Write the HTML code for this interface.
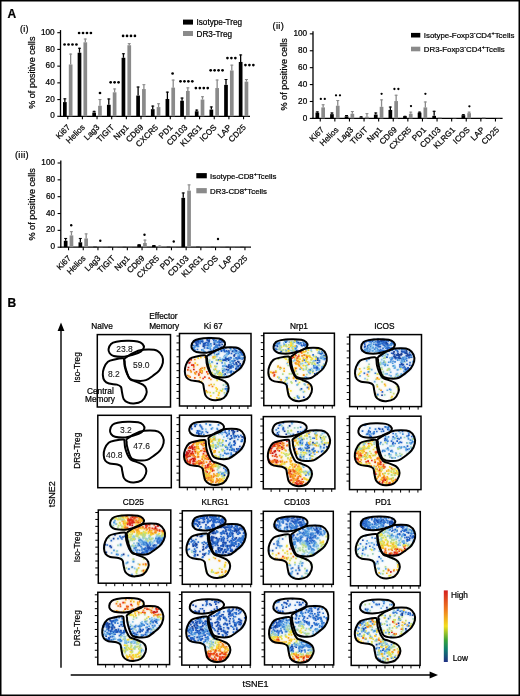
<!DOCTYPE html><html><head><meta charset="utf-8"><style>html,body{margin:0;padding:0;background:#fff;}body{width:520px;height:696px;overflow:hidden;} svg{display:block;will-change:transform;} text{stroke:#000;stroke-width:0.22px;}</style></head><body><svg width="520" height="696" viewBox="0 0 520 696" font-family='"Liberation Sans", sans-serif' fill="#000"><rect x="0" y="0" width="520" height="696" fill="#fff"/><text x="7.5" y="17.6" font-size="12" font-weight="bold">A</text><text x="20" y="32.2" font-size="9" letter-spacing="0.3">(i)</text><text x="272.6" y="29.3" font-size="9.3" letter-spacing="0.3">(ii)</text><text x="14.9" y="158" font-size="9.3" letter-spacing="0.35">(iii)</text><text x="31.9" y="72.7" font-size="9.1" text-anchor="middle" dominant-baseline="central" transform="rotate(-90 31.9 72.7)">% of positive cells</text><text x="284.3" y="74.4" font-size="9.1" text-anchor="middle" dominant-baseline="central" transform="rotate(-90 284.3 74.4)">% of positive cells</text><text x="31.8" y="204.4" font-size="9.1" text-anchor="middle" dominant-baseline="central" transform="rotate(-90 31.8 204.4)">% of positive cells</text><line x1="60.5" y1="30.1" x2="60.5" y2="116.9" stroke="#000" stroke-width="1.3"/><line x1="59.9" y1="116.3" x2="250" y2="116.3" stroke="#000" stroke-width="1.3"/><line x1="57.3" y1="116.3" x2="60.5" y2="116.3" stroke="#000" stroke-width="1.1"/><text x="54.7" y="118.4" font-size="8.2" text-anchor="end">0</text><line x1="57.3" y1="99.58" x2="60.5" y2="99.58" stroke="#000" stroke-width="1.1"/><text x="54.7" y="101.68" font-size="8.2" text-anchor="end">20</text><line x1="57.3" y1="82.86" x2="60.5" y2="82.86" stroke="#000" stroke-width="1.1"/><text x="54.7" y="84.96" font-size="8.2" text-anchor="end">40</text><line x1="57.3" y1="66.14" x2="60.5" y2="66.14" stroke="#000" stroke-width="1.1"/><text x="54.7" y="68.24" font-size="8.2" text-anchor="end">60</text><line x1="57.3" y1="49.42" x2="60.5" y2="49.42" stroke="#000" stroke-width="1.1"/><text x="54.7" y="51.52" font-size="8.2" text-anchor="end">80</text><line x1="57.3" y1="32.7" x2="60.5" y2="32.7" stroke="#000" stroke-width="1.1"/><text x="54.7" y="34.8" font-size="8.2" text-anchor="end">100</text><line x1="67.75" y1="116.3" x2="67.75" y2="119.3" stroke="#000" stroke-width="1.1"/><line x1="64.85" y1="102.09" x2="64.85" y2="98.33" stroke="#000" stroke-width="1.3"/><line x1="63.35" y1="98.83" x2="66.35" y2="98.83" stroke="#000" stroke-width="1"/><rect x="63" y="102.09" width="3.7" height="14.21" fill="#000"/><line x1="70.65" y1="64.47" x2="70.65" y2="53.6" stroke="#8a8a8a" stroke-width="1.3"/><line x1="69.15" y1="54.1" x2="72.15" y2="54.1" stroke="#8a8a8a" stroke-width="1"/><rect x="68.8" y="64.47" width="3.7" height="51.83" fill="#8a8a8a"/><text x="70.75" y="127.9" font-size="8.2" text-anchor="end" transform="rotate(-45 70.75 127.9)">Ki67</text><line x1="82.4" y1="116.3" x2="82.4" y2="119.3" stroke="#000" stroke-width="1.1"/><line x1="79.5" y1="52.76" x2="79.5" y2="47.75" stroke="#000" stroke-width="1.3"/><line x1="78" y1="48.25" x2="81" y2="48.25" stroke="#000" stroke-width="1"/><rect x="77.65" y="52.76" width="3.7" height="63.54" fill="#000"/><line x1="85.3" y1="42.31" x2="85.3" y2="38.55" stroke="#8a8a8a" stroke-width="1.3"/><line x1="83.8" y1="39.05" x2="86.8" y2="39.05" stroke="#8a8a8a" stroke-width="1"/><rect x="83.45" y="42.31" width="3.7" height="73.99" fill="#8a8a8a"/><text x="85.4" y="127.9" font-size="8.2" text-anchor="end" transform="rotate(-45 85.4 127.9)">Helios</text><line x1="97.05" y1="116.3" x2="97.05" y2="119.3" stroke="#000" stroke-width="1.1"/><line x1="94.15" y1="112.54" x2="94.15" y2="110.87" stroke="#000" stroke-width="1.3"/><line x1="92.65" y1="111.37" x2="95.65" y2="111.37" stroke="#000" stroke-width="1"/><rect x="92.3" y="112.54" width="3.7" height="3.76" fill="#000"/><line x1="99.95" y1="105.77" x2="99.95" y2="99.08" stroke="#8a8a8a" stroke-width="1.3"/><line x1="98.45" y1="99.58" x2="101.45" y2="99.58" stroke="#8a8a8a" stroke-width="1"/><rect x="98.1" y="105.77" width="3.7" height="10.53" fill="#8a8a8a"/><text x="100.05" y="127.9" font-size="8.2" text-anchor="end" transform="rotate(-45 100.05 127.9)">Lag3</text><line x1="111.7" y1="116.3" x2="111.7" y2="119.3" stroke="#000" stroke-width="1.1"/><line x1="108.8" y1="104.76" x2="108.8" y2="98.49" stroke="#000" stroke-width="1.3"/><line x1="107.3" y1="98.99" x2="110.3" y2="98.99" stroke="#000" stroke-width="1"/><rect x="106.95" y="104.76" width="3.7" height="11.54" fill="#000"/><line x1="114.6" y1="92.31" x2="114.6" y2="88.46" stroke="#8a8a8a" stroke-width="1.3"/><line x1="113.1" y1="88.96" x2="116.1" y2="88.96" stroke="#8a8a8a" stroke-width="1"/><rect x="112.75" y="92.31" width="3.7" height="23.99" fill="#8a8a8a"/><text x="114.7" y="127.9" font-size="8.2" text-anchor="end" transform="rotate(-45 114.7 127.9)">TIGIT</text><line x1="126.35" y1="116.3" x2="126.35" y2="119.3" stroke="#000" stroke-width="1.1"/><line x1="123.45" y1="57.78" x2="123.45" y2="53.27" stroke="#000" stroke-width="1.3"/><line x1="121.95" y1="53.77" x2="124.95" y2="53.77" stroke="#000" stroke-width="1"/><rect x="121.6" y="57.78" width="3.7" height="58.52" fill="#000"/><line x1="129.25" y1="45.24" x2="129.25" y2="43.15" stroke="#8a8a8a" stroke-width="1.3"/><line x1="127.75" y1="43.65" x2="130.75" y2="43.65" stroke="#8a8a8a" stroke-width="1"/><rect x="127.4" y="45.24" width="3.7" height="71.06" fill="#8a8a8a"/><text x="129.35" y="127.9" font-size="8.2" text-anchor="end" transform="rotate(-45 129.35 127.9)">Nrp1</text><line x1="141" y1="116.3" x2="141" y2="119.3" stroke="#000" stroke-width="1.1"/><line x1="138.1" y1="95.57" x2="138.1" y2="86.54" stroke="#000" stroke-width="1.3"/><line x1="136.6" y1="87.04" x2="139.6" y2="87.04" stroke="#000" stroke-width="1"/><rect x="136.25" y="95.57" width="3.7" height="20.73" fill="#000"/><line x1="143.9" y1="89.05" x2="143.9" y2="84.2" stroke="#8a8a8a" stroke-width="1.3"/><line x1="142.4" y1="84.7" x2="145.4" y2="84.7" stroke="#8a8a8a" stroke-width="1"/><rect x="142.05" y="89.05" width="3.7" height="27.25" fill="#8a8a8a"/><text x="144" y="127.9" font-size="8.2" text-anchor="end" transform="rotate(-45 144 127.9)">CD69</text><line x1="155.65" y1="116.3" x2="155.65" y2="119.3" stroke="#000" stroke-width="1.1"/><line x1="152.75" y1="109.19" x2="152.75" y2="105.6" stroke="#000" stroke-width="1.3"/><line x1="151.25" y1="106.1" x2="154.25" y2="106.1" stroke="#000" stroke-width="1"/><rect x="150.9" y="109.19" width="3.7" height="7.11" fill="#000"/><line x1="158.55" y1="107.1" x2="158.55" y2="103.26" stroke="#8a8a8a" stroke-width="1.3"/><line x1="157.05" y1="103.76" x2="160.05" y2="103.76" stroke="#8a8a8a" stroke-width="1"/><rect x="156.7" y="107.1" width="3.7" height="9.2" fill="#8a8a8a"/><text x="158.65" y="127.9" font-size="8.2" text-anchor="end" transform="rotate(-45 158.65 127.9)">CXCR5</text><line x1="170.3" y1="116.3" x2="170.3" y2="119.3" stroke="#000" stroke-width="1.1"/><line x1="167.4" y1="98.99" x2="167.4" y2="91.64" stroke="#000" stroke-width="1.3"/><line x1="165.9" y1="92.14" x2="168.9" y2="92.14" stroke="#000" stroke-width="1"/><rect x="165.55" y="98.99" width="3.7" height="17.31" fill="#000"/><line x1="173.2" y1="87.63" x2="173.2" y2="79.6" stroke="#8a8a8a" stroke-width="1.3"/><line x1="171.7" y1="80.1" x2="174.7" y2="80.1" stroke="#8a8a8a" stroke-width="1"/><rect x="171.35" y="87.63" width="3.7" height="28.67" fill="#8a8a8a"/><text x="173.3" y="127.9" font-size="8.2" text-anchor="end" transform="rotate(-45 173.3 127.9)">PD1</text><line x1="184.95" y1="116.3" x2="184.95" y2="119.3" stroke="#000" stroke-width="1.1"/><line x1="182.05" y1="100.75" x2="182.05" y2="97.57" stroke="#000" stroke-width="1.3"/><line x1="180.55" y1="98.07" x2="183.55" y2="98.07" stroke="#000" stroke-width="1"/><rect x="180.2" y="100.75" width="3.7" height="15.55" fill="#000"/><line x1="187.85" y1="90.97" x2="187.85" y2="87.37" stroke="#8a8a8a" stroke-width="1.3"/><line x1="186.35" y1="87.87" x2="189.35" y2="87.87" stroke="#8a8a8a" stroke-width="1"/><rect x="186" y="90.97" width="3.7" height="25.33" fill="#8a8a8a"/><text x="187.95" y="127.9" font-size="8.2" text-anchor="end" transform="rotate(-45 187.95 127.9)">CD103</text><line x1="199.6" y1="116.3" x2="199.6" y2="119.3" stroke="#000" stroke-width="1.1"/><line x1="196.7" y1="111.28" x2="196.7" y2="109.61" stroke="#000" stroke-width="1.3"/><line x1="195.2" y1="110.11" x2="198.2" y2="110.11" stroke="#000" stroke-width="1"/><rect x="194.85" y="111.28" width="3.7" height="5.02" fill="#000"/><line x1="202.5" y1="99.58" x2="202.5" y2="96.24" stroke="#8a8a8a" stroke-width="1.3"/><line x1="201" y1="96.74" x2="204" y2="96.74" stroke="#8a8a8a" stroke-width="1"/><rect x="200.65" y="99.58" width="3.7" height="16.72" fill="#8a8a8a"/><text x="202.6" y="127.9" font-size="8.2" text-anchor="end" transform="rotate(-45 202.6 127.9)">KLRG1</text><line x1="214.25" y1="116.3" x2="214.25" y2="119.3" stroke="#000" stroke-width="1.1"/><line x1="211.35" y1="109.61" x2="211.35" y2="106.44" stroke="#000" stroke-width="1.3"/><line x1="209.85" y1="106.94" x2="212.85" y2="106.94" stroke="#000" stroke-width="1"/><rect x="209.5" y="109.61" width="3.7" height="6.69" fill="#000"/><line x1="217.15" y1="88.04" x2="217.15" y2="79.52" stroke="#8a8a8a" stroke-width="1.3"/><line x1="215.65" y1="80.02" x2="218.65" y2="80.02" stroke="#8a8a8a" stroke-width="1"/><rect x="215.3" y="88.04" width="3.7" height="28.26" fill="#8a8a8a"/><text x="217.25" y="127.9" font-size="8.2" text-anchor="end" transform="rotate(-45 217.25 127.9)">ICOS</text><line x1="228.9" y1="116.3" x2="228.9" y2="119.3" stroke="#000" stroke-width="1.1"/><line x1="226" y1="84.87" x2="226" y2="79.01" stroke="#000" stroke-width="1.3"/><line x1="224.5" y1="79.51" x2="227.5" y2="79.51" stroke="#000" stroke-width="1"/><rect x="224.15" y="84.87" width="3.7" height="31.43" fill="#000"/><line x1="231.8" y1="70.49" x2="231.8" y2="64.64" stroke="#8a8a8a" stroke-width="1.3"/><line x1="230.3" y1="65.14" x2="233.3" y2="65.14" stroke="#8a8a8a" stroke-width="1"/><rect x="229.95" y="70.49" width="3.7" height="45.81" fill="#8a8a8a"/><text x="231.9" y="127.9" font-size="8.2" text-anchor="end" transform="rotate(-45 231.9 127.9)">LAP</text><line x1="243.55" y1="116.3" x2="243.55" y2="119.3" stroke="#000" stroke-width="1.1"/><line x1="240.65" y1="61.96" x2="240.65" y2="54.44" stroke="#000" stroke-width="1.3"/><line x1="239.15" y1="54.94" x2="242.15" y2="54.94" stroke="#000" stroke-width="1"/><rect x="238.8" y="61.96" width="3.7" height="54.34" fill="#000"/><line x1="246.45" y1="81.69" x2="246.45" y2="79.01" stroke="#8a8a8a" stroke-width="1.3"/><line x1="244.95" y1="79.51" x2="247.95" y2="79.51" stroke="#8a8a8a" stroke-width="1"/><rect x="244.6" y="81.69" width="3.7" height="34.61" fill="#8a8a8a"/><text x="246.55" y="127.9" font-size="8.2" text-anchor="end" transform="rotate(-45 246.55 127.9)">CD25</text><circle cx="64.58" cy="44.5" r="1.35"/><circle cx="68.53" cy="44.5" r="1.35"/><circle cx="72.47" cy="44.5" r="1.35"/><circle cx="76.42" cy="44.5" r="1.35"/><circle cx="79.08" cy="33" r="1.35"/><circle cx="83.03" cy="33" r="1.35"/><circle cx="86.97" cy="33" r="1.35"/><circle cx="90.92" cy="33" r="1.35"/><circle cx="100" cy="93" r="1.35"/><circle cx="110.65" cy="82.3" r="1.35"/><circle cx="114.6" cy="82.3" r="1.35"/><circle cx="118.55" cy="82.3" r="1.35"/><circle cx="123.08" cy="35.9" r="1.35"/><circle cx="127.03" cy="35.9" r="1.35"/><circle cx="130.97" cy="35.9" r="1.35"/><circle cx="134.93" cy="35.9" r="1.35"/><circle cx="172.6" cy="73.5" r="1.35"/><circle cx="180.47" cy="81.3" r="1.35"/><circle cx="184.43" cy="81.3" r="1.35"/><circle cx="188.38" cy="81.3" r="1.35"/><circle cx="192.33" cy="81.3" r="1.35"/><circle cx="195.88" cy="88.1" r="1.35"/><circle cx="199.83" cy="88.1" r="1.35"/><circle cx="203.78" cy="88.1" r="1.35"/><circle cx="207.73" cy="88.1" r="1.35"/><circle cx="210.67" cy="70.3" r="1.35"/><circle cx="214.62" cy="70.3" r="1.35"/><circle cx="218.57" cy="70.3" r="1.35"/><circle cx="222.53" cy="70.3" r="1.35"/><circle cx="227.45" cy="58.1" r="1.35"/><circle cx="231.4" cy="58.1" r="1.35"/><circle cx="235.35" cy="58.1" r="1.35"/><circle cx="245.45" cy="65.1" r="1.35"/><circle cx="249.4" cy="65.1" r="1.35"/><circle cx="253.35" cy="65.1" r="1.35"/><line x1="313" y1="31.25" x2="313" y2="119" stroke="#000" stroke-width="1.3"/><line x1="312.4" y1="118.4" x2="502.6" y2="118.4" stroke="#000" stroke-width="1.3"/><line x1="309.8" y1="118.4" x2="313" y2="118.4" stroke="#000" stroke-width="1.1"/><text x="307.2" y="120.5" font-size="8.2" text-anchor="end">0</text><line x1="309.8" y1="101.49" x2="313" y2="101.49" stroke="#000" stroke-width="1.1"/><text x="307.2" y="103.59" font-size="8.2" text-anchor="end">20</text><line x1="309.8" y1="84.58" x2="313" y2="84.58" stroke="#000" stroke-width="1.1"/><text x="307.2" y="86.68" font-size="8.2" text-anchor="end">40</text><line x1="309.8" y1="67.67" x2="313" y2="67.67" stroke="#000" stroke-width="1.1"/><text x="307.2" y="69.77" font-size="8.2" text-anchor="end">60</text><line x1="309.8" y1="50.76" x2="313" y2="50.76" stroke="#000" stroke-width="1.1"/><text x="307.2" y="52.86" font-size="8.2" text-anchor="end">80</text><line x1="309.8" y1="33.85" x2="313" y2="33.85" stroke="#000" stroke-width="1.1"/><text x="307.2" y="35.95" font-size="8.2" text-anchor="end">100</text><line x1="320.25" y1="118.4" x2="320.25" y2="121.4" stroke="#000" stroke-width="1.1"/><line x1="317.35" y1="112.65" x2="317.35" y2="111.38" stroke="#000" stroke-width="1.3"/><line x1="315.85" y1="111.88" x2="318.85" y2="111.88" stroke="#000" stroke-width="1"/><rect x="315.5" y="112.65" width="3.7" height="5.75" fill="#000"/><line x1="323.15" y1="107.41" x2="323.15" y2="104.28" stroke="#8a8a8a" stroke-width="1.3"/><line x1="321.65" y1="104.78" x2="324.65" y2="104.78" stroke="#8a8a8a" stroke-width="1"/><rect x="321.3" y="107.41" width="3.7" height="10.99" fill="#8a8a8a"/><text x="324.45" y="130.3" font-size="8.2" text-anchor="end" transform="rotate(-45 324.45 130.3)">Ki67</text><line x1="334.85" y1="118.4" x2="334.85" y2="121.4" stroke="#000" stroke-width="1.1"/><line x1="331.95" y1="114.17" x2="331.95" y2="112.48" stroke="#000" stroke-width="1.3"/><line x1="330.45" y1="112.98" x2="333.45" y2="112.98" stroke="#000" stroke-width="1"/><rect x="330.1" y="114.17" width="3.7" height="4.23" fill="#000"/><line x1="337.75" y1="105.72" x2="337.75" y2="100.05" stroke="#8a8a8a" stroke-width="1.3"/><line x1="336.25" y1="100.55" x2="339.25" y2="100.55" stroke="#8a8a8a" stroke-width="1"/><rect x="335.9" y="105.72" width="3.7" height="12.68" fill="#8a8a8a"/><text x="339.05" y="130.3" font-size="8.2" text-anchor="end" transform="rotate(-45 339.05 130.3)">Helios</text><line x1="349.45" y1="118.4" x2="349.45" y2="121.4" stroke="#000" stroke-width="1.1"/><line x1="346.55" y1="116.29" x2="346.55" y2="115.02" stroke="#000" stroke-width="1.3"/><line x1="345.05" y1="115.52" x2="348.05" y2="115.52" stroke="#000" stroke-width="1"/><rect x="344.7" y="116.29" width="3.7" height="2.11" fill="#000"/><line x1="352.35" y1="113.75" x2="352.35" y2="111.04" stroke="#8a8a8a" stroke-width="1.3"/><line x1="350.85" y1="111.54" x2="353.85" y2="111.54" stroke="#8a8a8a" stroke-width="1"/><rect x="350.5" y="113.75" width="3.7" height="4.65" fill="#8a8a8a"/><text x="353.65" y="130.3" font-size="8.2" text-anchor="end" transform="rotate(-45 353.65 130.3)">Lag3</text><line x1="364.05" y1="118.4" x2="364.05" y2="121.4" stroke="#000" stroke-width="1.1"/><line x1="361.15" y1="117.55" x2="361.15" y2="116.29" stroke="#000" stroke-width="1.3"/><line x1="359.65" y1="116.79" x2="362.65" y2="116.79" stroke="#000" stroke-width="1"/><rect x="359.3" y="117.55" width="3.7" height="0.85" fill="#000"/><line x1="366.95" y1="116.71" x2="366.95" y2="113.16" stroke="#8a8a8a" stroke-width="1.3"/><line x1="365.45" y1="113.66" x2="368.45" y2="113.66" stroke="#8a8a8a" stroke-width="1"/><rect x="365.1" y="116.71" width="3.7" height="1.69" fill="#8a8a8a"/><text x="368.25" y="130.3" font-size="8.2" text-anchor="end" transform="rotate(-45 368.25 130.3)">TIGIT</text><line x1="378.65" y1="118.4" x2="378.65" y2="121.4" stroke="#000" stroke-width="1.1"/><line x1="375.75" y1="114.6" x2="375.75" y2="112.48" stroke="#000" stroke-width="1.3"/><line x1="374.25" y1="112.98" x2="377.25" y2="112.98" stroke="#000" stroke-width="1"/><rect x="373.9" y="114.6" width="3.7" height="3.8" fill="#000"/><line x1="381.55" y1="106.82" x2="381.55" y2="99.38" stroke="#8a8a8a" stroke-width="1.3"/><line x1="380.05" y1="99.88" x2="383.05" y2="99.88" stroke="#8a8a8a" stroke-width="1"/><rect x="379.7" y="106.82" width="3.7" height="11.58" fill="#8a8a8a"/><text x="382.85" y="130.3" font-size="8.2" text-anchor="end" transform="rotate(-45 382.85 130.3)">Nrp1</text><line x1="393.25" y1="118.4" x2="393.25" y2="121.4" stroke="#000" stroke-width="1.1"/><line x1="390.35" y1="109.95" x2="390.35" y2="106.56" stroke="#000" stroke-width="1.3"/><line x1="388.85" y1="107.06" x2="391.85" y2="107.06" stroke="#000" stroke-width="1"/><rect x="388.5" y="109.95" width="3.7" height="8.46" fill="#000"/><line x1="396.15" y1="101.07" x2="396.15" y2="94.73" stroke="#8a8a8a" stroke-width="1.3"/><line x1="394.65" y1="95.23" x2="397.65" y2="95.23" stroke="#8a8a8a" stroke-width="1"/><rect x="394.3" y="101.07" width="3.7" height="17.33" fill="#8a8a8a"/><text x="397.45" y="130.3" font-size="8.2" text-anchor="end" transform="rotate(-45 397.45 130.3)">CD69</text><line x1="407.85" y1="118.4" x2="407.85" y2="121.4" stroke="#000" stroke-width="1.1"/><line x1="404.95" y1="116.29" x2="404.95" y2="115.86" stroke="#000" stroke-width="1.3"/><line x1="403.45" y1="116.36" x2="406.45" y2="116.36" stroke="#000" stroke-width="1"/><rect x="403.1" y="116.29" width="3.7" height="2.11" fill="#000"/><line x1="410.75" y1="113.75" x2="410.75" y2="111.64" stroke="#8a8a8a" stroke-width="1.3"/><line x1="409.25" y1="112.14" x2="412.25" y2="112.14" stroke="#8a8a8a" stroke-width="1"/><rect x="408.9" y="113.75" width="3.7" height="4.65" fill="#8a8a8a"/><text x="412.05" y="130.3" font-size="8.2" text-anchor="end" transform="rotate(-45 412.05 130.3)">CXCR5</text><line x1="422.45" y1="118.4" x2="422.45" y2="121.4" stroke="#000" stroke-width="1.1"/><line x1="419.55" y1="112.65" x2="419.55" y2="111.64" stroke="#000" stroke-width="1.3"/><line x1="418.05" y1="112.14" x2="421.05" y2="112.14" stroke="#000" stroke-width="1"/><rect x="417.7" y="112.65" width="3.7" height="5.75" fill="#000"/><line x1="425.35" y1="107.41" x2="425.35" y2="101.49" stroke="#8a8a8a" stroke-width="1.3"/><line x1="423.85" y1="101.99" x2="426.85" y2="101.99" stroke="#8a8a8a" stroke-width="1"/><rect x="423.5" y="107.41" width="3.7" height="10.99" fill="#8a8a8a"/><text x="426.65" y="130.3" font-size="8.2" text-anchor="end" transform="rotate(-45 426.65 130.3)">PD1</text><line x1="437.05" y1="118.4" x2="437.05" y2="121.4" stroke="#000" stroke-width="1.1"/><line x1="434.15" y1="115.86" x2="434.15" y2="110.79" stroke="#000" stroke-width="1.3"/><line x1="432.65" y1="111.29" x2="435.65" y2="111.29" stroke="#000" stroke-width="1"/><rect x="432.3" y="115.86" width="3.7" height="2.54" fill="#000"/><rect x="438.1" y="117.55" width="3.7" height="0.85" fill="#8a8a8a"/><text x="441.25" y="130.3" font-size="8.2" text-anchor="end" transform="rotate(-45 441.25 130.3)">CD103</text><line x1="451.65" y1="118.4" x2="451.65" y2="121.4" stroke="#000" stroke-width="1.1"/><rect x="446.9" y="118.06" width="3.7" height="0.34" fill="#000"/><rect x="452.7" y="118.06" width="3.7" height="0.34" fill="#8a8a8a"/><text x="455.85" y="130.3" font-size="8.2" text-anchor="end" transform="rotate(-45 455.85 130.3)">KLRG1</text><line x1="466.25" y1="118.4" x2="466.25" y2="121.4" stroke="#000" stroke-width="1.1"/><line x1="463.35" y1="115.19" x2="463.35" y2="114.17" stroke="#000" stroke-width="1.3"/><line x1="461.85" y1="114.67" x2="464.85" y2="114.67" stroke="#000" stroke-width="1"/><rect x="461.5" y="115.19" width="3.7" height="3.21" fill="#000"/><line x1="469.15" y1="113.16" x2="469.15" y2="111.64" stroke="#8a8a8a" stroke-width="1.3"/><line x1="467.65" y1="112.14" x2="470.65" y2="112.14" stroke="#8a8a8a" stroke-width="1"/><rect x="467.3" y="113.16" width="3.7" height="5.24" fill="#8a8a8a"/><text x="470.45" y="130.3" font-size="8.2" text-anchor="end" transform="rotate(-45 470.45 130.3)">ICOS</text><line x1="480.85" y1="118.4" x2="480.85" y2="121.4" stroke="#000" stroke-width="1.1"/><rect x="476.1" y="117.98" width="3.7" height="0.42" fill="#000"/><rect x="481.9" y="117.39" width="3.7" height="1.01" fill="#8a8a8a"/><text x="485.05" y="130.3" font-size="8.2" text-anchor="end" transform="rotate(-45 485.05 130.3)">LAP</text><line x1="495.45" y1="118.4" x2="495.45" y2="121.4" stroke="#000" stroke-width="1.1"/><rect x="490.7" y="117.98" width="3.7" height="0.42" fill="#000"/><rect x="496.5" y="118.06" width="3.7" height="0.34" fill="#8a8a8a"/><text x="499.65" y="130.3" font-size="8.2" text-anchor="end" transform="rotate(-45 499.65 130.3)">CD25</text><circle cx="320.82" cy="98.9" r="1.15"/><circle cx="324.78" cy="98.9" r="1.15"/><circle cx="336.02" cy="95.3" r="1.15"/><circle cx="339.98" cy="95.3" r="1.15"/><circle cx="381.6" cy="93.8" r="1.15"/><circle cx="394.42" cy="89" r="1.15"/><circle cx="398.38" cy="89" r="1.15"/><circle cx="411" cy="106.1" r="1.15"/><circle cx="425.4" cy="93.8" r="1.15"/><circle cx="469.4" cy="106.3" r="1.15"/><line x1="60.8" y1="160.4" x2="60.8" y2="247.8" stroke="#000" stroke-width="1.3"/><line x1="60.2" y1="247.2" x2="251" y2="247.2" stroke="#000" stroke-width="1.3"/><line x1="57.6" y1="247.2" x2="60.8" y2="247.2" stroke="#000" stroke-width="1.1"/><text x="55" y="249.3" font-size="8.2" text-anchor="end">0</text><line x1="57.6" y1="230.36" x2="60.8" y2="230.36" stroke="#000" stroke-width="1.1"/><text x="55" y="232.46" font-size="8.2" text-anchor="end">20</text><line x1="57.6" y1="213.52" x2="60.8" y2="213.52" stroke="#000" stroke-width="1.1"/><text x="55" y="215.62" font-size="8.2" text-anchor="end">40</text><line x1="57.6" y1="196.68" x2="60.8" y2="196.68" stroke="#000" stroke-width="1.1"/><text x="55" y="198.78" font-size="8.2" text-anchor="end">60</text><line x1="57.6" y1="179.84" x2="60.8" y2="179.84" stroke="#000" stroke-width="1.1"/><text x="55" y="181.94" font-size="8.2" text-anchor="end">80</text><line x1="57.6" y1="163" x2="60.8" y2="163" stroke="#000" stroke-width="1.1"/><text x="55" y="165.1" font-size="8.2" text-anchor="end">100</text><line x1="68.55" y1="247.2" x2="68.55" y2="250.2" stroke="#000" stroke-width="1.1"/><line x1="65.65" y1="240.8" x2="65.65" y2="237.94" stroke="#000" stroke-width="1.3"/><line x1="64.15" y1="238.44" x2="67.15" y2="238.44" stroke="#000" stroke-width="1"/><rect x="63.8" y="240.8" width="3.7" height="6.4" fill="#000"/><line x1="71.45" y1="235.41" x2="71.45" y2="231.2" stroke="#8a8a8a" stroke-width="1.3"/><line x1="69.95" y1="231.7" x2="72.95" y2="231.7" stroke="#8a8a8a" stroke-width="1"/><rect x="69.6" y="235.41" width="3.7" height="11.79" fill="#8a8a8a"/><text x="71.55" y="258.8" font-size="8.2" text-anchor="end" transform="rotate(-45 71.55 258.8)">Ki67</text><line x1="83.25" y1="247.2" x2="83.25" y2="250.2" stroke="#000" stroke-width="1.1"/><line x1="80.35" y1="242.32" x2="80.35" y2="237.94" stroke="#000" stroke-width="1.3"/><line x1="78.85" y1="238.44" x2="81.85" y2="238.44" stroke="#000" stroke-width="1"/><rect x="78.5" y="242.32" width="3.7" height="4.88" fill="#000"/><line x1="86.15" y1="238.44" x2="86.15" y2="233.39" stroke="#8a8a8a" stroke-width="1.3"/><line x1="84.65" y1="233.89" x2="87.65" y2="233.89" stroke="#8a8a8a" stroke-width="1"/><rect x="84.3" y="238.44" width="3.7" height="8.76" fill="#8a8a8a"/><text x="86.25" y="258.8" font-size="8.2" text-anchor="end" transform="rotate(-45 86.25 258.8)">Helios</text><line x1="97.95" y1="247.2" x2="97.95" y2="250.2" stroke="#000" stroke-width="1.1"/><rect x="93.2" y="246.69" width="3.7" height="0.51" fill="#000"/><rect x="99" y="246.69" width="3.7" height="0.51" fill="#8a8a8a"/><text x="100.95" y="258.8" font-size="8.2" text-anchor="end" transform="rotate(-45 100.95 258.8)">Lag3</text><line x1="112.65" y1="247.2" x2="112.65" y2="250.2" stroke="#000" stroke-width="1.1"/><rect x="107.9" y="246.86" width="3.7" height="0.34" fill="#000"/><rect x="113.7" y="246.86" width="3.7" height="0.34" fill="#8a8a8a"/><text x="115.65" y="258.8" font-size="8.2" text-anchor="end" transform="rotate(-45 115.65 258.8)">TIGIT</text><line x1="127.35" y1="247.2" x2="127.35" y2="250.2" stroke="#000" stroke-width="1.1"/><rect x="122.6" y="246.86" width="3.7" height="0.34" fill="#000"/><rect x="128.4" y="246.86" width="3.7" height="0.34" fill="#8a8a8a"/><text x="130.35" y="258.8" font-size="8.2" text-anchor="end" transform="rotate(-45 130.35 258.8)">Nrp1</text><line x1="142.05" y1="247.2" x2="142.05" y2="250.2" stroke="#000" stroke-width="1.1"/><line x1="139.15" y1="244.67" x2="139.15" y2="244.25" stroke="#000" stroke-width="1.3"/><line x1="137.65" y1="244.75" x2="140.65" y2="244.75" stroke="#000" stroke-width="1"/><rect x="137.3" y="244.67" width="3.7" height="2.53" fill="#000"/><line x1="144.95" y1="242.99" x2="144.95" y2="239.62" stroke="#8a8a8a" stroke-width="1.3"/><line x1="143.45" y1="240.12" x2="146.45" y2="240.12" stroke="#8a8a8a" stroke-width="1"/><rect x="143.1" y="242.99" width="3.7" height="4.21" fill="#8a8a8a"/><text x="145.05" y="258.8" font-size="8.2" text-anchor="end" transform="rotate(-45 145.05 258.8)">CD69</text><line x1="156.75" y1="247.2" x2="156.75" y2="250.2" stroke="#000" stroke-width="1.1"/><line x1="153.85" y1="245.52" x2="153.85" y2="245.09" stroke="#000" stroke-width="1.3"/><line x1="152.35" y1="245.59" x2="155.35" y2="245.59" stroke="#000" stroke-width="1"/><rect x="152" y="245.52" width="3.7" height="1.68" fill="#000"/><line x1="159.65" y1="245.94" x2="159.65" y2="245.52" stroke="#8a8a8a" stroke-width="1.3"/><line x1="158.15" y1="246.02" x2="161.15" y2="246.02" stroke="#8a8a8a" stroke-width="1"/><rect x="157.8" y="245.94" width="3.7" height="1.26" fill="#8a8a8a"/><text x="159.75" y="258.8" font-size="8.2" text-anchor="end" transform="rotate(-45 159.75 258.8)">CXCR5</text><line x1="171.45" y1="247.2" x2="171.45" y2="250.2" stroke="#000" stroke-width="1.1"/><rect x="166.7" y="246.69" width="3.7" height="0.51" fill="#000"/><rect x="172.5" y="246.69" width="3.7" height="0.51" fill="#8a8a8a"/><text x="174.45" y="258.8" font-size="8.2" text-anchor="end" transform="rotate(-45 174.45 258.8)">PD1</text><line x1="186.15" y1="247.2" x2="186.15" y2="250.2" stroke="#000" stroke-width="1.1"/><line x1="183.25" y1="197.86" x2="183.25" y2="192.47" stroke="#000" stroke-width="1.3"/><line x1="181.75" y1="192.97" x2="184.75" y2="192.97" stroke="#000" stroke-width="1"/><rect x="181.4" y="197.86" width="3.7" height="49.34" fill="#000"/><line x1="189.05" y1="190.62" x2="189.05" y2="184.39" stroke="#8a8a8a" stroke-width="1.3"/><line x1="187.55" y1="184.89" x2="190.55" y2="184.89" stroke="#8a8a8a" stroke-width="1"/><rect x="187.2" y="190.62" width="3.7" height="56.58" fill="#8a8a8a"/><text x="189.15" y="258.8" font-size="8.2" text-anchor="end" transform="rotate(-45 189.15 258.8)">CD103</text><line x1="200.85" y1="247.2" x2="200.85" y2="250.2" stroke="#000" stroke-width="1.1"/><rect x="196.1" y="246.69" width="3.7" height="0.51" fill="#000"/><rect x="201.9" y="246.69" width="3.7" height="0.51" fill="#8a8a8a"/><text x="203.85" y="258.8" font-size="8.2" text-anchor="end" transform="rotate(-45 203.85 258.8)">KLRG1</text><line x1="215.55" y1="247.2" x2="215.55" y2="250.2" stroke="#000" stroke-width="1.1"/><rect x="210.8" y="246.86" width="3.7" height="0.34" fill="#000"/><rect x="216.6" y="246.86" width="3.7" height="0.34" fill="#8a8a8a"/><text x="218.55" y="258.8" font-size="8.2" text-anchor="end" transform="rotate(-45 218.55 258.8)">ICOS</text><line x1="230.25" y1="247.2" x2="230.25" y2="250.2" stroke="#000" stroke-width="1.1"/><rect x="225.5" y="246.86" width="3.7" height="0.34" fill="#000"/><rect x="231.3" y="246.86" width="3.7" height="0.34" fill="#8a8a8a"/><text x="233.25" y="258.8" font-size="8.2" text-anchor="end" transform="rotate(-45 233.25 258.8)">LAP</text><line x1="244.95" y1="247.2" x2="244.95" y2="250.2" stroke="#000" stroke-width="1.1"/><rect x="240.2" y="246.86" width="3.7" height="0.34" fill="#000"/><rect x="246" y="246.86" width="3.7" height="0.34" fill="#8a8a8a"/><text x="247.95" y="258.8" font-size="8.2" text-anchor="end" transform="rotate(-45 247.95 258.8)">CD25</text><circle cx="71.2" cy="225.3" r="1.2"/><circle cx="100.3" cy="240.8" r="1.2"/><circle cx="144.5" cy="234.8" r="1.2"/><circle cx="173.75" cy="241.55" r="1.2"/><circle cx="218" cy="239.05" r="1.2"/><rect x="183" y="19.6" width="10" height="5" fill="#000"/><rect x="183" y="31" width="10" height="5" fill="#8a8a8a"/><text x="196.5" y="25.2" font-size="8.2">Isotype-Treg</text><text x="196.5" y="36.6" font-size="8.2">DR3-Treg</text><rect x="411" y="32.9" width="9.3" height="4.6" fill="#000"/><rect x="411" y="46.7" width="9.3" height="4.6" fill="#8a8a8a"/><text x="423.8" y="38.1" font-size="7.9">Isotype-Foxp3<tspan font-size="5.5" dy="-3">-</tspan><tspan dy="3">CD4</tspan><tspan font-size="5.5" dy="-3">+</tspan><tspan dy="3">Tcells</tspan></text><text x="423.8" y="51.9" font-size="7.9">DR3-Foxp3<tspan font-size="5.5" dy="-3">-</tspan><tspan dy="3">CD4</tspan><tspan font-size="5.5" dy="-3">+</tspan><tspan dy="3">Tcells</tspan></text><rect x="196.3" y="173.1" width="10.5" height="5.2" fill="#000"/><rect x="196.3" y="188.1" width="10.5" height="5.2" fill="#8a8a8a"/><text x="210.1" y="178.9" font-size="7.85">Isotype-CD8<tspan font-size="5.5" dy="-3">+</tspan><tspan dy="3">Tcells</tspan></text><text x="210.1" y="193.9" font-size="7.85">DR3-CD8<tspan font-size="5.5" dy="-3">+</tspan><tspan dy="3">Tcells</tspan></text><text x="7.5" y="307.2" font-size="12" font-weight="bold">B</text><line x1="61" y1="329" x2="61" y2="667.8" stroke="#000" stroke-width="1.4"/><path d="M61,322.6 L64.4,331 L57.6,331 Z" fill="#000"/><line x1="70.7" y1="675" x2="431" y2="675" stroke="#000" stroke-width="1.3"/><path d="M438,675 L429.6,671.6 L429.6,678.4 Z" fill="#000"/><text x="52.3" y="494.3" font-size="9" text-anchor="middle" dominant-baseline="central" transform="rotate(-90 52.3 494.3)">tSNE2</text><text x="255.6" y="687" font-size="9" text-anchor="middle">tSNE1</text><text x="91.2" y="328.7" font-size="8.3">Naïve</text><text x="149.2" y="319.4" font-size="8.3">Effector</text><text x="149.2" y="328.7" font-size="8.3">Memory</text><text x="213.3" y="328.6" font-size="8.3" text-anchor="middle">Ki 67</text><text x="299" y="328.6" font-size="8.3" text-anchor="middle">Nrp1</text><text x="384.3" y="328.6" font-size="8.3" text-anchor="middle">ICOS</text><text x="133.3" y="504.7" font-size="8.3" text-anchor="middle">CD25</text><text x="215.1" y="504.7" font-size="8.3" text-anchor="middle">KLRG1</text><text x="296.9" y="504.7" font-size="8.3" text-anchor="middle">CD103</text><text x="383.4" y="504.7" font-size="8.3" text-anchor="middle">PD1</text><text x="77.3" y="367.5" font-size="8.3" text-anchor="middle" dominant-baseline="central" transform="rotate(-90 77.3 367.5)">Iso-Treg</text><text x="77.3" y="450.8" font-size="8.3" text-anchor="middle" dominant-baseline="central" transform="rotate(-90 77.3 450.8)">DR3-Treg</text><text x="77.3" y="547" font-size="8.3" text-anchor="middle" dominant-baseline="central" transform="rotate(-90 77.3 547)">Iso-Treg</text><text x="77.3" y="628.2" font-size="8.3" text-anchor="middle" dominant-baseline="central" transform="rotate(-90 77.3 628.2)">DR3-Treg</text><defs><filter id="hb" x="-10%" y="-10%" width="120%" height="120%"><feGaussianBlur stdDeviation="1.3"/></filter></defs><rect x="97.3" y="334.6" width="73.2" height="72.4" fill="#fff" stroke="#000" stroke-width="1.5"/><path d="M108.56,349.22C108.79,347.69 109.72,345.25 111.02,344.02C112.32,342.78 113.7,342.35 116.34,341.82C118.98,341.28 123.35,340.88 126.88,340.82C130.41,340.75 134.91,340.88 137.52,341.42C140.13,341.95 141.49,342.95 142.54,344.02C143.59,345.09 144.11,346.55 143.82,347.82C143.52,349.09 142.49,350.51 140.77,351.62C139.04,352.74 136.23,353.69 133.48,354.53C130.72,355.36 127.52,356.4 124.22,356.63C120.92,356.86 116.11,356.5 113.68,355.93C111.25,355.36 110.49,354.34 109.64,353.23C108.79,352.11 108.33,350.76 108.56,349.22Z" fill="none" stroke="#000" stroke-width="2.0" stroke-linejoin="round"/><path d="M125.28,358.08C127.54,356.31 134.26,352.22 138.25,350.79C142.23,349.36 146,349.5 149.19,349.5C152.38,349.5 155.24,349.68 157.4,350.79C159.56,351.89 161.25,354.12 162.16,356.11C163.07,358.1 163.35,360.35 162.87,362.72C162.4,365.08 160.98,368.14 159.33,370.31C157.67,372.48 155.17,374.09 152.94,375.73C150.71,377.37 148.52,379.33 145.95,380.17C143.38,381 140.21,381 137.54,380.76C134.87,380.51 131.71,380.1 129.94,378.69C128.17,377.27 127.73,374.5 126.9,372.28C126.07,370.06 125.34,367.18 124.97,365.38C124.6,363.57 124.62,362.65 124.67,361.43C124.72,360.22 123.01,359.86 125.28,358.08Z" fill="none" stroke="#000" stroke-width="2.0" stroke-linejoin="round"/><path d="M123.14,358.36C121.55,358.07 117.18,358.89 114.64,359.45C112.1,360.01 109.69,360.3 107.9,361.73C106.11,363.17 104.74,365.88 103.89,368.08C103.04,370.28 102.72,372.82 102.82,374.92C102.91,377.02 103.45,379.23 104.48,380.67C105.5,382.11 106.9,382.88 108.97,383.54C111.04,384.2 114.9,384.07 116.89,384.63C118.88,385.2 120.05,385.67 120.9,386.91C121.74,388.15 121.52,390.07 121.97,392.07C122.43,394.07 122.69,397.19 123.63,398.91C124.58,400.63 125.95,401.6 127.64,402.38C129.33,403.16 131.45,403.75 133.8,403.57C136.14,403.39 139.64,402.82 141.71,401.29C143.78,399.75 145.46,396.45 146.21,394.35C146.96,392.25 146.76,390.32 146.21,388.7C145.66,387.08 144.76,385.87 142.89,384.63C141.01,383.39 137.04,382.12 134.97,381.26C132.9,380.4 131.79,380.72 130.47,379.48C129.15,378.24 128,375.93 127.05,373.83C126.11,371.73 125.28,368.99 124.81,366.89C124.33,364.79 124.5,362.66 124.22,361.24C123.94,359.82 124.74,358.66 123.14,358.36Z" fill="none" stroke="#000" stroke-width="2.0" stroke-linejoin="round"/><rect x="179.5" y="333.5" width="71.5" height="72.5" fill="#fff" stroke="#000" stroke-width="1.5"/><line x1="176.5" y1="336" x2="179.5" y2="336" stroke="#000" stroke-width="1"/><line x1="176.5" y1="342.93" x2="179.5" y2="342.93" stroke="#000" stroke-width="1"/><line x1="176.5" y1="349.86" x2="179.5" y2="349.86" stroke="#000" stroke-width="1"/><line x1="176.5" y1="356.79" x2="179.5" y2="356.79" stroke="#000" stroke-width="1"/><line x1="176.5" y1="363.72" x2="179.5" y2="363.72" stroke="#000" stroke-width="1"/><line x1="176.5" y1="370.65" x2="179.5" y2="370.65" stroke="#000" stroke-width="1"/><line x1="176.5" y1="377.58" x2="179.5" y2="377.58" stroke="#000" stroke-width="1"/><line x1="176.5" y1="384.51" x2="179.5" y2="384.51" stroke="#000" stroke-width="1"/><line x1="176.5" y1="391.44" x2="179.5" y2="391.44" stroke="#000" stroke-width="1"/><line x1="176.5" y1="398.37" x2="179.5" y2="398.37" stroke="#000" stroke-width="1"/><line x1="187.3" y1="406" x2="187.3" y2="409" stroke="#000" stroke-width="1"/><line x1="195.96" y1="406" x2="195.96" y2="409" stroke="#000" stroke-width="1"/><line x1="204.62" y1="406" x2="204.62" y2="409" stroke="#000" stroke-width="1"/><line x1="213.28" y1="406" x2="213.28" y2="409" stroke="#000" stroke-width="1"/><line x1="221.94" y1="406" x2="221.94" y2="409" stroke="#000" stroke-width="1"/><line x1="230.6" y1="406" x2="230.6" y2="409" stroke="#000" stroke-width="1"/><line x1="239.26" y1="406" x2="239.26" y2="409" stroke="#000" stroke-width="1"/><line x1="247.92" y1="406" x2="247.92" y2="409" stroke="#000" stroke-width="1"/><path d="M191.46,345.79C191.67,344.37 192.57,342.12 193.81,340.98C195.04,339.83 196.36,339.43 198.88,338.94C201.41,338.45 205.58,338.08 208.95,338.01C212.32,337.95 216.61,338.08 219.1,338.57C221.6,339.06 222.9,339.99 223.9,340.98C224.9,341.96 225.4,343.32 225.12,344.49C224.84,345.66 223.85,346.97 222.21,348.01C220.56,349.04 217.88,349.92 215.25,350.69C212.61,351.46 209.56,352.42 206.41,352.63C203.26,352.85 198.67,352.51 196.35,351.99C194.03,351.46 193.3,350.52 192.49,349.49C191.67,348.45 191.24,347.21 191.46,345.79Z" fill="#f7f9fd"/><path d="M207.66,355.55C209.88,353.85 216.48,349.91 220.39,348.54C224.31,347.16 228.01,347.3 231.14,347.3C234.28,347.3 237.08,347.48 239.2,348.54C241.33,349.6 242.98,351.74 243.88,353.66C244.78,355.57 245.04,357.73 244.58,360.01C244.11,362.29 242.72,365.23 241.09,367.31C239.47,369.4 237.01,370.95 234.82,372.53C232.63,374.11 230.48,375.99 227.96,376.79C225.44,377.6 222.32,377.6 219.7,377.36C217.08,377.13 213.98,376.73 212.23,375.37C210.49,374.01 210.06,371.34 209.25,369.21C208.44,367.07 207.72,364.31 207.36,362.57C206.99,360.83 207.01,359.95 207.06,358.78C207.11,357.61 205.43,357.26 207.66,355.55Z" fill="#f8fafc"/><path d="M205.14,355.36C203.55,355.07 199.18,355.89 196.64,356.45C194.1,357 191.69,357.28 189.9,358.71C188.11,360.14 186.74,362.83 185.89,365.01C185.04,367.2 184.72,369.72 184.82,371.81C184.91,373.89 185.45,376.09 186.48,377.52C187.5,378.95 188.9,379.72 190.97,380.38C193.04,381.03 196.9,380.9 198.89,381.46C200.88,382.02 202.05,382.49 202.9,383.72C203.74,384.96 203.52,386.86 203.97,388.84C204.43,390.83 204.69,393.93 205.63,395.64C206.58,397.35 207.95,398.32 209.64,399.09C211.33,399.86 213.45,400.45 215.8,400.27C218.14,400.09 221.64,399.53 223.71,398C225.78,396.48 227.46,393.19 228.21,391.11C228.96,389.03 228.76,387.11 228.21,385.5C227.66,383.89 226.76,382.69 224.89,381.46C223.01,380.23 219.04,378.96 216.97,378.11C214.9,377.26 213.79,377.57 212.47,376.34C211.15,375.11 210,372.81 209.05,370.72C208.11,368.64 207.28,365.92 206.81,363.83C206.33,361.75 206.5,359.63 206.22,358.22C205.94,356.81 206.74,355.66 205.14,355.36Z" fill="#fefbf7"/><defs><g id="d01"><g transform="translate(178.66 332.67) scale(0.3333)"><path d="M69 20h5v5h-5zm-6-1h5v5h-5zm-25 15h5v5h-5zm50 10h5v5h-5zm-1-7h5v5h-5zm-3 6h5v5h-5zm-37-5h5v5h-5zm-1 3h5v5h-5zm-2 2h5v5h-5zm-1 0h5v5h-5zm-3 0h5v5h-5zm4 8h5v5h-5zm0-1h5v5h-5zm23-1h5v5h-5zm5 3h5v5h-5zm2 3h5v5h-5zm2 0h5v5h-5zm19-2h5v5h-5zm15-4h5v5h-5z" fill="#4c96dd"/><path d="M121 19h5v5h-5zm-18 1h5v5h-5zm-1-3h5v5h-5zm-11-2h5v5h-5zm-6 0h5v5h-5zm-27 8h5v5h-5zm-1-2h5v5h-5zm-19 13h5v5h-5zm5-10h5v5h-5zm12 10h5v5h-5zm1-6h5v5h-5zm5-2h5v5h-5zm0-1h5v5h-5zm3-1h5v5h-5zm13 5h5v5h-5zm4-2h5v5h-5zm1 0h5v5h-5zm4 3h5v5h-5zm33-4h5v5h-5zm0-1h5v5h-5zm-9 13h5v5h-5zm-34-2h5v5h-5z" fill="#205cc4"/><path d="M121 20h5v5h-5zm-1 1h5v5h-5zm-1 2h5v5h-5zm-10-2h5v5h-5zm-7-5h5v5h-5zm-1 1h5v5h-5zm-8-3h5v5h-5zm-4 0h5v5h-5zm-20 9h5v5h-5zm-7-2h5v5h-5zm0 9h5v5h-5zm8-5h5v5h-5zm2 7h5v5h-5zm4 3h5v5h-5zm7 0h5v5h-5zm22-3h5v5h-5zm5-7h5v5h-5zm2 10h5v5h-5zm7-3h5v5h-5zm2 3h5v5h-5zm-2 11h5v5h-5zm-3-2h5v5h-5zm-2-8h5v5h-5zm-2 6h5v5h-5zm-8 2h5v5h-5zm-20-8h5v5h-5zm0 8h5v5h-5zm-9-1h5v5h-5zm-4-5h5v5h-5zm-29-2h5v5h-5zm4 14h5v5h-5zm8-2h5v5h-5zm48 1h5v5h-5z" fill="#2e6fcd"/><path d="M49 20h5v5h-5zm-1 3h5v5h-5zm-2 2h5v5h-5zm8-1h5v5h-5zm51 8h5v5h-5zm21 9h5v5h-5zm-53-3h5v5h-5z" fill="#193e96"/><path d="M110 23h5v5h-5zm-47-4h5v5h-5zm-2 7h5v5h-5zm27 2h5v5h-5zm0 6h5v5h-5zm6-3h5v5h-5zm10-5h5v5h-5zm7 1h5v5h-5zm2-1h5v5h-5zm10 18h5v5h-5zm-10-5h5v5h-5zm0 2h5v5h-5zm-4-3h5v5h-5zm0 4h5v5h-5zm-2-1h5v5h-5zm-2 3h5v5h-5zm-12 3h5v5h-5zm-36-8h5v5h-5zm-3 0h5v5h-5zm-4-2h5v5h-5zm-8 7h5v5h-5zm0 3h5v5h-5zm27 2h5v5h-5zm20 5h5v5h-5zm6-1h5v5h-5z" fill="#3b82d5"/><path d="M110 26h5v5h-5zm-15 11h5v5h-5zm-3 4h5v5h-5zm-4 0h5v5h-5zm-38-4h5v5h-5zm8 18h5v5h-5zm12-5h5v5h-5z" fill="#6cafe5"/><path d="M126 22h5v5h-5zm-37-2h5v5h-5zm-2 2h5v5h-5zm-1-1h5v5h-5zm-3-2h5v5h-5zm-27 4h5v5h-5zm-3-4h5v5h-5zm-4 5h5v5h-5zm1 5h5v5h-5zm1 6h5v5h-5zm1-3h5v5h-5zm0 1h5v5h-5zm15-9h5v5h-5zm6 7h5v5h-5zm2 0h5v5h-5zm14-7h5v5h-5zm35 3h5v5h-5zm4 6h5v5h-5zm3-8h5v5h-5zm-7 18h5v5h-5zm-5-7h5v5h-5z" fill="#1c4dad"/></g><g transform="translate(178.66 332.67) scale(0.3333)"><path d="M132 47h5v5h-5zm16 6h5v5h-5zm16 14h5v5h-5zm-34 12h5v5h-5zm9-3h5v5h-5zm9 4h5v5h-5zm18 1h5v5h-5zm26 4h5v5h-5zm-10 6h5v5h-5zm-4-5h5v5h-5zm-3-2h5v5h-5zm-4 9h5v5h-5zm-1-5h5v5h-5zm-24 13h5v5h-5zm3-2h5v5h-5zm1 4h5v5h-5zm1 0h5v5h-5zm4-5h5v5h-5zm21 0h5v5h-5zm2 8h5v5h-5zm5-4h5v5h-5zm-36 7h5v5h-5zm-3 8h5v5h-5zm-3-9h5v5h-5zm-4 14h5v5h-5z" fill="#193e96"/><path d="M112 80h5v5h-5zm-13 7h5v5h-5zm-7 4h5v5h-5zm-3-7h5v5h-5zm-1 8h5v5h-5zm1 14h5v5h-5zm22-7h5v5h-5zm2 19h5v5h-5zm-10-10h5v5h-5zm-3 15h5v5h-5zm15-1h5v5h-5zm11 1h5v5h-5z" fill="#b2da94"/><path d="M117 54h5v5h-5zm24 1h5v5h-5zm4-1h5v5h-5zm20 2h5v5h-5zm12 3h5v5h-5zm6-5h5v5h-5zm2 0h5v5h-5zm3 10h5v5h-5zm-8 6h5v5h-5zm-39-4h5v5h-5zm-6 3h5v5h-5zm-18-8h5v5h-5zm-5 2h5v5h-5zm36 11h5v5h-5zm7-1h5v5h-5zm4 10h5v5h-5zm4 0h5v5h-5zm7-10h5v5h-5zm3 4h5v5h-5zm20 7h5v5h-5zm-39 0h5v5h-5zm-1 20h5v5h-5zm6-5h5v5h-5zm2 2h5v5h-5zm16 3h5v5h-5zm-15 11h5v5h-5zm-8-1h5v5h-5zm-2 2h5v5h-5zm-20-5h5v5h-5zm-2 1h5v5h-5z" fill="#3b82d5"/><path d="M154 44h5v5h-5zm-47 11h5v5h-5zm24-5h5v5h-5zm5 4h5v5h-5zm24-2h5v5h-5zm5-1h5v5h-5zm6 3h5v5h-5zm12-1h5v5h-5zm-2 12h5v5h-5zm-33-5h5v5h-5zm-2 2h5v5h-5zm-29 18h5v5h-5zm6-2h5v5h-5zm6 3h5v5h-5zm12 1h5v5h-5zm16 0h5v5h-5zm6-7h5v5h-5zm14 0h5v5h-5zm-22 17h5v5h-5zm-3-6h5v5h-5zm-1 7h5v5h-5zm-23-5h5v5h-5zm-31-3h5v5h-5zm33 13h5v5h-5zm9 0h5v5h-5zm32 0h5v5h-5zm-15 14h5v5h-5zm-26 5h5v5h-5zm11 11h5v5h-5zm14-8h5v5h-5z" fill="#4c96dd"/><path d="M179 47h5v5h-5zm-1-1h5v5h-5zm-15-1h5v5h-5zm-24-2h5v5h-5zm-35 15h5v5h-5zm21-7h5v5h-5zm1 2h5v5h-5zm8-4h5v5h-5zm1 5h5v5h-5zm6-2h5v5h-5zm28 0h5v5h-5zm15 0h5v5h-5zm3 6h5v5h-5zm4 6h5v5h-5zm-5-4h5v5h-5zm-30 0h5v5h-5zm-18 6h5v5h-5zm0 7h5v5h-5zm42 1h5v5h-5zm8 2h5v5h-5zm-75 14h5v5h-5zm68 6h5v5h-5zm2 0h5v5h-5zm-28 19h5v5h-5zm-20-7h5v5h-5z" fill="#205cc4"/><path d="M171 45h5v5h-5zm-5 2h5v5h-5zm-14-3h5v5h-5zm-8 12h5v5h-5zm5 2h5v5h-5zm23 0h5v5h-5zm0 1h5v5h-5zm8-4h5v5h-5zm1-2h5v5h-5zm6 8h5v5h-5zm-11 10h5v5h-5zm-7-11h5v5h-5zm-27 1h5v5h-5zm-4 9h5v5h-5zm-21 9h5v5h-5zm19 0h5v5h-5zm5-1h5v5h-5zm10 0h5v5h-5zm2-6h5v5h-5zm17 1h5v5h-5zm6 2h5v5h-5zm7 0h5v5h-5zm8-2h5v5h-5zm-27 20h5v5h-5zm-3-4h5v5h-5zm-10 12h5v5h-5zm3 3h5v5h-5zm5-7h5v5h-5zm13 11h5v5h-5zm-26 2h5v5h-5zm-13 16h5v5h-5z" fill="#2e6fcd"/><path d="M119 55h5v5h-5zm23 3h5v5h-5zm0 7h5v5h-5zm-3 2h5v5h-5zm-5 3h5v5h-5zm-22-3h5v5h-5zm0 2h5v5h-5zm9 4h5v5h-5zm9 3h5v5h-5zm23 6h5v5h-5zm-16 11h5v5h-5zm-48-6h5v5h-5zm30 30h5v5h-5z" fill="#8cc8ec"/><path d="M120 81h5v5h-5zm-26 19h5v5h-5zm12-2h5v5h-5zm17 20h5v5h-5zm-1 1h5v5h-5zm-24 0h5v5h-5zm-1 1h5v5h-5zm7 5h5v5h-5zm15-4h5v5h-5zm0 7h5v5h-5zm6-1h5v5h-5z" fill="#e1de52"/><path d="M115 50h5v5h-5zm39-1h5v5h-5zm12 8h5v5h-5zm4-1h5v5h-5zm2 1h5v5h-5zm2 2h5v5h-5zm4-4h5v5h-5zm-2 10h5v5h-5zm-82-1h5v5h-5zm-5 2h5v5h-5zm37 15h5v5h-5zm37-5h5v5h-5zm23-3h5v5h-5zm1 0h5v5h-5zm-90 13h5v5h-5zm34 13h5v5h-5zm3-2h5v5h-5zm0 10h5v5h-5zm11 9h5v5h-5zm-9-4h5v5h-5zm-2-2h5v5h-5zm-18 6h5v5h-5zm-2-1h5v5h-5zm17 12h5v5h-5zm1-3h5v5h-5z" fill="#6cafe5"/><path d="M159 54h5v5h-5zm12-2h5v5h-5zm12 5h5v5h-5zm-18 7h5v5h-5zm-33 16h5v5h-5zm5 0h5v5h-5zm5-3h5v5h-5zm3-1h5v5h-5zm26 16h5v5h-5zm-23 3h5v5h-5zm-6 4h5v5h-5zm12 2h5v5h-5zm15 5h5v5h-5zm2-2h5v5h-5zm5-5h5v5h-5zm9-1h5v5h-5z" fill="#1c4dad"/><path d="M110 69h5v5h-5zm-4-5h5v5h-5zm-4 5h5v5h-5zm-12 11h5v5h-5zm21 0h5v5h-5zm25 9h5v5h-5zm-28 11h5v5h-5zm21 6h5v5h-5zm-10 6h5v5h-5zm-6 5h5v5h-5zm-8-7h5v5h-5zm2 11h5v5h-5zm15 2h5v5h-5zm9 4h5v5h-5z" fill="#9fd1c0"/><path d="M106 70h5v5h-5zm-13 26h5v5h-5zm15 11h5v5h-5z" fill="#f9c72e"/><path d="M101 75h5v5h-5zm4-1h5v5h-5zm6 6h5v5h-5zm14 2h5v5h-5zm-13 30h5v5h-5zm-15 5h5v5h-5zm29 13h5v5h-5zm1-8h5v5h-5z" fill="#c8de70"/><path d="M101 71h5v5h-5z" fill="#f7b029"/><path d="M120 117h5v5h-5z" fill="#fade34"/></g><g transform="translate(178.66 332.67) scale(0.3333)"><path d="M64 72h5v5h-5zm-17 17h5v5h-5zm19 55h5v5h-5zm47 23h5v5h-5zm-29 9h5v5h-5zm35 1h5v5h-5zm-2 8h5v5h-5zm-5 8h5v5h-5zm5 4h5v5h-5z" fill="#f9c72e"/><path d="M35 79h5v5h-5zm6 16h5v5h-5zm2 5h5v5h-5zm21 6h5v5h-5zm11-3h5v5h-5zm-7 10h5v5h-5zm-35-2h5v5h-5zm-9 15h5v5h-5zm8 5h5v5h-5zm53-10h5v5h-5zm-61 12h5v5h-5zm75 26h5v5h-5z" fill="#f27f1f"/><path d="M139 150h5v5h-5z" fill="#6cafe5"/><path d="M35 78h5v5h-5zm-6 10h5v5h-5zm14 20h5v5h-5z" fill="#c81816"/><path d="M76 71h5v5h-5zm-22 23h5v5h-5zm11 19h5v5h-5zm-37 15h5v5h-5zm34 4h5v5h-5zm33 21h5v5h-5z" fill="#f7b029"/><path d="M46 78h5v5h-5zm22 26h5v5h-5zm16-6h5v5h-5zm-20 13h5v5h-5zm-3-2h5v5h-5zm-15 9h5v5h-5zm-11-3h5v5h-5zm13 6h5v5h-5zm46 17h5v5h-5zm-35 4h5v5h-5zm30 14h5v5h-5zm-9 16h5v5h-5z" fill="#f69a23"/><path d="M104 153h5v5h-5zm-21 24h5v5h-5zm28-4h5v5h-5z" fill="#e1de52"/><path d="M37 95h5v5h-5zm45 20h5v5h-5zm-20 1h5v5h-5zm-4 6h5v5h-5zm18 9h5v5h-5zm-5 4h5v5h-5z" fill="#e63c1b"/><path d="M42 95h5v5h-5zm-11-8h5v5h-5zm-4 15h5v5h-5z" fill="#db2319"/><path d="M130 167h5v5h-5zm-28 11h5v5h-5zm21-7h5v5h-5zm12 7h5v5h-5z" fill="#b2da94"/><path d="M142 172h5v5h-5z" fill="#4c96dd"/><path d="M121 138h5v5h-5zm11 17h5v5h-5z" fill="#9fd1c0"/><path d="M67 118h5v5h-5zm-16-3h5v5h-5zm-26-6h5v5h-5zm33 16h5v5h-5zm31 9h5v5h-5zm-43-1h5v5h-5z" fill="#ec5d1d"/><path d="M144 154h5v5h-5zm-6 12h5v5h-5zm-1 18h5v5h-5z" fill="#8cc8ec"/><path d="M56 74h5v5h-5zm19 34h5v5h-5zm-9 7h5v5h-5zm47 26h5v5h-5zm-3 22h5v5h-5zm-18 14h5v5h-5zm27 2h5v5h-5zm8-7h5v5h-5zm-33 15h5v5h-5z" fill="#fade34"/><path d="M143 166h5v5h-5zm-2-7h5v5h-5zm-3 7h5v5h-5z" fill="#3b82d5"/><path d="M112 138h5v5h-5zm29 14h5v5h-5zm-21 42h5v5h-5z" fill="#c8de70"/></g></g></defs><use href="#d01" filter="url(#hb)" opacity="0.45"/><use href="#d01"/><path d="M191.46,345.79C191.67,344.37 192.57,342.12 193.81,340.98C195.04,339.83 196.36,339.43 198.88,338.94C201.41,338.45 205.58,338.08 208.95,338.01C212.32,337.95 216.61,338.08 219.1,338.57C221.6,339.06 222.9,339.99 223.9,340.98C224.9,341.96 225.4,343.32 225.12,344.49C224.84,345.66 223.85,346.97 222.21,348.01C220.56,349.04 217.88,349.92 215.25,350.69C212.61,351.46 209.56,352.42 206.41,352.63C203.26,352.85 198.67,352.51 196.35,351.99C194.03,351.46 193.3,350.52 192.49,349.49C191.67,348.45 191.24,347.21 191.46,345.79Z" fill="none" stroke="#000" stroke-width="2.0" stroke-linejoin="round"/><path d="M207.66,355.55C209.88,353.85 216.48,349.91 220.39,348.54C224.31,347.16 228.01,347.3 231.14,347.3C234.28,347.3 237.08,347.48 239.2,348.54C241.33,349.6 242.98,351.74 243.88,353.66C244.78,355.57 245.04,357.73 244.58,360.01C244.11,362.29 242.72,365.23 241.09,367.31C239.47,369.4 237.01,370.95 234.82,372.53C232.63,374.11 230.48,375.99 227.96,376.79C225.44,377.6 222.32,377.6 219.7,377.36C217.08,377.13 213.98,376.73 212.23,375.37C210.49,374.01 210.06,371.34 209.25,369.21C208.44,367.07 207.72,364.31 207.36,362.57C206.99,360.83 207.01,359.95 207.06,358.78C207.11,357.61 205.43,357.26 207.66,355.55Z" fill="none" stroke="#000" stroke-width="2.0" stroke-linejoin="round"/><path d="M205.14,355.36C203.55,355.07 199.18,355.89 196.64,356.45C194.1,357 191.69,357.28 189.9,358.71C188.11,360.14 186.74,362.83 185.89,365.01C185.04,367.2 184.72,369.72 184.82,371.81C184.91,373.89 185.45,376.09 186.48,377.52C187.5,378.95 188.9,379.72 190.97,380.38C193.04,381.03 196.9,380.9 198.89,381.46C200.88,382.02 202.05,382.49 202.9,383.72C203.74,384.96 203.52,386.86 203.97,388.84C204.43,390.83 204.69,393.93 205.63,395.64C206.58,397.35 207.95,398.32 209.64,399.09C211.33,399.86 213.45,400.45 215.8,400.27C218.14,400.09 221.64,399.53 223.71,398C225.78,396.48 227.46,393.19 228.21,391.11C228.96,389.03 228.76,387.11 228.21,385.5C227.66,383.89 226.76,382.69 224.89,381.46C223.01,380.23 219.04,378.96 216.97,378.11C214.9,377.26 213.79,377.57 212.47,376.34C211.15,375.11 210,372.81 209.05,370.72C208.11,368.64 207.28,365.92 206.81,363.83C206.33,361.75 206.5,359.63 206.22,358.22C205.94,356.81 206.74,355.66 205.14,355.36Z" fill="none" stroke="#000" stroke-width="2.0" stroke-linejoin="round"/><rect x="263.8" y="333.2" width="70.6" height="72.4" fill="#fff" stroke="#000" stroke-width="1.5"/><line x1="260.8" y1="335.7" x2="263.8" y2="335.7" stroke="#000" stroke-width="1"/><line x1="260.8" y1="342.63" x2="263.8" y2="342.63" stroke="#000" stroke-width="1"/><line x1="260.8" y1="349.56" x2="263.8" y2="349.56" stroke="#000" stroke-width="1"/><line x1="260.8" y1="356.49" x2="263.8" y2="356.49" stroke="#000" stroke-width="1"/><line x1="260.8" y1="363.42" x2="263.8" y2="363.42" stroke="#000" stroke-width="1"/><line x1="260.8" y1="370.35" x2="263.8" y2="370.35" stroke="#000" stroke-width="1"/><line x1="260.8" y1="377.28" x2="263.8" y2="377.28" stroke="#000" stroke-width="1"/><line x1="260.8" y1="384.21" x2="263.8" y2="384.21" stroke="#000" stroke-width="1"/><line x1="260.8" y1="391.14" x2="263.8" y2="391.14" stroke="#000" stroke-width="1"/><line x1="260.8" y1="398.07" x2="263.8" y2="398.07" stroke="#000" stroke-width="1"/><line x1="271.6" y1="405.6" x2="271.6" y2="408.6" stroke="#000" stroke-width="1"/><line x1="280.26" y1="405.6" x2="280.26" y2="408.6" stroke="#000" stroke-width="1"/><line x1="288.92" y1="405.6" x2="288.92" y2="408.6" stroke="#000" stroke-width="1"/><line x1="297.58" y1="405.6" x2="297.58" y2="408.6" stroke="#000" stroke-width="1"/><line x1="306.24" y1="405.6" x2="306.24" y2="408.6" stroke="#000" stroke-width="1"/><line x1="314.9" y1="405.6" x2="314.9" y2="408.6" stroke="#000" stroke-width="1"/><line x1="323.56" y1="405.6" x2="323.56" y2="408.6" stroke="#000" stroke-width="1"/><line x1="332.22" y1="405.6" x2="332.22" y2="408.6" stroke="#000" stroke-width="1"/><path d="M273.56,346.83C273.78,345.44 274.68,343.23 275.92,342.11C277.17,341 278.49,340.6 281.03,340.12C283.57,339.64 287.76,339.27 291.15,339.21C294.54,339.15 298.86,339.27 301.37,339.76C303.87,340.24 305.18,341.15 306.19,342.11C307.2,343.08 307.71,344.41 307.42,345.56C307.14,346.71 306.14,347.99 304.49,349C302.83,350.02 300.14,350.88 297.49,351.63C294.84,352.39 291.77,353.32 288.6,353.54C285.43,353.75 280.81,353.41 278.47,352.9C276.14,352.39 275.42,351.47 274.6,350.45C273.78,349.44 273.33,348.22 273.56,346.83Z" fill="#fafcfc"/><path d="M291.5,356.24C293.62,354.5 299.91,350.47 303.64,349.07C307.37,347.66 310.9,347.8 313.88,347.8C316.87,347.8 319.54,347.98 321.57,349.07C323.59,350.15 325.17,352.35 326.02,354.3C326.88,356.26 327.13,358.48 326.69,360.8C326.24,363.13 324.92,366.14 323.37,368.28C321.82,370.41 319.48,371.99 317.39,373.61C315.31,375.23 313.25,377.15 310.85,377.98C308.45,378.8 305.47,378.8 302.98,378.56C300.48,378.32 297.52,377.91 295.86,376.52C294.2,375.13 293.79,372.4 293.02,370.22C292.24,368.03 291.56,365.2 291.22,363.42C290.87,361.65 290.89,360.74 290.93,359.54C290.98,358.35 289.38,357.99 291.5,356.24Z" fill="#fcfcfa"/><path d="M288.6,356.56C287.01,356.27 282.65,357.08 280.11,357.64C277.58,358.19 275.17,358.47 273.39,359.89C271.6,361.31 270.23,363.98 269.39,366.15C268.54,368.32 268.22,370.83 268.32,372.9C268.41,374.97 268.95,377.15 269.97,378.57C271,379.99 272.4,380.76 274.46,381.41C276.52,382.06 280.37,381.93 282.36,382.48C284.34,383.04 285.51,383.51 286.36,384.73C287.2,385.96 286.97,387.85 287.43,389.82C287.88,391.79 288.14,394.88 289.09,396.57C290.03,398.27 291.39,399.23 293.08,399.99C294.77,400.76 296.89,401.35 299.23,401.17C301.57,400.99 305.06,400.43 307.12,398.92C309.19,397.4 310.86,394.14 311.61,392.07C312.36,390 312.16,388.09 311.61,386.5C311.06,384.9 310.16,383.71 308.29,382.48C306.43,381.26 302.46,380.01 300.4,379.16C298.33,378.31 297.23,378.62 295.91,377.4C294.59,376.18 293.44,373.89 292.5,371.82C291.56,369.75 290.73,367.05 290.26,364.97C289.78,362.9 289.95,360.8 289.67,359.4C289.39,358 290.19,356.86 288.6,356.56Z" fill="#fcfcf9"/><defs><g id="d02"><g transform="translate(262.97 332.37) scale(0.3333)"><path d="M72 19h5v5h-5zm-9 4h5v5h-5zm-16 12h5v5h-5zm13-5h5v5h-5zm7-4h5v5h-5zm31 16h5v5h-5zm-2 0h5v5h-5zm-1 5h5v5h-5zm-2-3h5v5h-5zm-29-8h5v5h-5zm-13 1h5v5h-5z" fill="#8cc8ec"/><path d="M75 35h5v5h-5zm8-10h5v5h-5zm9 1h5v5h-5zm3-2h5v5h-5zm-8 16h5v5h-5zm-6 0h5v5h-5zm-14-4h5v5h-5zm-12 17h5v5h-5zm12 3h5v5h-5z" fill="#c8de70"/><path d="M84 37h5v5h-5zm-15 3h5v5h-5zm-3-3h5v5h-5zm-6 1h5v5h-5zm-7 4h5v5h-5zm-4 6h5v5h-5zm4 4h5v5h-5zm12-2h5v5h-5zm9 1h5v5h-5z" fill="#e1de52"/><path d="M43 31h5v5h-5zm68-2h5v5h-5zm9 1h5v5h-5zm7 5h5v5h-5zm-29 4h5v5h-5zm-59 10h5v5h-5zm61 3h5v5h-5z" fill="#2e6fcd"/><path d="M96 23h5v5h-5zm-35 11h5v5h-5zm16-7h5v5h-5zm14 0h5v5h-5zm37 5h5v5h-5zm-97 7h5v5h-5zm17 20h5v5h-5zm19-7h5v5h-5zm18 1h5v5h-5zm10-5h5v5h-5z" fill="#6cafe5"/><path d="M84 27h5v5h-5zm3 5h5v5h-5zm1 8h5v5h-5zm-21-1h5v5h-5zm-20 7h5v5h-5zm2 3h5v5h-5zm25 5h5v5h-5zm13-2h5v5h-5zm5 0h5v5h-5z" fill="#b2da94"/><path d="M43 31h5v5h-5zm20-7h5v5h-5zm6 0h5v5h-5zm31 5h5v5h-5zm3 1h5v5h-5zm3 2h5v5h-5zm2-1h5v5h-5zm10-4h5v5h-5zm-3 11h5v5h-5zm-16 3h5v5h-5zm-62-4h5v5h-5z" fill="#4c96dd"/><path d="M101 21h5v5h-5zm-38 1h5v5h-5zm-25 4h5v5h-5zm55-1h5v5h-5zm-8 19h5v5h-5zm-35 2h5v5h-5zm-1-8h5v5h-5zm-1 5h5v5h-5zm-3 6h5v5h-5zm13 1h5v5h-5zm23 2h5v5h-5zm6-2h5v5h-5z" fill="#9fd1c0"/><path d="M94 39h5v5h-5zm-12-3h5v5h-5zm-6 7h5v5h-5zm-2 11h5v5h-5z" fill="#f9c72e"/><path d="M39 30h5v5h-5zm6 1h5v5h-5zm2-2h5v5h-5zm52-4h5v5h-5zm11 5h5v5h-5zm14 4h5v5h-5zm-1 4h5v5h-5zm-27 8h5v5h-5zm-22 1h5v5h-5zm-34-11h5v5h-5zm-4 10h5v5h-5zm13 13h5v5h-5z" fill="#3b82d5"/><path d="M104 28h5v5h-5zm23 0h5v5h-5zm-7 8h5v5h-5zm-79 4h5v5h-5zm-7-3h5v5h-5zm-3 0h5v5h-5z" fill="#1c4dad"/><path d="M66 27h5v5h-5zm60 7h5v5h-5zm2 1h5v5h-5zm-15 1h5v5h-5zm-80 15h5v5h-5zm19 4h5v5h-5z" fill="#205cc4"/><path d="M93 23h5v5h-5zm-13 5h5v5h-5zm2 3h5v5h-5zm5 15h5v5h-5zm-6-9h5v5h-5zm-6 15h5v5h-5z" fill="#fade34"/><path d="M98 53h5v5h-5z" fill="#193e96"/></g><g transform="translate(262.97 332.37) scale(0.3333)"><path d="M132 59h5v5h-5zm11-4h5v5h-5zm17-7h5v5h-5zm5 11h5v5h-5zm2-8h5v5h-5zm7 7h5v5h-5zm-24 12h5v5h-5zm-57 8h5v5h-5zm57 7h5v5h-5zm-1 1h5v5h-5zm-4 3h5v5h-5zm0 4h5v5h-5zm-35-2h5v5h-5zm8 6h5v5h-5zm10 7h5v5h-5zm1-7h5v5h-5zm6 12h5v5h-5zm-8 0h5v5h-5zm2 15h5v5h-5z" fill="#b2da94"/><path d="M128 50h5v5h-5zm14 1h5v5h-5zm42 16h5v5h-5zm-4 0h5v5h-5zm-5 1h5v5h-5zm-82 14h5v5h-5zm56 1h5v5h-5zm20-8h5v5h-5zm6-1h5v5h-5zm1 3h5v5h-5zm4 16h5v5h-5zm-15 2h5v5h-5zm-33 0h5v5h-5zm-1-8h5v5h-5zm-15 4h5v5h-5zm-28-7h5v5h-5zm55 22h5v5h-5zm12-6h5v5h-5zm19 2h5v5h-5zm-9 8h5v5h-5zm-27 5h5v5h-5zm-5-2h5v5h-5zm-36 16h5v5h-5zm37 5h5v5h-5z" fill="#8cc8ec"/><path d="M174 55h5v5h-5zm-10 5h5v5h-5zm-7 11h5v5h-5zm2 5h5v5h-5zm2 2h5v5h-5zm11-3h5v5h-5zm-10 14h5v5h-5zm14 11h5v5h-5zm0 4h5v5h-5zm-15 5h5v5h-5zm-3 2h5v5h-5zm-11 3h5v5h-5zm-11 4h5v5h-5zm-9 16h5v5h-5z" fill="#4c96dd"/><path d="M116 56h5v5h-5zm3 1h5v5h-5zm45 1h5v5h-5zm18 12h5v5h-5zm-45-3h5v5h-5zm-32-3h5v5h-5zm-12 4h5v5h-5zm26 5h5v5h-5zm7 4h5v5h-5zm3-1h5v5h-5zm14-2h5v5h-5zm16 2h5v5h-5zm-7 15h5v5h-5zm-36-7h5v5h-5zm-32 3h5v5h-5zm35 24h5v5h-5z" fill="#e1de52"/><path d="M132 48h5v5h-5zm26 0h5v5h-5zm27 22h5v5h-5zm-11-7h5v5h-5zm-15 17h5v5h-5zm-48 12h5v5h-5zm40 4h5v5h-5zm12 1h5v5h-5zm4 0h5v5h-5zm-21 14h5v5h-5zm-6 0h5v5h-5zm-21-3h5v5h-5zm-22 6h5v5h-5zm0 13h5v5h-5z" fill="#9fd1c0"/><path d="M137 69h5v5h-5zm-4 0h5v5h-5zm-14 7h5v5h-5zm10 1h5v5h-5zm10-5h5v5h-5zm-34 15h5v5h-5zm-8 6h5v5h-5zm8 3h5v5h-5zm6 7h5v5h-5zm3 3h5v5h-5zm-21 5h5v5h-5zm-1 5h5v5h-5z" fill="#f9c72e"/><path d="M182 79h5v5h-5zm-15 8h5v5h-5zm-17 11h5v5h-5zm1 6h5v5h-5zm8-4h5v5h-5zm1 6h5v5h-5zm1 0h5v5h-5zm13 0h5v5h-5zm-35 4h5v5h-5zm20 10h5v5h-5z" fill="#3b82d5"/><path d="M111 55h5v5h-5zm4 13h5v5h-5zm-1-8h5v5h-5zm-20 3h5v5h-5zm-6 9h5v5h-5zm4 1h5v5h-5zm7 8h5v5h-5zm36 12h5v5h-5zm-28-7h5v5h-5zm-3 7h5v5h-5zm-1 0h5v5h-5zm0-9h5v5h-5zm-2 0h5v5h-5zm6 14h5v5h-5z" fill="#f69a23"/><path d="M84 75h5v5h-5zm19-3h5v5h-5zm26 0h5v5h-5z" fill="#c81816"/><path d="M118 53h5v5h-5zm44-5h5v5h-5zm-7 22h5v5h-5zm-32-5h5v5h-5zm19 15h5v5h-5zm12 14h5v5h-5zm-15-6h5v5h-5zm-13 10h5v5h-5zm53-1h5v5h-5zm-32 21h5v5h-5zm-8-2h5v5h-5zm-38 7h5v5h-5zm17 12h5v5h-5z" fill="#c8de70"/><path d="M165 58h5v5h-5zm1-2h5v5h-5zm5 16h5v5h-5zm6 0h5v5h-5zm2 2h5v5h-5zm1 4h5v5h-5zm-53 6h5v5h-5zm-2 4h5v5h-5zm28 10h5v5h-5zm13 10h5v5h-5zm-57 0h5v5h-5zm30 13h5v5h-5zm-13 11h5v5h-5zm-3 1h5v5h-5z" fill="#6cafe5"/><path d="M181 67h5v5h-5zm-12-6h5v5h-5zm15 15h5v5h-5zm-23 13h5v5h-5zm-4 15h5v5h-5zm4 0h5v5h-5zm-32 31h5v5h-5z" fill="#205cc4"/><path d="M176 60h5v5h-5zm-4 2h5v5h-5zm-24 3h5v5h-5zm-27 16h5v5h-5zm34 1h5v5h-5zm12 0h5v5h-5z" fill="#2e6fcd"/><path d="M114 52h5v5h-5zm9 4h5v5h-5zm11-5h5v5h-5zm26-1h5v5h-5zm-30 17h5v5h-5zm-24 12h5v5h-5zm3-1h5v5h-5zm37-1h5v5h-5zm10 1h5v5h-5zm-24 9h5v5h-5zm-5-3h5v5h-5zm-33 20h5v5h-5zm4 1h5v5h-5zm22-8h5v5h-5zm-1 29h5v5h-5z" fill="#fade34"/><path d="M107 56h5v5h-5zm-2 13h5v5h-5zm-11-6h5v5h-5zm6 12h5v5h-5zm-4 31h5v5h-5z" fill="#ec5d1d"/><path d="M121 66h5v5h-5zm-36 5h5v5h-5zm44 1h5v5h-5zm-34 18h5v5h-5zm25 36h5v5h-5z" fill="#f27f1f"/><path d="M118 55h5v5h-5zm8-1h5v5h-5zm1 13h5v5h-5zm-23 7h5v5h-5zm13 8h5v5h-5zm-19 8h5v5h-5z" fill="#f7b029"/><path d="M111 56h5v5h-5zm-15 11h5v5h-5zm-8 5h5v5h-5z" fill="#e63c1b"/><path d="M162 75h5v5h-5z" fill="#1c4dad"/><path d="M162 81h5v5h-5zm-9 41h5v5h-5z" fill="#193e96"/></g><g transform="translate(262.97 332.37) scale(0.3333)"><path d="M30 118h5v5h-5z" fill="#db2319"/><path d="M74 72h5v5h-5zm1 11h5v5h-5zm-23 22h5v5h-5zm-16 8h5v5h-5zm-20 11h5v5h-5zm95 15h5v5h-5zm-36-4h5v5h-5zm-12 11h5v5h-5zm59 29h5v5h-5zm-46 7h5v5h-5z" fill="#e1de52"/><path d="M62 74h5v5h-5zm5 4h5v5h-5zm-25 54h5v5h-5zm65 16h5v5h-5zm-33 20h5v5h-5zm7 5h5v5h-5z" fill="#fade34"/><path d="M96 143h5v5h-5z" fill="#2e6fcd"/><path d="M44 77h5v5h-5zm18-4h5v5h-5zm12 7h5v5h-5zm3 42h5v5h-5zm40 21h5v5h-5zm-67-4h5v5h-5zm34 10h5v5h-5zm19 5h5v5h-5zm-11 40h5v5h-5zm14-2h5v5h-5z" fill="#c8de70"/><path d="M73 97h5v5h-5zm-24 11h5v5h-5zm8 15h5v5h-5zm26-1h5v5h-5zm20 17h5v5h-5zm-37 2h5v5h-5zm-21-7h5v5h-5zm37 12h5v5h-5zm21 7h5v5h-5zm7 16h5v5h-5z" fill="#b2da94"/><path d="M72 88h5v5h-5zm-29 11h5v5h-5zm18 7h5v5h-5zm0 8h5v5h-5zm29 22h5v5h-5zm0-4h5v5h-5zm-1 3h5v5h-5zm-44 11h5v5h-5zm88 8h5v5h-5z" fill="#f7b029"/><path d="M70 91h5v5h-5zm0 46h5v5h-5zm-24-4h5v5h-5zm73 43h5v5h-5zm0 1h5v5h-5z" fill="#8cc8ec"/><path d="M42 101h5v5h-5zm-19 17h5v5h-5zm-2-1h5v5h-5zm78 21h5v5h-5zm40 20h5v5h-5zm-4 9h5v5h-5z" fill="#f9c72e"/><path d="M69 158h5v5h-5zm32 31h5v5h-5zm1 4h5v5h-5zm3 2h5v5h-5z" fill="#4c96dd"/><path d="M36 117h5v5h-5zm16 23h5v5h-5zm82 23h5v5h-5z" fill="#f69a23"/><path d="M70 133h5v5h-5zm-2 0h5v5h-5zm2 18h5v5h-5zm30 4h5v5h-5zm22-2h5v5h-5z" fill="#6cafe5"/><path d="M31 128h5v5h-5z" fill="#ec5d1d"/><path d="M131 163h5v5h-5z" fill="#3b82d5"/><path d="M124 155h5v5h-5zm-14 15h5v5h-5z" fill="#9fd1c0"/><path d="M49 103h5v5h-5zm-22 16h5v5h-5z" fill="#f27f1f"/><path d="M113 167h5v5h-5z" fill="#205cc4"/><path d="M32 125h5v5h-5z" fill="#e63c1b"/><path d="M120 192h5v5h-5z" fill="#1c4dad"/></g></g></defs><use href="#d02" filter="url(#hb)" opacity="0.45"/><use href="#d02"/><path d="M273.56,346.83C273.78,345.44 274.68,343.23 275.92,342.11C277.17,341 278.49,340.6 281.03,340.12C283.57,339.64 287.76,339.27 291.15,339.21C294.54,339.15 298.86,339.27 301.37,339.76C303.87,340.24 305.18,341.15 306.19,342.11C307.2,343.08 307.71,344.41 307.42,345.56C307.14,346.71 306.14,347.99 304.49,349C302.83,350.02 300.14,350.88 297.49,351.63C294.84,352.39 291.77,353.32 288.6,353.54C285.43,353.75 280.81,353.41 278.47,352.9C276.14,352.39 275.42,351.47 274.6,350.45C273.78,349.44 273.33,348.22 273.56,346.83Z" fill="none" stroke="#000" stroke-width="2.0" stroke-linejoin="round"/><path d="M291.5,356.24C293.62,354.5 299.91,350.47 303.64,349.07C307.37,347.66 310.9,347.8 313.88,347.8C316.87,347.8 319.54,347.98 321.57,349.07C323.59,350.15 325.17,352.35 326.02,354.3C326.88,356.26 327.13,358.48 326.69,360.8C326.24,363.13 324.92,366.14 323.37,368.28C321.82,370.41 319.48,371.99 317.39,373.61C315.31,375.23 313.25,377.15 310.85,377.98C308.45,378.8 305.47,378.8 302.98,378.56C300.48,378.32 297.52,377.91 295.86,376.52C294.2,375.13 293.79,372.4 293.02,370.22C292.24,368.03 291.56,365.2 291.22,363.42C290.87,361.65 290.89,360.74 290.93,359.54C290.98,358.35 289.38,357.99 291.5,356.24Z" fill="none" stroke="#000" stroke-width="2.0" stroke-linejoin="round"/><path d="M288.6,356.56C287.01,356.27 282.65,357.08 280.11,357.64C277.58,358.19 275.17,358.47 273.39,359.89C271.6,361.31 270.23,363.98 269.39,366.15C268.54,368.32 268.22,370.83 268.32,372.9C268.41,374.97 268.95,377.15 269.97,378.57C271,379.99 272.4,380.76 274.46,381.41C276.52,382.06 280.37,381.93 282.36,382.48C284.34,383.04 285.51,383.51 286.36,384.73C287.2,385.96 286.97,387.85 287.43,389.82C287.88,391.79 288.14,394.88 289.09,396.57C290.03,398.27 291.39,399.23 293.08,399.99C294.77,400.76 296.89,401.35 299.23,401.17C301.57,400.99 305.06,400.43 307.12,398.92C309.19,397.4 310.86,394.14 311.61,392.07C312.36,390 312.16,388.09 311.61,386.5C311.06,384.9 310.16,383.71 308.29,382.48C306.43,381.26 302.46,380.01 300.4,379.16C298.33,378.31 297.23,378.62 295.91,377.4C294.59,376.18 293.44,373.89 292.5,371.82C291.56,369.75 290.73,367.05 290.26,364.97C289.78,362.9 289.95,360.8 289.67,359.4C289.39,358 290.19,356.86 288.6,356.56Z" fill="none" stroke="#000" stroke-width="2.0" stroke-linejoin="round"/><rect x="349.7" y="334.6" width="71.8" height="72" fill="#fff" stroke="#000" stroke-width="1.5"/><line x1="346.7" y1="337.1" x2="349.7" y2="337.1" stroke="#000" stroke-width="1"/><line x1="346.7" y1="344.03" x2="349.7" y2="344.03" stroke="#000" stroke-width="1"/><line x1="346.7" y1="350.96" x2="349.7" y2="350.96" stroke="#000" stroke-width="1"/><line x1="346.7" y1="357.89" x2="349.7" y2="357.89" stroke="#000" stroke-width="1"/><line x1="346.7" y1="364.82" x2="349.7" y2="364.82" stroke="#000" stroke-width="1"/><line x1="346.7" y1="371.75" x2="349.7" y2="371.75" stroke="#000" stroke-width="1"/><line x1="346.7" y1="378.68" x2="349.7" y2="378.68" stroke="#000" stroke-width="1"/><line x1="346.7" y1="385.61" x2="349.7" y2="385.61" stroke="#000" stroke-width="1"/><line x1="346.7" y1="392.54" x2="349.7" y2="392.54" stroke="#000" stroke-width="1"/><line x1="346.7" y1="399.47" x2="349.7" y2="399.47" stroke="#000" stroke-width="1"/><line x1="357.5" y1="406.6" x2="357.5" y2="409.6" stroke="#000" stroke-width="1"/><line x1="366.16" y1="406.6" x2="366.16" y2="409.6" stroke="#000" stroke-width="1"/><line x1="374.82" y1="406.6" x2="374.82" y2="409.6" stroke="#000" stroke-width="1"/><line x1="383.48" y1="406.6" x2="383.48" y2="409.6" stroke="#000" stroke-width="1"/><line x1="392.14" y1="406.6" x2="392.14" y2="409.6" stroke="#000" stroke-width="1"/><line x1="400.8" y1="406.6" x2="400.8" y2="409.6" stroke="#000" stroke-width="1"/><line x1="409.46" y1="406.6" x2="409.46" y2="409.6" stroke="#000" stroke-width="1"/><line x1="418.12" y1="406.6" x2="418.12" y2="409.6" stroke="#000" stroke-width="1"/><path d="M361.16,346.83C361.37,345.44 362.27,343.23 363.51,342.11C364.74,341 366.06,340.6 368.58,340.12C371.11,339.64 375.28,339.27 378.65,339.21C382.02,339.15 386.31,339.27 388.8,339.76C391.3,340.24 392.6,341.15 393.6,342.11C394.6,343.08 395.1,344.41 394.82,345.56C394.54,346.71 393.55,347.99 391.91,349C390.26,350.02 387.58,350.88 384.95,351.63C382.31,352.39 379.26,353.32 376.11,353.54C372.96,353.75 368.37,353.41 366.05,352.9C363.73,352.39 363,351.47 362.19,350.45C361.37,349.44 360.94,348.22 361.16,346.83Z" fill="#f7f9fd"/><path d="M378.61,356.61C380.75,354.89 387.11,350.93 390.89,349.54C394.66,348.16 398.22,348.3 401.24,348.3C404.26,348.3 406.96,348.48 409.01,349.54C411.05,350.61 412.65,352.77 413.51,354.7C414.38,356.62 414.63,358.8 414.18,361.09C413.74,363.39 412.39,366.34 410.83,368.44C409.26,370.54 406.9,372.1 404.79,373.69C402.68,375.28 400.6,377.18 398.17,377.99C395.74,378.8 392.74,378.8 390.21,378.56C387.69,378.32 384.7,377.93 383.02,376.56C381.35,375.19 380.93,372.5 380.15,370.35C379.36,368.21 378.68,365.42 378.33,363.67C377.97,361.92 377.99,361.03 378.04,359.85C378.09,358.68 376.47,358.33 378.61,356.61Z" fill="#f8fafd"/><path d="M375.34,357.36C373.75,357.07 369.38,357.87 366.84,358.42C364.3,358.96 361.89,359.23 360.1,360.63C358.31,362.02 356.94,364.65 356.09,366.78C355.24,368.91 354.92,371.37 355.02,373.4C355.11,375.44 355.65,377.58 356.68,378.98C357.7,380.37 359.1,381.12 361.17,381.76C363.24,382.4 367.1,382.28 369.09,382.82C371.08,383.36 372.25,383.83 373.1,385.03C373.94,386.23 373.72,388.09 374.17,390.02C374.63,391.96 374.89,394.99 375.83,396.65C376.78,398.32 378.15,399.26 379.84,400.02C381.53,400.77 383.65,401.35 386,401.17C388.34,400.99 391.84,400.45 393.91,398.96C395.98,397.47 397.66,394.27 398.41,392.23C399.16,390.2 398.96,388.33 398.41,386.76C397.86,385.19 396.96,384.02 395.09,382.82C393.21,381.62 389.24,380.39 387.17,379.55C385.1,378.72 383.99,379.02 382.67,377.82C381.35,376.62 380.2,374.38 379.25,372.35C378.31,370.31 377.48,367.66 377.01,365.62C376.53,363.59 376.7,361.52 376.42,360.15C376.14,358.77 376.94,357.65 375.34,357.36Z" fill="#fcfcfa"/><defs><g id="d03"><g transform="translate(348.87 333.77) scale(0.3333)"><path d="M116 17h5v5h-5zm-5 2h5v5h-5zm-8 0h5v5h-5zm0 4h5v5h-5zm-4-3h5v5h-5zm-1 1h5v5h-5zm-4-2h5v5h-5zm-9-2h5v5h-5zm0-3h5v5h-5zm-1 1h5v5h-5zm0 1h5v5h-5zm-1 6h5v5h-5zm-15-2h5v5h-5zm-7 1h5v5h-5zm-1-2h5v5h-5zm-1-1h5v5h-5zm-1 0h5v5h-5zm-1 1h5v5h-5zm-8 2h5v5h-5zm-5 4h5v5h-5zm1 4h5v5h-5zm10 5h5v5h-5zm23-4h5v5h-5zm5 3h5v5h-5zm2-8h5v5h-5zm1 6h5v5h-5zm4-2h5v5h-5zm3-3h5v5h-5zm5 1h5v5h-5zm5-2h5v5h-5zm1 7h5v5h-5zm3 3h5v5h-5zm0-11h5v5h-5zm1 4h5v5h-5zm5-1h5v5h-5zm5 5h5v5h-5zm6-4h5v5h-5zm7 0h5v5h-5zm-12 12h5v5h-5zm-5-1h5v5h-5zm-1 5h5v5h-5zm-21-8h5v5h-5zm-2 0h5v5h-5zm-36 0h5v5h-5zm-9 2h5v5h-5zm0-2h5v5h-5zm-7 12h5v5h-5zm21 2h5v5h-5zm44 1h5v5h-5z" fill="#205cc4"/><path d="M88 22h5v5h-5zm-10-1h5v5h-5zm-5-6h5v5h-5zm-3 2h5v5h-5zm-8 14h5v5h-5zm1 0h5v5h-5zm9-2h5v5h-5zm16-3h5v5h-5zm4 3h5v5h-5zm18-1h5v5h-5zm2 4h5v5h-5zm3 1h5v5h-5zm9-1h5v5h-5zm8-2h5v5h-5zm1-3h5v5h-5zm-22 11h5v5h-5zm-33 1h5v5h-5zm-3 5h5v5h-5zm-12-8h5v5h-5zm0 0h5v5h-5zm-2 8h5v5h-5zm-5-5h5v5h-5zm-4 3h5v5h-5zm39 9h5v5h-5zm14-1h5v5h-5z" fill="#3b82d5"/><path d="M125 20h5v5h-5zm-9 0h5v5h-5zm0 0h5v5h-5zm-5-3h5v5h-5zm-3 3h5v5h-5zm-3 0h5v5h-5zm-9 1h5v5h-5zm-3-1h5v5h-5zm-5 1h5v5h-5zm-25-2h5v5h-5zm-8 1h5v5h-5zm24 10h5v5h-5zm4 2h5v5h-5zm4-8h5v5h-5zm8 1h5v5h-5zm6 6h5v5h-5zm6-7h5v5h-5zm5 5h5v5h-5zm2 4h5v5h-5zm12-9h5v5h-5zm2 2h5v5h-5zm-2 14h5v5h-5zm-1 3h5v5h-5zm-4 2h5v5h-5zm-1-3h5v5h-5zm-1-3h5v5h-5zm-10 2h5v5h-5zm-9 0h5v5h-5zm-3 6h5v5h-5zm-5-2h5v5h-5zm-6-9h5v5h-5zm-40 11h5v5h-5zm42 8h5v5h-5zm1-6h5v5h-5zm4 2h5v5h-5zm9-3h5v5h-5zm5 1h5v5h-5z" fill="#2e6fcd"/><path d="M66 33h5v5h-5zm4 2h5v5h-5zm-5 7h5v5h-5zm-8-6h5v5h-5zm17 17h5v5h-5z" fill="#8cc8ec"/><path d="M73 23h5v5h-5zm-15 7h5v5h-5zm2 0h5v5h-5zm5-5h5v5h-5zm28-1h5v5h-5zm28 8h5v5h-5zm3-3h5v5h-5zm-19 8h5v5h-5zm-20 9h5v5h-5zm-2-4h5v5h-5zm-13-2h5v5h-5zm-17 7h5v5h-5zm-1-1h5v5h-5zm-6-2h5v5h-5zm7 8h5v5h-5zm2 3h5v5h-5zm13-6h5v5h-5zm11 1h5v5h-5zm6 0h5v5h-5zm20 1h5v5h-5z" fill="#4c96dd"/><path d="M102 15h5v5h-5zm-2 1h5v5h-5zm-1-1h5v5h-5zm-2 1h5v5h-5zm-2 2h5v5h-5zm15 7h5v5h-5z" fill="#193e96"/><path d="M104 17h5v5h-5zm-6 0h5v5h-5zm-3 3h5v5h-5zm-7 1h5v5h-5zm-42 14h5v5h-5zm67-7h5v5h-5zm-75 19h5v5h-5z" fill="#1c4dad"/><path d="M63 32h5v5h-5zm17 7h5v5h-5zm-24 8h5v5h-5zm-7 3h5v5h-5zm7 5h5v5h-5zm5-7h5v5h-5zm10 0h5v5h-5zm8 2h5v5h-5z" fill="#6cafe5"/></g><g transform="translate(348.87 333.77) scale(0.3333)"><path d="M106 56h5v5h-5zm3 2h5v5h-5zm-8 4h5v5h-5zm-8 21h5v5h-5zm3-8h5v5h-5zm39 18h5v5h-5zm-29 0h5v5h-5zm0-4h5v5h-5zm-6-4h5v5h-5zm-2 1h5v5h-5zm-2 1h5v5h-5zm-6 12h5v5h-5zm30 7h5v5h-5zm16-9h5v5h-5zm10 8h5v5h-5zm-3 12h5v5h-5zm-36 1h5v5h-5zm12 4h5v5h-5zm19 3h5v5h-5zm11-1h5v5h-5zm5-2h5v5h-5z" fill="#8cc8ec"/><path d="M166 45h5v5h-5zm-6-1h5v5h-5zm-11-1h5v5h-5zm-23 4h5v5h-5zm45 5h5v5h-5zm11-2h5v5h-5zm3 12h5v5h-5zm-3 6h5v5h-5zm-11 3h5v5h-5zm-6-3h5v5h-5zm-51-8h5v5h-5zm-19 2h5v5h-5zm29 14h5v5h-5zm3-3h5v5h-5zm9 9h5v5h-5zm22-4h5v5h-5zm10 28h5v5h-5zm1 1h5v5h-5zm7-5h5v5h-5zm-32 22h5v5h-5z" fill="#3b82d5"/><path d="M156 45h5v5h-5zm0-2h5v5h-5zm-18 3h5v5h-5zm0 0h5v5h-5zm-10 1h5v5h-5zm15 1h5v5h-5zm15 3h5v5h-5zm22 4h5v5h-5zm6 13h5v5h-5zm-8-2h5v5h-5zm-8-3h5v5h-5zm-22 7h5v5h-5zm-12-2h5v5h-5zm-7 2h5v5h-5zm-17-2h5v5h-5zm26 4h5v5h-5zm24 5h5v5h-5zm0-2h5v5h-5zm6-3h5v5h-5zm3 6h5v5h-5zm10 6h5v5h-5zm-30 13h5v5h-5zm9 2h5v5h-5zm4-3h5v5h-5zm2 4h5v5h-5zm6 3h5v5h-5zm0 3h5v5h-5zm2-3h5v5h-5zm6 0h5v5h-5z" fill="#2e6fcd"/><path d="M106 63h5v5h-5zm-4 8h5v5h-5zm1 8h5v5h-5zm63 3h5v5h-5zm-36 13h5v5h-5zm-37-5h5v5h-5zm3 9h5v5h-5zm18 8h5v5h-5zm4-5h5v5h-5zm-17 9h5v5h-5zm-1 3h5v5h-5zm28 16h5v5h-5z" fill="#9fd1c0"/><path d="M119 50h5v5h-5zm7 6h5v5h-5zm1 0h5v5h-5zm17-4h5v5h-5zm17 0h5v5h-5zm2-2h5v5h-5zm3 4h5v5h-5zm24 5h5v5h-5zm-12 10h5v5h-5zm-18 1h5v5h-5zm-18 0h5v5h-5zm-4-2h5v5h-5zm-2-3h5v5h-5zm-25 3h5v5h-5zm52 12h5v5h-5zm29 1h5v5h-5zm-6 12h5v5h-5zm-14-4h5v5h-5zm-21 2h5v5h-5z" fill="#205cc4"/><path d="M160 69h5v5h-5zm-33 0h5v5h-5zm-24 14h5v5h-5zm14 0h5v5h-5zm6-1h5v5h-5zm7-2h5v5h-5zm14-4h5v5h-5zm0 1h5v5h-5zm10 6h5v5h-5zm2-10h5v5h-5zm1 3h5v5h-5zm1 5h5v5h-5zm3-3h5v5h-5zm4-4h5v5h-5zm1 0h5v5h-5zm24 7h5v5h-5zm-59 13h5v5h-5zm-2-8h5v5h-5zm-15 6h5v5h-5zm-7-3h5v5h-5zm-1 3h5v5h-5zm-17-4h5v5h-5zm65 9h5v5h-5zm11 7h5v5h-5zm4 8h5v5h-5zm-4 5h5v5h-5zm-2-7h5v5h-5zm-8 10h5v5h-5z" fill="#4c96dd"/><path d="M131 57h5v5h-5zm2-5h5v5h-5zm12 6h5v5h-5zm10 0h5v5h-5zm1 1h5v5h-5zm12-4h5v5h-5zm2-6h5v5h-5zm1 7h5v5h-5zm3 3h5v5h-5zm7 2h5v5h-5zm-4 1h5v5h-5zm-23-1h5v5h-5zm-2 10h5v5h-5zm-2-10h5v5h-5zm-2 9h5v5h-5zm-1-7h5v5h-5zm-5-1h5v5h-5zm-6 7h5v5h-5zm-3-4h5v5h-5zm35 39h5v5h-5zm-4 13h5v5h-5z" fill="#193e96"/><path d="M166 70h5v5h-5zm-45 0h5v5h-5zm-23-5h5v5h-5zm52 11h5v5h-5zm10 5h5v5h-5zm1-2h5v5h-5zm-60 10h5v5h-5zm33 12h5v5h-5zm2-1h5v5h-5zm7 6h5v5h-5zm12-9h5v5h-5zm0-1h5v5h-5zm0 22h5v5h-5zm-15 1h5v5h-5zm-17-6h5v5h-5zm-11 5h5v5h-5zm12 6h5v5h-5z" fill="#6cafe5"/><path d="M106 70h5v5h-5zm1 13h5v5h-5zm-16 2h5v5h-5zm0 16h5v5h-5zm25 2h5v5h-5zm3 0h5v5h-5zm-19 18h5v5h-5zm35 8h5v5h-5zm9-7h5v5h-5z" fill="#b2da94"/><path d="M156 51h5v5h-5zm11 3h5v5h-5zm6 10h5v5h-5zm-2-1h5v5h-5zm-22 4h5v5h-5zm-7-6h5v5h-5zm-7-1h5v5h-5zm45 32h5v5h-5zm-19-2h5v5h-5zm-3 1h5v5h-5zm-2-3h5v5h-5zm-1 1h5v5h-5zm20 11h5v5h-5z" fill="#1c4dad"/><path d="M97 104h5v5h-5zm16 3h5v5h-5zm40-4h5v5h-5z" fill="#c8de70"/></g><g transform="translate(348.87 333.77) scale(0.3333)"><path d="M53 120h5v5h-5z" fill="#f27f1f"/><path d="M20 104h5v5h-5zm26 28h5v5h-5zm38 48h5v5h-5z" fill="#8cc8ec"/><path d="M54 104h5v5h-5zm30 15h5v5h-5zm-50-8h5v5h-5zm-7 9h5v5h-5z" fill="#fade34"/><path d="M54 98h5v5h-5zm6 5h5v5h-5zm37 39h5v5h-5zm-18-8h5v5h-5zm3 17h5v5h-5zm7 13h5v5h-5zm34 9h5v5h-5z" fill="#b2da94"/><path d="M58 89h5v5h-5zm-31-2h5v5h-5zm17 14h5v5h-5zm14 0h5v5h-5zm36 29h5v5h-5zm11 51h5v5h-5z" fill="#9fd1c0"/><path d="M57 96h5v5h-5zm-27 20h5v5h-5zm115 47h5v5h-5z" fill="#e1de52"/><path d="M83 118h5v5h-5zm-24-7h5v5h-5zm-3 14h5v5h-5zm-3 10h5v5h-5zm89 22h5v5h-5zm-10 20h5v5h-5zm-7 13h5v5h-5zm-43-5h5v5h-5z" fill="#c8de70"/><path d="M30 103h5v5h-5zm27 0h5v5h-5zm31 31h5v5h-5zm19 19h5v5h-5zm-24 3h5v5h-5zm44 30h5v5h-5z" fill="#f9c72e"/><path d="M97 182h5v5h-5z" fill="#193e96"/><path d="M83 132h5v5h-5zm22 17h5v5h-5zm-28 28h5v5h-5z" fill="#f7b029"/><path d="M77 116h5v5h-5zm43 48h5v5h-5zm-36 16h5v5h-5z" fill="#3b82d5"/><path d="M83 130h5v5h-5zm11 37h5v5h-5z" fill="#f69a23"/><path d="M24 91h5v5h-5zm42 14h5v5h-5zm-35 19h5v5h-5zm44 17h5v5h-5zm48 25h5v5h-5zm-10 1h5v5h-5z" fill="#6cafe5"/><path d="M44 116h5v5h-5z" fill="#2e6fcd"/><path d="M51 78h5v5h-5zm7-5h5v5h-5zm-2 39h5v5h-5z" fill="#4c96dd"/><path d="M98 172h5v5h-5z" fill="#205cc4"/></g></g></defs><use href="#d03" filter="url(#hb)" opacity="0.45"/><use href="#d03"/><path d="M361.16,346.83C361.37,345.44 362.27,343.23 363.51,342.11C364.74,341 366.06,340.6 368.58,340.12C371.11,339.64 375.28,339.27 378.65,339.21C382.02,339.15 386.31,339.27 388.8,339.76C391.3,340.24 392.6,341.15 393.6,342.11C394.6,343.08 395.1,344.41 394.82,345.56C394.54,346.71 393.55,347.99 391.91,349C390.26,350.02 387.58,350.88 384.95,351.63C382.31,352.39 379.26,353.32 376.11,353.54C372.96,353.75 368.37,353.41 366.05,352.9C363.73,352.39 363,351.47 362.19,350.45C361.37,349.44 360.94,348.22 361.16,346.83Z" fill="none" stroke="#000" stroke-width="2.0" stroke-linejoin="round"/><path d="M378.61,356.61C380.75,354.89 387.11,350.93 390.89,349.54C394.66,348.16 398.22,348.3 401.24,348.3C404.26,348.3 406.96,348.48 409.01,349.54C411.05,350.61 412.65,352.77 413.51,354.7C414.38,356.62 414.63,358.8 414.18,361.09C413.74,363.39 412.39,366.34 410.83,368.44C409.26,370.54 406.9,372.1 404.79,373.69C402.68,375.28 400.6,377.18 398.17,377.99C395.74,378.8 392.74,378.8 390.21,378.56C387.69,378.32 384.7,377.93 383.02,376.56C381.35,375.19 380.93,372.5 380.15,370.35C379.36,368.21 378.68,365.42 378.33,363.67C377.97,361.92 377.99,361.03 378.04,359.85C378.09,358.68 376.47,358.33 378.61,356.61Z" fill="none" stroke="#000" stroke-width="2.0" stroke-linejoin="round"/><path d="M375.34,357.36C373.75,357.07 369.38,357.87 366.84,358.42C364.3,358.96 361.89,359.23 360.1,360.63C358.31,362.02 356.94,364.65 356.09,366.78C355.24,368.91 354.92,371.37 355.02,373.4C355.11,375.44 355.65,377.58 356.68,378.98C357.7,380.37 359.1,381.12 361.17,381.76C363.24,382.4 367.1,382.28 369.09,382.82C371.08,383.36 372.25,383.83 373.1,385.03C373.94,386.23 373.72,388.09 374.17,390.02C374.63,391.96 374.89,394.99 375.83,396.65C376.78,398.32 378.15,399.26 379.84,400.02C381.53,400.77 383.65,401.35 386,401.17C388.34,400.99 391.84,400.45 393.91,398.96C395.98,397.47 397.66,394.27 398.41,392.23C399.16,390.2 398.96,388.33 398.41,386.76C397.86,385.19 396.96,384.02 395.09,382.82C393.21,381.62 389.24,380.39 387.17,379.55C385.1,378.72 383.99,379.02 382.67,377.82C381.35,376.62 380.2,374.38 379.25,372.35C378.31,370.31 377.48,367.66 377.01,365.62C376.53,363.59 376.7,361.52 376.42,360.15C376.14,358.77 376.94,357.65 375.34,357.36Z" fill="none" stroke="#000" stroke-width="2.0" stroke-linejoin="round"/><rect x="97.8" y="415.3" width="73.5" height="72.4" fill="#fff" stroke="#000" stroke-width="1.5"/><path d="M110.06,430.07C110.28,428.54 111.19,426.12 112.45,424.9C113.71,423.67 115.05,423.24 117.62,422.71C120.19,422.18 124.43,421.78 127.86,421.72C131.29,421.65 135.66,421.78 138.2,422.31C140.73,422.84 142.06,423.84 143.08,424.9C144.1,425.96 144.61,427.42 144.32,428.68C144.03,429.94 143.03,431.35 141.35,432.46C139.68,433.57 136.95,434.51 134.27,435.34C131.59,436.17 128.48,437.2 125.27,437.43C122.07,437.66 117.39,437.3 115.03,436.73C112.67,436.17 111.94,435.16 111.11,434.05C110.28,432.94 109.83,431.59 110.06,430.07Z" fill="none" stroke="#000" stroke-width="2.0" stroke-linejoin="round"/><path d="M127.24,438.73C129.43,437.03 135.92,433.1 139.78,431.73C143.63,430.36 147.27,430.5 150.36,430.5C153.44,430.5 156.2,430.68 158.29,431.73C160.38,432.79 162.01,434.93 162.89,436.84C163.78,438.74 164.04,440.9 163.58,443.17C163.12,445.44 161.75,448.37 160.15,450.45C158.55,452.52 156.14,454.07 153.98,455.64C151.83,457.22 149.7,459.09 147.22,459.9C144.74,460.7 141.67,460.7 139.09,460.46C136.51,460.23 133.46,459.83 131.74,458.48C130.03,457.12 129.61,454.46 128.81,452.34C128.01,450.21 127.3,447.45 126.94,445.72C126.58,443.99 126.6,443.11 126.65,441.94C126.7,440.77 125.05,440.43 127.24,438.73Z" fill="none" stroke="#000" stroke-width="2.0" stroke-linejoin="round"/><path d="M123.49,439.46C121.94,439.18 117.69,439.96 115.22,440.5C112.75,441.04 110.4,441.3 108.66,442.67C106.92,444.04 105.59,446.63 104.76,448.72C103.94,450.82 103.62,453.25 103.72,455.25C103.81,457.25 104.33,459.36 105.33,460.73C106.33,462.1 107.69,462.84 109.7,463.47C111.72,464.1 115.47,463.98 117.4,464.51C119.34,465.05 120.48,465.51 121.3,466.69C122.13,467.87 121.9,469.7 122.35,471.6C122.79,473.51 123.04,476.49 123.96,478.13C124.88,479.76 126.21,480.69 127.86,481.44C129.51,482.18 131.57,482.74 133.85,482.57C136.13,482.4 139.54,481.86 141.55,480.4C143.56,478.93 145.19,475.78 145.92,473.78C146.65,471.78 146.46,469.93 145.92,468.39C145.38,466.84 144.51,465.69 142.69,464.51C140.87,463.33 137,462.12 134.99,461.3C132.98,460.48 131.9,460.78 130.62,459.6C129.33,458.41 128.21,456.21 127.29,454.21C126.37,452.21 125.56,449.59 125.1,447.59C124.64,445.59 124.8,443.56 124.53,442.2C124.26,440.85 125.04,439.74 123.49,439.46Z" fill="none" stroke="#000" stroke-width="2.0" stroke-linejoin="round"/><rect x="179.5" y="415.2" width="72" height="72.2" fill="#fff" stroke="#000" stroke-width="1.5"/><line x1="176.5" y1="417.7" x2="179.5" y2="417.7" stroke="#000" stroke-width="1"/><line x1="176.5" y1="424.63" x2="179.5" y2="424.63" stroke="#000" stroke-width="1"/><line x1="176.5" y1="431.56" x2="179.5" y2="431.56" stroke="#000" stroke-width="1"/><line x1="176.5" y1="438.49" x2="179.5" y2="438.49" stroke="#000" stroke-width="1"/><line x1="176.5" y1="445.42" x2="179.5" y2="445.42" stroke="#000" stroke-width="1"/><line x1="176.5" y1="452.35" x2="179.5" y2="452.35" stroke="#000" stroke-width="1"/><line x1="176.5" y1="459.28" x2="179.5" y2="459.28" stroke="#000" stroke-width="1"/><line x1="176.5" y1="466.21" x2="179.5" y2="466.21" stroke="#000" stroke-width="1"/><line x1="176.5" y1="473.14" x2="179.5" y2="473.14" stroke="#000" stroke-width="1"/><line x1="176.5" y1="480.07" x2="179.5" y2="480.07" stroke="#000" stroke-width="1"/><line x1="187.3" y1="487.4" x2="187.3" y2="490.4" stroke="#000" stroke-width="1"/><line x1="195.96" y1="487.4" x2="195.96" y2="490.4" stroke="#000" stroke-width="1"/><line x1="204.62" y1="487.4" x2="204.62" y2="490.4" stroke="#000" stroke-width="1"/><line x1="213.28" y1="487.4" x2="213.28" y2="490.4" stroke="#000" stroke-width="1"/><line x1="221.94" y1="487.4" x2="221.94" y2="490.4" stroke="#000" stroke-width="1"/><line x1="230.6" y1="487.4" x2="230.6" y2="490.4" stroke="#000" stroke-width="1"/><line x1="239.26" y1="487.4" x2="239.26" y2="490.4" stroke="#000" stroke-width="1"/><line x1="247.92" y1="487.4" x2="247.92" y2="490.4" stroke="#000" stroke-width="1"/><path d="M189.26,429.24C189.48,427.81 190.4,425.54 191.68,424.4C192.95,423.25 194.31,422.84 196.91,422.35C199.5,421.85 203.8,421.48 207.27,421.41C210.74,421.35 215.16,421.48 217.72,421.97C220.29,422.47 221.63,423.4 222.66,424.4C223.69,425.39 224.21,426.76 223.92,427.94C223.63,429.12 222.61,430.44 220.92,431.48C219.22,432.52 216.46,433.4 213.75,434.18C211.04,434.95 207.9,435.92 204.65,436.13C201.41,436.35 196.68,436.01 194.29,435.48C191.9,434.95 191.16,434.01 190.32,432.97C189.48,431.93 189.03,430.67 189.26,429.24Z" fill="#f7fafd"/><path d="M209.31,437.04C211.45,435.31 217.81,431.34 221.59,429.95C225.36,428.56 228.92,428.7 231.94,428.7C234.96,428.7 237.66,428.88 239.71,429.95C241.75,431.02 243.35,433.19 244.21,435.12C245.08,437.05 245.33,439.24 244.88,441.54C244.44,443.83 243.09,446.8 241.53,448.91C239.96,451.02 237.6,452.58 235.49,454.18C233.38,455.77 231.3,457.67 228.87,458.49C226.44,459.3 223.44,459.3 220.91,459.06C218.39,458.82 215.4,458.42 213.72,457.05C212.05,455.68 211.63,452.98 210.85,450.83C210.06,448.67 209.38,445.88 209.03,444.12C208.67,442.37 208.69,441.47 208.74,440.29C208.79,439.11 207.17,438.76 209.31,437.04Z" fill="#fafbfc"/><path d="M204.72,440.06C203.09,439.77 198.65,440.59 196.06,441.15C193.47,441.7 191.02,441.98 189.19,443.41C187.37,444.84 185.97,447.53 185.11,449.71C184.25,451.9 183.92,454.42 184.02,456.51C184.12,458.59 184.66,460.79 185.71,462.22C186.75,463.65 188.18,464.42 190.29,465.08C192.39,465.73 196.32,465.6 198.35,466.16C200.37,466.72 201.56,467.19 202.43,468.42C203.29,469.66 203.06,471.56 203.52,473.54C203.99,475.53 204.25,478.63 205.21,480.34C206.17,482.05 207.57,483.02 209.29,483.79C211.02,484.56 213.17,485.15 215.56,484.97C217.95,484.79 221.52,484.23 223.62,482.7C225.73,481.18 227.44,477.89 228.2,475.81C228.96,473.73 228.76,471.81 228.2,470.2C227.64,468.59 226.72,467.39 224.82,466.16C222.91,464.93 218.86,463.66 216.76,462.81C214.65,461.96 213.52,462.27 212.18,461.04C210.84,459.81 209.66,457.51 208.7,455.42C207.73,453.34 206.89,450.62 206.41,448.53C205.93,446.45 206.09,444.33 205.81,442.92C205.53,441.51 206.34,440.36 204.72,440.06Z" fill="#fefaf7"/><defs><g id="d11"><g transform="translate(178.66 414.37) scale(0.3333)"><path d="M80 26h5v5h-5zm13 3h5v5h-5zm20 11h5v5h-5zm-53 8h5v5h-5zm3 1h5v5h-5zm17 0h5v5h-5z" fill="#4c96dd"/><path d="M63 32h5v5h-5zm-9 15h5v5h-5zm-17-6h5v5h-5zm19 11h5v5h-5zm2 6h5v5h-5z" fill="#205cc4"/><path d="M46 28h5v5h-5zm16 2h5v5h-5zm59 17h5v5h-5zm-52-6h5v5h-5zm-3-5h5v5h-5zm-14 17h5v5h-5zm5 2h5v5h-5zm1-7h5v5h-5zm7 8h5v5h-5zm4-5h5v5h-5z" fill="#2e6fcd"/><path d="M35 35h5v5h-5zm0-4h5v5h-5zm23 25h5v5h-5z" fill="#193e96"/><path d="M47 34h5v5h-5zm4-6h5v5h-5zm40 1h5v5h-5zm26 0h5v5h-5zm-3 14h5v5h-5zm-18-2h5v5h-5zm-28-1h5v5h-5zm0 12h5v5h-5zm5 6h5v5h-5z" fill="#3b82d5"/><path d="M47 33h5v5h-5zm37 19h5v5h-5z" fill="#1c4dad"/><path d="M99 38h5v5h-5z" fill="#6cafe5"/><path d="M79 42h5v5h-5z" fill="#8cc8ec"/></g><g transform="translate(178.66 414.37) scale(0.3333)"><path d="M118 53h5v5h-5zm6-5h5v5h-5zm-17 21h5v5h-5zm1 5h5v5h-5zm12 8h5v5h-5zm9 0h5v5h-5zm1-8h5v5h-5zm6 19h5v5h-5zm-8-1h5v5h-5zm-11-3h5v5h-5zm-17-5h5v5h-5zm26 19h5v5h-5zm13-7h5v5h-5zm15 5h5v5h-5zm-56 13h5v5h-5zm25 8h5v5h-5zm8 7h5v5h-5z" fill="#9fd1c0"/><path d="M103 66h5v5h-5zm-3 1h5v5h-5zm0 9h5v5h-5zm14 6h5v5h-5zm3-9h5v5h-5zm2 4h5v5h-5zm7 6h5v5h-5zm-3 9h5v5h-5zm-13 1h5v5h-5zm-2-4h5v5h-5zm-6 2h5v5h-5zm-7 1h5v5h-5zm7 4h5v5h-5zm5 25h5v5h-5zm2 2h5v5h-5zm31 6h5v5h-5z" fill="#b2da94"/><path d="M93 81h5v5h-5zm2-4h5v5h-5zm1 0h5v5h-5zm25-4h5v5h-5zm-20 17h5v5h-5zm-8 0h5v5h-5zm0 0h5v5h-5zm5 13h5v5h-5zm16-7h5v5h-5z" fill="#fade34"/><path d="M124 53h5v5h-5zm6-1h5v5h-5zm59 23h5v5h-5zm0 3h5v5h-5zm-26 11h5v5h-5zm-33 0h5v5h-5zm-21 10h5v5h-5zm35-2h5v5h-5zm16 5h5v5h-5zm-16 13h5v5h-5zm-13 6h5v5h-5zm27 2h5v5h-5z" fill="#4c96dd"/><path d="M118 56h5v5h-5zm10 2h5v5h-5zm17 11h5v5h-5zm-12-3h5v5h-5zm22 7h5v5h-5zm30 5h5v5h-5zm-30 12h5v5h-5zm-34-5h5v5h-5zm-6 10h5v5h-5zm-7-5h5v5h-5zm35 13h5v5h-5z" fill="#8cc8ec"/><path d="M161 52h5v5h-5zm3-1h5v5h-5zm1-2h5v5h-5zm0 15h5v5h-5zm-8 5h5v5h-5zm-5 3h5v5h-5zm29 22h5v5h-5zm-9 7h5v5h-5zm15-3h5v5h-5zm-35 27h5v5h-5z" fill="#1c4dad"/><path d="M149 47h5v5h-5zm-12-3h5v5h-5zm0 7h5v5h-5zm56 17h5v5h-5zm-15-3h5v5h-5zm-23-3h5v5h-5zm-11-2h5v5h-5zm20 20h5v5h-5zm22-1h5v5h-5zm-19 5h5v5h-5zm-2 5h5v5h-5zm-8 16h5v5h-5zm17-1h5v5h-5zm4-3h5v5h-5z" fill="#205cc4"/><path d="M127 50h5v5h-5zm22 1h5v5h-5zm12 7h5v5h-5zm-56 3h5v5h-5zm47 21h5v5h-5zm-17 25h5v5h-5zm-12 11h5v5h-5zm-1 9h5v5h-5zm29-2h5v5h-5z" fill="#6cafe5"/><path d="M141 54h5v5h-5zm34 7h5v5h-5zm-10 7h5v5h-5zm-2-6h5v5h-5zm-23 15h5v5h-5zm23 2h5v5h-5zm12-6h5v5h-5zm-25 12h5v5h-5zm-11 11h5v5h-5zm5 6h5v5h-5zm7 2h5v5h-5zm2-8h5v5h-5zm5 4h5v5h-5zm6 7h5v5h-5zm0-4h5v5h-5zm-9 16h5v5h-5zm0-5h5v5h-5zm-8 1h5v5h-5zm-6 1h5v5h-5zm-5-2h5v5h-5z" fill="#3b82d5"/><path d="M161 47h5v5h-5zm-4-1h5v5h-5zm5 10h5v5h-5zm12-8h5v5h-5zm16 17h5v5h-5zm-1 0h5v5h-5zm-1 0h5v5h-5zm-18-1h5v5h-5zm-5 14h5v5h-5zm5 32h5v5h-5z" fill="#193e96"/><path d="M105 64h5v5h-5zm13 13h5v5h-5zm12 0h5v5h-5zm-22 45h5v5h-5zm3 3h5v5h-5zm7 1h5v5h-5z" fill="#e1de52"/><path d="M119 52h5v5h-5zm-26 18h5v5h-5zm-3 7h5v5h-5zm17-2h5v5h-5zm32 16h5v5h-5zm-23-5h5v5h-5zm-17 7h5v5h-5zm-4 1h5v5h-5zm6 3h5v5h-5zm28 10h5v5h-5zm2-4h5v5h-5zm-12 8h5v5h-5z" fill="#c8de70"/><path d="M149 56h5v5h-5zm35 5h5v5h-5zm-16 1h5v5h-5zm-26 1h5v5h-5zm46 11h5v5h-5zm-32 17h5v5h-5zm-8-2h5v5h-5zm6 7h5v5h-5zm10 7h5v5h-5zm11 2h5v5h-5zm10-4h5v5h-5zm-24 19h5v5h-5z" fill="#2e6fcd"/><path d="M107 107h5v5h-5zm-3 1h5v5h-5zm-1 4h5v5h-5z" fill="#f69a23"/><path d="M93 72h5v5h-5zm8 1h5v5h-5zm2 38h5v5h-5zm0 11h5v5h-5z" fill="#f9c72e"/><path d="M104 71h5v5h-5zm-7 8h5v5h-5zm9 32h5v5h-5z" fill="#f7b029"/></g><g transform="translate(178.66 414.37) scale(0.3333)"><path d="M73 76h5v5h-5zm5 13h5v5h-5zm-6 2h5v5h-5zm-6-4h5v5h-5zm-28 12h5v5h-5zm7-2h5v5h-5zm2 6h5v5h-5zm-9 11h5v5h-5zm0 3h5v5h-5zm-5-2h5v5h-5zm-11 9h5v5h-5zm5-1h5v5h-5zm28 1h5v5h-5zm2 1h5v5h-5zm15-4h5v5h-5zm7 9h5v5h-5zm5-3h5v5h-5zm4 4h5v5h-5zm-20 12h5v5h-5zm-5-3h5v5h-5zm-17-1h5v5h-5zm-4-5h5v5h-5zm-19 0h5v5h-5zm55 18h5v5h-5zm10-3h5v5h-5zm1-3h5v5h-5zm14 20h5v5h-5zm-4-4h5v5h-5zm-5-2h5v5h-5zm-3-4h5v5h-5zm-3 1h5v5h-5zm-2 3h5v5h-5zm-1-4h5v5h-5zm-7 4h5v5h-5zm-7 3h5v5h-5zm25 20h5v5h-5zm-8 6h5v5h-5zm-6-1h5v5h-5zm-6 0h5v5h-5zm15 5h5v5h-5z" fill="#ec5d1d"/><path d="M37 93h5v5h-5zm-6 2h5v5h-5zm-2 3h5v5h-5zm4 1h5v5h-5zm5-3h5v5h-5zm2 3h5v5h-5zm0 4h5v5h-5zm40 5h5v5h-5zm0 1h5v5h-5zm-44 7h5v5h-5zm-3 2h5v5h-5zm-7-4h5v5h-5zm-1 3h5v5h-5zm-2-5h5v5h-5zm-1 3h5v5h-5zm0-4h5v5h-5zm-2 7h5v5h-5zm-4 2h5v5h-5zm0 1h5v5h-5zm2 1h5v5h-5zm1 0h5v5h-5zm2 7h5v5h-5zm0-9h5v5h-5zm4 0h5v5h-5zm2 4h5v5h-5zm5-2h5v5h-5zm7 8h5v5h-5zm5 1h5v5h-5zm1-2h5v5h-5zm47 11h5v5h-5zm-49-5h5v5h-5zm-2 4h5v5h-5zm-12 0h5v5h-5zm-6-1h5v5h-5zm62 12h5v5h-5z" fill="#c81816"/><path d="M56 81h5v5h-5zm17-1h5v5h-5zm-2 11h5v5h-5zm-15 3h5v5h-5zm-5 1h5v5h-5zm-1 1h5v5h-5zm3 4h5v5h-5zm22 4h5v5h-5zm1-5h5v5h-5zm-21 14h5v5h-5zm-15 6h5v5h-5zm-25 6h5v5h-5zm1 6h5v5h-5zm38-5h5v5h-5zm50 17h5v5h-5zm-23-2h5v5h-5zm-15 0h5v5h-5zm-1-1h5v5h-5zm-3-3h5v5h-5zm-9 2h5v5h-5zm-9 9h5v5h-5zm2-1h5v5h-5zm14-1h5v5h-5zm9 4h5v5h-5zm21 5h5v5h-5zm0 0h5v5h-5zm10-6h5v5h-5zm5-2h5v5h-5zm-15 9h5v5h-5zm-13 10h5v5h-5zm-2-7h5v5h-5zm-1 18h5v5h-5zm6-1h5v5h-5zm11-4h5v5h-5zm21 19h5v5h-5zm-5-10h5v5h-5zm-6 6h5v5h-5zm-6 1h5v5h-5zm-7-6h5v5h-5zm-3 14h5v5h-5zm1-4h5v5h-5zm25 6h5v5h-5zm2 1h5v5h-5zm1-5h5v5h-5zm1-1h5v5h-5zm3 9h5v5h-5zm4-7h5v5h-5zm9 1h5v5h-5z" fill="#f69a23"/><path d="M63 77h5v5h-5zm-4 24h5v5h-5zm-4 18h5v5h-5zm13 6h5v5h-5zm-19 20h5v5h-5zm58 4h5v5h-5zm5-3h5v5h-5zm1 0h5v5h-5zm-40 28h5v5h-5zm55 17h5v5h-5zm0-8h5v5h-5zm0 1h5v5h-5zm-43-2h5v5h-5zm13 15h5v5h-5zm22 7h5v5h-5zm-1 0h5v5h-5z" fill="#fade34"/><path d="M50 79h5v5h-5zm-10 10h5v5h-5zm-13 17h5v5h-5zm4 1h5v5h-5zm15-4h5v5h-5zm28 6h5v5h-5zm-35 1h5v5h-5zm-9 0h5v5h-5zm-7 15h5v5h-5zm57-3h5v5h-5zm-35 15h5v5h-5zm-10-4h5v5h-5zm6 12h5v5h-5zm53 1h5v5h-5zm4 21h5v5h-5zm-13-11h5v5h-5zm-2 15h5v5h-5z" fill="#db2319"/><path d="M43 80h5v5h-5zm33 8h5v5h-5zm-2-3h5v5h-5zm-29 11h5v5h-5zm27 4h5v5h-5zm7 5h5v5h-5zm5 12h5v5h-5zm-12-1h5v5h-5zm-25-8h5v5h-5zm-6 8h5v5h-5zm-20 9h5v5h-5zm63-5h5v5h-5zm4 11h5v5h-5zm16 12h5v5h-5zm-38-1h5v5h-5zm-19-10h5v5h-5zm-15 7h5v5h-5zm0-4h5v5h-5zm0 8h5v5h-5zm-7-1h5v5h-5zm2 2h5v5h-5zm2 2h5v5h-5zm13 2h5v5h-5zm3-2h5v5h-5zm13-2h5v5h-5zm1 4h5v5h-5zm2-3h5v5h-5zm4-1h5v5h-5zm17 13h5v5h-5zm-2 10h5v5h-5zm-1-10h5v5h-5z" fill="#e63c1b"/><path d="M61 78h5v5h-5zm-9 12h5v5h-5zm6 10h5v5h-5zm50 54h5v5h-5zm4 0h5v5h-5zm3-1h5v5h-5zm3-5h5v5h-5zm-45 24h5v5h-5zm44 4h5v5h-5zm2 3h5v5h-5zm24 7h5v5h-5zm-9 3h5v5h-5zm-23-5h5v5h-5zm-25-3h5v5h-5zm-5 0h5v5h-5zm18 20h5v5h-5z" fill="#e1de52"/><path d="M50 82h5v5h-5zm1-2h5v5h-5zm15-3h5v5h-5zm13 12h5v5h-5zm-12-1h5v5h-5zm-24-3h5v5h-5zm-2 3h5v5h-5zm-14 11h5v5h-5zm29 0h5v5h-5zm8 8h5v5h-5zm3-1h5v5h-5zm10-1h5v5h-5zm5 7h5v5h-5zm-26 5h5v5h-5zm-8-4h5v5h-5zm-29 18h5v5h-5zm8-10h5v5h-5zm7-1h5v5h-5zm7 1h5v5h-5zm1 1h5v5h-5zm2-1h5v5h-5zm0 1h5v5h-5zm3 3h5v5h-5zm31-4h5v5h-5zm8 6h5v5h-5zm5 6h5v5h-5zm-8-1h5v5h-5zm-11 6h5v5h-5zm-4-6h5v5h-5zm-10 5h5v5h-5zm-7 6h5v5h-5zm-25 1h5v5h-5zm21 3h5v5h-5zm6-2h5v5h-5zm20-1h5v5h-5zm25 8h5v5h-5zm-3 4h5v5h-5zm-1 8h5v5h-5zm-21 14h5v5h-5zm8-4h5v5h-5zm22 3h5v5h-5zm0 7h5v5h-5zm-9 2h5v5h-5zm-2-1h5v5h-5zm-2 1h5v5h-5zm-10-2h5v5h-5zm0 5h5v5h-5zm13 7h5v5h-5zm2 1h5v5h-5zm5 3h5v5h-5zm9 2h5v5h-5zm8-6h5v5h-5zm7-2h5v5h-5z" fill="#f27f1f"/><path d="M137 154h5v5h-5zm-20 4h5v5h-5zm15 19h5v5h-5zm11-3h5v5h-5zm-11 8h5v5h-5z" fill="#8cc8ec"/><path d="M52 83h5v5h-5zm6 0h5v5h-5zm5-3h5v5h-5zm-15 25h5v5h-5zm5-6h5v5h-5zm17 26h5v5h-5zm5-4h5v5h-5zm0 7h5v5h-5zm0 3h5v5h-5zm7 0h5v5h-5zm-28 12h5v5h-5zm5 8h5v5h-5zm10 2h5v5h-5zm28-4h5v5h-5zm10 4h5v5h-5zm-27 12h5v5h-5zm-10 1h5v5h-5zm8 8h5v5h-5zm10 2h5v5h-5zm1-1h5v5h-5zm14 4h5v5h-5zm10-3h5v5h-5zm8 15h5v5h-5zm-6-8h5v5h-5zm-3-1h5v5h-5zm-19 3h5v5h-5zm-15 10h5v5h-5zm13-3h5v5h-5zm4 11h5v5h-5zm2-11h5v5h-5zm24 7h5v5h-5zm11 3h5v5h-5zm-25 6h5v5h-5zm-12-2h5v5h-5z" fill="#f7b029"/><path d="M64 81h5v5h-5zm1 1h5v5h-5zm0-4h5v5h-5zm3 1h5v5h-5zm0 2h5v5h-5zm7 8h5v5h-5zm-19-2h5v5h-5zm-3 0h5v5h-5zm-2 0h5v5h-5zm4 9h5v5h-5zm4 14h5v5h-5zm-2 8h5v5h-5zm-5-9h5v5h-5zm20 12h5v5h-5zm21 24h5v5h-5zm10 9h5v5h-5zm7-4h5v5h-5zm1-6h5v5h-5zm-11 12h5v5h-5zm-5 11h5v5h-5zm-7-6h5v5h-5zm-2-1h5v5h-5zm7 21h5v5h-5zm-2 2h5v5h-5zm-7-3h5v5h-5zm-1 3h5v5h-5zm-2 2h5v5h-5zm-4-5h5v5h-5zm24 15h5v5h-5zm21-2h5v5h-5zm1 4h5v5h-5zm6 3h5v5h-5zm1-2h5v5h-5z" fill="#f9c72e"/><path d="M110 149h5v5h-5zm-31 26h5v5h-5zm56-2h5v5h-5zm-19 10h5v5h-5z" fill="#c8de70"/><path d="M121 155h5v5h-5zm2-1h5v5h-5zm22 10h5v5h-5zm-3 2h5v5h-5zm-28-2h5v5h-5zm9 7h5v5h-5zm3 7h5v5h-5zm6-5h5v5h-5zm11-4h5v5h-5zm-13 15h5v5h-5z" fill="#9fd1c0"/><path d="M117 151h5v5h-5zm0 8h5v5h-5zm0-3h5v5h-5zm1 18h5v5h-5zm16 9h5v5h-5z" fill="#b2da94"/><path d="M135 180h5v5h-5z" fill="#193e96"/><path d="M140 167h5v5h-5zm-2-4h5v5h-5z" fill="#2e6fcd"/><path d="M117 172h5v5h-5zm10 4h5v5h-5zm4-2h5v5h-5zm7-4h5v5h-5z" fill="#6cafe5"/><path d="M127 175h5v5h-5z" fill="#4c96dd"/><path d="M133 159h5v5h-5z" fill="#3b82d5"/></g></g></defs><use href="#d11" filter="url(#hb)" opacity="0.45"/><use href="#d11"/><path d="M189.26,429.24C189.48,427.81 190.4,425.54 191.68,424.4C192.95,423.25 194.31,422.84 196.91,422.35C199.5,421.85 203.8,421.48 207.27,421.41C210.74,421.35 215.16,421.48 217.72,421.97C220.29,422.47 221.63,423.4 222.66,424.4C223.69,425.39 224.21,426.76 223.92,427.94C223.63,429.12 222.61,430.44 220.92,431.48C219.22,432.52 216.46,433.4 213.75,434.18C211.04,434.95 207.9,435.92 204.65,436.13C201.41,436.35 196.68,436.01 194.29,435.48C191.9,434.95 191.16,434.01 190.32,432.97C189.48,431.93 189.03,430.67 189.26,429.24Z" fill="none" stroke="#000" stroke-width="2.0" stroke-linejoin="round"/><path d="M209.31,437.04C211.45,435.31 217.81,431.34 221.59,429.95C225.36,428.56 228.92,428.7 231.94,428.7C234.96,428.7 237.66,428.88 239.71,429.95C241.75,431.02 243.35,433.19 244.21,435.12C245.08,437.05 245.33,439.24 244.88,441.54C244.44,443.83 243.09,446.8 241.53,448.91C239.96,451.02 237.6,452.58 235.49,454.18C233.38,455.77 231.3,457.67 228.87,458.49C226.44,459.3 223.44,459.3 220.91,459.06C218.39,458.82 215.4,458.42 213.72,457.05C212.05,455.68 211.63,452.98 210.85,450.83C210.06,448.67 209.38,445.88 209.03,444.12C208.67,442.37 208.69,441.47 208.74,440.29C208.79,439.11 207.17,438.76 209.31,437.04Z" fill="none" stroke="#000" stroke-width="2.0" stroke-linejoin="round"/><path d="M204.72,440.06C203.09,439.77 198.65,440.59 196.06,441.15C193.47,441.7 191.02,441.98 189.19,443.41C187.37,444.84 185.97,447.53 185.11,449.71C184.25,451.9 183.92,454.42 184.02,456.51C184.12,458.59 184.66,460.79 185.71,462.22C186.75,463.65 188.18,464.42 190.29,465.08C192.39,465.73 196.32,465.6 198.35,466.16C200.37,466.72 201.56,467.19 202.43,468.42C203.29,469.66 203.06,471.56 203.52,473.54C203.99,475.53 204.25,478.63 205.21,480.34C206.17,482.05 207.57,483.02 209.29,483.79C211.02,484.56 213.17,485.15 215.56,484.97C217.95,484.79 221.52,484.23 223.62,482.7C225.73,481.18 227.44,477.89 228.2,475.81C228.96,473.73 228.76,471.81 228.2,470.2C227.64,468.59 226.72,467.39 224.82,466.16C222.91,464.93 218.86,463.66 216.76,462.81C214.65,461.96 213.52,462.27 212.18,461.04C210.84,459.81 209.66,457.51 208.7,455.42C207.73,453.34 206.89,450.62 206.41,448.53C205.93,446.45 206.09,444.33 205.81,442.92C205.53,441.51 206.34,440.36 204.72,440.06Z" fill="none" stroke="#000" stroke-width="2.0" stroke-linejoin="round"/><rect x="263.3" y="416.6" width="71.6" height="72.3" fill="#fff" stroke="#000" stroke-width="1.5"/><line x1="260.3" y1="419.1" x2="263.3" y2="419.1" stroke="#000" stroke-width="1"/><line x1="260.3" y1="426.03" x2="263.3" y2="426.03" stroke="#000" stroke-width="1"/><line x1="260.3" y1="432.96" x2="263.3" y2="432.96" stroke="#000" stroke-width="1"/><line x1="260.3" y1="439.89" x2="263.3" y2="439.89" stroke="#000" stroke-width="1"/><line x1="260.3" y1="446.82" x2="263.3" y2="446.82" stroke="#000" stroke-width="1"/><line x1="260.3" y1="453.75" x2="263.3" y2="453.75" stroke="#000" stroke-width="1"/><line x1="260.3" y1="460.68" x2="263.3" y2="460.68" stroke="#000" stroke-width="1"/><line x1="260.3" y1="467.61" x2="263.3" y2="467.61" stroke="#000" stroke-width="1"/><line x1="260.3" y1="474.54" x2="263.3" y2="474.54" stroke="#000" stroke-width="1"/><line x1="260.3" y1="481.47" x2="263.3" y2="481.47" stroke="#000" stroke-width="1"/><line x1="271.1" y1="488.9" x2="271.1" y2="491.9" stroke="#000" stroke-width="1"/><line x1="279.76" y1="488.9" x2="279.76" y2="491.9" stroke="#000" stroke-width="1"/><line x1="288.42" y1="488.9" x2="288.42" y2="491.9" stroke="#000" stroke-width="1"/><line x1="297.08" y1="488.9" x2="297.08" y2="491.9" stroke="#000" stroke-width="1"/><line x1="305.74" y1="488.9" x2="305.74" y2="491.9" stroke="#000" stroke-width="1"/><line x1="314.4" y1="488.9" x2="314.4" y2="491.9" stroke="#000" stroke-width="1"/><line x1="323.06" y1="488.9" x2="323.06" y2="491.9" stroke="#000" stroke-width="1"/><line x1="331.72" y1="488.9" x2="331.72" y2="491.9" stroke="#000" stroke-width="1"/><path d="M272.46,429.7C272.68,428.23 273.59,425.88 274.85,424.7C276.11,423.51 277.45,423.09 280.02,422.58C282.59,422.06 286.83,421.68 290.26,421.62C293.69,421.55 298.06,421.68 300.6,422.19C303.13,422.71 304.46,423.67 305.48,424.7C306.5,425.72 307.01,427.14 306.72,428.36C306.43,429.58 305.43,430.94 303.75,432.02C302.08,433.09 299.35,434.01 296.67,434.81C293.99,435.61 290.88,436.61 287.67,436.83C284.47,437.06 279.79,436.7 277.43,436.16C275.07,435.61 274.34,434.63 273.51,433.56C272.68,432.48 272.23,431.18 272.46,429.7Z" fill="#f8fafc"/><path d="M293.44,438.64C295.63,436.9 302.15,432.87 306.01,431.47C309.88,430.06 313.53,430.2 316.62,430.2C319.71,430.2 322.48,430.38 324.58,431.47C326.67,432.55 328.31,434.75 329.19,436.7C330.08,438.66 330.34,440.88 329.88,443.2C329.42,445.53 328.05,448.54 326.44,450.68C324.84,452.81 322.41,454.39 320.25,456.01C318.09,457.63 315.97,459.55 313.48,460.38C310.99,461.2 307.91,461.2 305.33,460.96C302.74,460.72 299.68,460.31 297.96,458.92C296.24,457.53 295.81,454.8 295.01,452.62C294.21,450.43 293.51,447.6 293.15,445.82C292.79,444.05 292.8,443.14 292.85,441.94C292.9,440.75 291.25,440.39 293.44,438.64Z" fill="#fbfcfb"/><path d="M288.28,439.76C286.68,439.46 282.28,440.31 279.72,440.88C277.16,441.46 274.74,441.75 272.93,443.22C271.13,444.7 269.75,447.48 268.9,449.74C268.05,451.99 267.72,454.6 267.82,456.76C267.92,458.91 268.46,461.19 269.49,462.66C270.52,464.14 271.93,464.93 274.02,465.61C276.1,466.29 279.99,466.15 281.99,466.73C283.99,467.31 285.17,467.8 286.02,469.07C286.87,470.34 286.64,472.31 287.1,474.36C287.56,476.42 287.82,479.62 288.78,481.38C289.73,483.15 291.1,484.15 292.81,484.95C294.52,485.74 296.65,486.35 299.01,486.17C301.37,485.98 304.9,485.4 306.98,483.83C309.06,482.25 310.75,478.86 311.51,476.7C312.26,474.55 312.06,472.57 311.51,470.9C310.95,469.24 310.05,468 308.16,466.73C306.27,465.46 302.27,464.15 300.19,463.27C298.11,462.39 296.99,462.71 295.66,461.44C294.34,460.17 293.17,457.79 292.22,455.64C291.27,453.49 290.43,450.67 289.96,448.52C289.48,446.36 289.64,444.17 289.37,442.72C289.09,441.26 289.89,440.07 288.28,439.76Z" fill="#fefaf7"/><defs><g id="d12"><g transform="translate(262.47 415.77) scale(0.3333)"><path d="M48 26h5v5h-5z" fill="#205cc4"/><path d="M85 17h5v5h-5zm19 29h5v5h-5zm-44-9h5v5h-5zm-17 12h5v5h-5z" fill="#1c4dad"/><path d="M112 32h5v5h-5zm13 7h5v5h-5zm-5 5h5v5h-5zm-81 10h5v5h-5z" fill="#3b82d5"/><path d="M74 43h5v5h-5zm0 5h5v5h-5zm3 2h5v5h-5z" fill="#b2da94"/><path d="M60 19h5v5h-5zm-15 16h5v5h-5zm15-2h5v5h-5zm59 14h5v5h-5zm-7-1h5v5h-5zm-52-7h5v5h-5zm30 14h5v5h-5z" fill="#2e6fcd"/><path d="M88 17h5v5h-5zm-36 8h5v5h-5zm-13 15h5v5h-5z" fill="#4c96dd"/><path d="M84 42h5v5h-5z" fill="#e1de52"/><path d="M56 28h5v5h-5zm18 5h5v5h-5zm20 1h5v5h-5zm10 0h5v5h-5z" fill="#9fd1c0"/><path d="M86 21h5v5h-5zm-39 25h5v5h-5zm35 8h5v5h-5zm29-6h5v5h-5z" fill="#6cafe5"/><path d="M84 42h5v5h-5z" fill="#c8de70"/><path d="M79 28h5v5h-5zm-15 16h5v5h-5zm-19 11h5v5h-5zm24-2h5v5h-5z" fill="#193e96"/><path d="M76 50h5v5h-5z" fill="#8cc8ec"/></g><g transform="translate(262.47 415.77) scale(0.3333)"><path d="M109 57h5v5h-5zm28-4h5v5h-5zm46-5h5v5h-5zm-44 13h5v5h-5zm-25 3h5v5h-5zm-7 2h5v5h-5zm1 9h5v5h-5zm10 2h5v5h-5zm43 1h5v5h-5zm14-2h5v5h-5zm-33 8h5v5h-5zm-4 2h5v5h-5zm-13 7h5v5h-5zm-8 3h5v5h-5zm14 7h5v5h-5zm23 10h5v5h-5zm-11-3h5v5h-5zm-32 6h5v5h-5zm29 11h5v5h-5z" fill="#6cafe5"/><path d="M173 56h5v5h-5zm14 5h5v5h-5zm-56 5h5v5h-5zm19 16h5v5h-5zm9-3h5v5h-5zm28 2h5v5h-5zm-19 3h5v5h-5zm-20 1h5v5h-5zm-30 19h5v5h-5zm23 0h5v5h-5zm9 1h5v5h-5zm-20 6h5v5h-5zm-27 0h5v5h-5zm-4 2h5v5h-5zm10 13h5v5h-5zm1 2h5v5h-5zm1-2h5v5h-5zm2-4h5v5h-5z" fill="#9fd1c0"/><path d="M130 52h5v5h-5zm1 6h5v5h-5zm24-5h5v5h-5zm28 16h5v5h-5zm-69-8h5v5h-5zm71 18h5v5h-5zm-89 8h5v5h-5zm24 21h5v5h-5z" fill="#fade34"/><path d="M161 54h5v5h-5zm-19 14h5v5h-5zm-1-6h5v5h-5zm-40 4h5v5h-5zm12 17h5v5h-5zm64-11h5v5h-5zm13 7h5v5h-5zm9-4h5v5h-5zm-7 19h5v5h-5zm-39 8h5v5h-5zm29 3h5v5h-5zm-34 14h5v5h-5zm-5-1h5v5h-5zm-30-10h5v5h-5zm5 13h5v5h-5zm28 9h5v5h-5zm13-6h5v5h-5z" fill="#b2da94"/><path d="M156 51h5v5h-5zm-45 24h5v5h-5zm1-3h5v5h-5zm19 6h5v5h-5zm23 4h5v5h-5zm-24 2h5v5h-5zm-37 8h5v5h-5zm28 9h5v5h-5zm44 4h5v5h-5zm-24 20h5v5h-5z" fill="#4c96dd"/><path d="M160 68h5v5h-5zm-50-6h5v5h-5zm-18 9h5v5h-5zm10 10h5v5h-5zm34-2h5v5h-5zm59 0h5v5h-5zm-40 6h5v5h-5zm-55 20h5v5h-5zm33-4h5v5h-5zm28 6h5v5h-5zm-11 1h5v5h-5z" fill="#f9c72e"/><path d="M158 46h5v5h-5zm-18 1h5v5h-5zm-29 10h5v5h-5zm3 0h5v5h-5zm11 1h5v5h-5zm5-8h5v5h-5zm27 8h5v5h-5zm26 8h5v5h-5zm-2-6h5v5h-5zm-11 0h5v5h-5zm-56 7h5v5h-5zm-8 8h5v5h-5zm55 5h5v5h-5zm16 1h5v5h-5zm-12 7h5v5h-5zm-28 5h5v5h-5zm-21-7h5v5h-5zm-11-1h5v5h-5zm22 12h5v5h-5zm10 9h5v5h-5zm48-2h5v5h-5zm-62 11h5v5h-5zm-8 0h5v5h-5z" fill="#c8de70"/><path d="M136 49h5v5h-5zm-40 48h5v5h-5z" fill="#f27f1f"/><path d="M173 64h5v5h-5zm10 20h5v5h-5zm-46 9h5v5h-5zm10 6h5v5h-5zm31 4h5v5h-5z" fill="#1c4dad"/><path d="M163 44h5v5h-5zm-4-2h5v5h-5zm-25 4h5v5h-5zm24 3h5v5h-5zm19 2h5v5h-5zm-3 17h5v5h-5zm-52 0h5v5h-5zm-9-4h5v5h-5zm-22 10h5v5h-5zm90 21h5v5h-5zm-10-8h5v5h-5zm-60-3h5v5h-5zm5 14h5v5h-5zm38 5h5v5h-5zm18-7h5v5h-5zm4 8h5v5h-5zm-38 4h5v5h-5zm-26 7h5v5h-5zm9 12h5v5h-5zm9 0h5v5h-5zm11-1h5v5h-5zm11 4h5v5h-5z" fill="#8cc8ec"/><path d="M160 57h5v5h-5zm-66 11h5v5h-5zm4 4h5v5h-5zm4 7h5v5h-5zm57 8h5v5h-5zm-48 41h5v5h-5zm36 0h5v5h-5z" fill="#f7b029"/><path d="M117 69h5v5h-5zm-6 10h5v5h-5zm22 11h5v5h-5zm-26 7h5v5h-5zm68 8h5v5h-5zm-36 10h5v5h-5z" fill="#205cc4"/><path d="M176 64h5v5h-5zm-17-1h5v5h-5zm-38 3h5v5h-5zm-21 12h5v5h-5zm41-3h5v5h-5zm9 6h5v5h-5zm-3 38h5v5h-5zm-20-10h5v5h-5zm-2-1h5v5h-5zm-23 4h5v5h-5z" fill="#e1de52"/><path d="M149 78h5v5h-5zm42 13h5v5h-5z" fill="#193e96"/><path d="M151 43h5v5h-5zm2 22h5v5h-5zm-22 18h5v5h-5zm20 12h5v5h-5zm-16-9h5v5h-5zm-2 9h5v5h-5zm-5 0h5v5h-5zm-17 0h5v5h-5zm2 5h5v5h-5zm18 1h5v5h-5zm7 2h5v5h-5zm14 2h5v5h-5zm-41 16h5v5h-5z" fill="#2e6fcd"/><path d="M178 44h5v5h-5zm-29 21h5v5h-5zm-32 16h5v5h-5zm65 12h5v5h-5zm-10-2h5v5h-5zm-44-6h5v5h-5zm22 13h5v5h-5zm5 5h5v5h-5zm-42 20h5v5h-5zm8-3h5v5h-5z" fill="#3b82d5"/><path d="M94 73h5v5h-5zm45 10h5v5h-5zm-40 27h5v5h-5z" fill="#f69a23"/></g><g transform="translate(262.47 415.77) scale(0.3333)"><path d="M65 100h5v5h-5zm13 13h5v5h-5zm0 0h5v5h-5zm-4 3h5v5h-5zm-13-6h5v5h-5zm-5 10h5v5h-5zm8 22h5v5h-5zm0-3h5v5h-5zm-2 3h5v5h-5zm5 11h5v5h-5zm53 12h5v5h-5zm-5 1h5v5h-5zm-5-9h5v5h-5zm1 12h5v5h-5zm15 4h5v5h-5zm1 15h5v5h-5zm-3-2h5v5h-5z" fill="#e1de52"/><path d="M61 95h5v5h-5zm-12-8h5v5h-5zm-15 2h5v5h-5zm-3-3h5v5h-5zm-3 4h5v5h-5zm20 13h5v5h-5zm-21 7h5v5h-5zm-10 19h5v5h-5zm25 3h5v5h-5zm-2 6h5v5h-5zm-21-5h5v5h-5zm-1 4h5v5h-5zm82 65h5v5h-5zm0 0h5v5h-5zm14-4h5v5h-5zm2 4h5v5h-5zm-12 3h5v5h-5z" fill="#db2319"/><path d="M56 83h5v5h-5zm4 11h5v5h-5zm0-6h5v5h-5zm-7 4h5v5h-5zm-4 25h5v5h-5zm35 16h5v5h-5zm-20 4h5v5h-5zm-34 0h5v5h-5zm0-2h5v5h-5zm-5-1h5v5h-5zm3 10h5v5h-5zm66 5h5v5h-5zm14 7h5v5h-5zm-1 6h5v5h-5zm-8 0h5v5h-5zm-5 1h5v5h-5zm-11 1h5v5h-5zm-1-4h5v5h-5zm9 17h5v5h-5zm7-6h5v5h-5zm14 9h5v5h-5zm-20 5h5v5h-5zm-1 1h5v5h-5zm-3-2h5v5h-5zm-5-4h5v5h-5zm-3 17h5v5h-5zm1 1h5v5h-5zm37-2h5v5h-5zm1 0h5v5h-5zm-1 9h5v5h-5z" fill="#f69a23"/><path d="M27 83h5v5h-5zm8 0h5v5h-5zm4-4h5v5h-5zm2 2h5v5h-5zm3-2h5v5h-5zm0 2h5v5h-5zm10 11h5v5h-5zm-22-4h5v5h-5zm-3 1h5v5h-5zm-8 6h5v5h-5zm-2 6h5v5h-5zm2 4h5v5h-5zm2-5h5v5h-5zm0 4h5v5h-5zm10 1h5v5h-5zm24-7h5v5h-5zm-22 21h5v5h-5zm-1 11h5v5h-5zm3 2h5v5h-5zm-7 0h5v5h-5zm-8 5h5v5h-5zm0 3h5v5h-5zm-1-3h5v5h-5zm57 27h5v5h-5zm7 9h5v5h-5zm32 15h5v5h-5zm-15 2h5v5h-5zm-18 1h5v5h-5zm12 8h5v5h-5zm5-3h5v5h-5zm6-3h5v5h-5zm1 7h5v5h-5zm23 1h5v5h-5z" fill="#e63c1b"/><path d="M43 81h5v5h-5zm5-3h5v5h-5zm9 1h5v5h-5zm4 1h5v5h-5zm0 6h5v5h-5zm-8 8h5v5h-5zm-2 0h5v5h-5zm-6-4h5v5h-5zm-1 4h5v5h-5zm0-9h5v5h-5zm-7 4h5v5h-5zm7 12h5v5h-5zm-30 18h5v5h-5zm43 16h5v5h-5zm-13 1h5v5h-5zm-13-3h5v5h-5zm0 3h5v5h-5zm-1-1h5v5h-5zm-3 3h5v5h-5zm-5 0h5v5h-5zm72 13h5v5h-5zm4-6h5v5h-5zm7 4h5v5h-5zm6 9h5v5h-5zm-21 4h5v5h-5zm0 3h5v5h-5zm-1-6h5v5h-5zm-11 6h5v5h-5zm-1-6h5v5h-5zm3 16h5v5h-5zm0-7h5v5h-5zm3 10h5v5h-5zm2-1h5v5h-5zm3 2h5v5h-5zm3-4h5v5h-5zm5 3h5v5h-5zm9 2h5v5h-5zm-1 5h5v5h-5zm-2 5h5v5h-5zm-5 0h5v5h-5zm-6-4h5v5h-5zm-9 5h5v5h-5zm7 7h5v5h-5zm21 1h5v5h-5zm2-1h5v5h-5zm8-2h5v5h-5zm0 1h5v5h-5zm9 3h5v5h-5zm-35 5h5v5h-5z" fill="#f27f1f"/><path d="M73 85h5v5h-5zm-22 8h5v5h-5zm29 36h5v5h-5zm3-5h5v5h-5zm12 19h5v5h-5zm-7-1h5v5h-5zm-6 1h5v5h-5zm0-6h5v5h-5zm-25-5h5v5h-5zm-2 11h5v5h-5zm-18 3h5v5h-5zm50 1h5v5h-5zm2 6h5v5h-5zm19-4h5v5h-5zm2 6h5v5h-5zm3 0h5v5h-5zm1 5h5v5h-5zm-9-3h5v5h-5zm-6 2h5v5h-5zm-21 5h5v5h-5zm15 7h5v5h-5zm13 0h5v5h-5zm2 0h5v5h-5zm23 19h5v5h-5zm-1-2h5v5h-5zm-6-2h5v5h-5zm-2-2h5v5h-5zm-20 1h5v5h-5z" fill="#f9c72e"/><path d="M40 78h5v5h-5zm11 2h5v5h-5zm3-6h5v5h-5zm17 0h5v5h-5zm-15 18h5v5h-5zm-23-8h5v5h-5zm-8 11h5v5h-5zm-5 1h5v5h-5zm14 9h5v5h-5zm2-2h5v5h-5zm2 11h5v5h-5zm-10-4h5v5h-5zm11 23h5v5h-5zm0 4h5v5h-5zm42 27h5v5h-5zm22 39h5v5h-5zm8-2h5v5h-5z" fill="#c81816"/><path d="M77 100h5v5h-5zm41 48h5v5h-5zm22 11h5v5h-5zm0 5h5v5h-5zm-19 2h5v5h-5zm17 2h5v5h-5zm1 4h5v5h-5zm5 2h5v5h-5zm0-1h5v5h-5zm-2 9h5v5h-5zm-6 9h5v5h-5z" fill="#9fd1c0"/><path d="M137 171h5v5h-5z" fill="#4c96dd"/><path d="M121 152h5v5h-5zm15 22h5v5h-5zm2-3h5v5h-5zm5-3h5v5h-5z" fill="#6cafe5"/><path d="M49 95h5v5h-5zm-30 10h5v5h-5zm49-3h5v5h-5zm-14 21h5v5h-5zm56 17h5v5h-5zm-29-6h5v5h-5zm-11 2h5v5h-5zm-34 7h5v5h-5zm5 2h5v5h-5zm7 1h5v5h-5zm3 0h5v5h-5zm1-1h5v5h-5zm2 1h5v5h-5zm33-1h5v5h-5zm17 6h5v5h-5zm-6 11h5v5h-5zm-24 9h5v5h-5zm12 6h5v5h-5zm6 1h5v5h-5zm10-10h5v5h-5zm3 5h5v5h-5zm1-3h5v5h-5zm-9 18h5v5h-5zm-7 9h5v5h-5zm2-5h5v5h-5z" fill="#f7b029"/><path d="M128 176h5v5h-5zm6-8h5v5h-5z" fill="#3b82d5"/><path d="M30 82h5v5h-5zm11 1h5v5h-5zm30 4h5v5h-5zm-26 1h5v5h-5zm-23 13h5v5h-5zm19-5h5v5h-5zm-13 22h5v5h-5zm-7-8h5v5h-5zm20 11h5v5h-5zm11 15h5v5h-5zm-1-2h5v5h-5zm-12-2h5v5h-5zm-3 0h5v5h-5zm58 34h5v5h-5zm-2-4h5v5h-5zm-16 7h5v5h-5zm5 1h5v5h-5zm29 8h5v5h-5zm-7 8h5v5h-5zm-18 5h5v5h-5zm-4-10h5v5h-5zm0 11h5v5h-5zm24 2h5v5h-5zm2 8h5v5h-5zm3-5h5v5h-5zm3-2h5v5h-5zm15 7h5v5h-5z" fill="#ec5d1d"/><path d="M79 88h5v5h-5zm-24 20h5v5h-5zm19 18h5v5h-5zm32 17h5v5h-5zm-50-2h5v5h-5zm-3 6h5v5h-5zm15 6h5v5h-5zm7 2h5v5h-5zm2 0h5v5h-5zm3-4h5v5h-5zm29 1h5v5h-5zm3 12h5v5h-5zm-5-7h5v5h-5zm-2 6h5v5h-5zm-3-7h5v5h-5zm-2 0h5v5h-5zm-1 0h5v5h-5zm13 19h5v5h-5zm23 15h5v5h-5z" fill="#fade34"/><path d="M141 167h5v5h-5zm-1-5h5v5h-5zm-3 5h5v5h-5zm-11-3h5v5h-5z" fill="#8cc8ec"/><path d="M80 104h5v5h-5zm-12 14h5v5h-5zm62 47h5v5h-5zm-8 3h5v5h-5zm18 16h5v5h-5z" fill="#b2da94"/><path d="M81 110h5v5h-5zm-1 0h5v5h-5zm-10 2h5v5h-5zm-5 1h5v5h-5zm9 11h5v5h-5zm37 42h5v5h-5zm-10-7h5v5h-5zm0 2h5v5h-5zm28 7h5v5h-5zm10 4h5v5h-5z" fill="#c8de70"/></g></g></defs><use href="#d12" filter="url(#hb)" opacity="0.45"/><use href="#d12"/><path d="M272.46,429.7C272.68,428.23 273.59,425.88 274.85,424.7C276.11,423.51 277.45,423.09 280.02,422.58C282.59,422.06 286.83,421.68 290.26,421.62C293.69,421.55 298.06,421.68 300.6,422.19C303.13,422.71 304.46,423.67 305.48,424.7C306.5,425.72 307.01,427.14 306.72,428.36C306.43,429.58 305.43,430.94 303.75,432.02C302.08,433.09 299.35,434.01 296.67,434.81C293.99,435.61 290.88,436.61 287.67,436.83C284.47,437.06 279.79,436.7 277.43,436.16C275.07,435.61 274.34,434.63 273.51,433.56C272.68,432.48 272.23,431.18 272.46,429.7Z" fill="none" stroke="#000" stroke-width="2.0" stroke-linejoin="round"/><path d="M293.44,438.64C295.63,436.9 302.15,432.87 306.01,431.47C309.88,430.06 313.53,430.2 316.62,430.2C319.71,430.2 322.48,430.38 324.58,431.47C326.67,432.55 328.31,434.75 329.19,436.7C330.08,438.66 330.34,440.88 329.88,443.2C329.42,445.53 328.05,448.54 326.44,450.68C324.84,452.81 322.41,454.39 320.25,456.01C318.09,457.63 315.97,459.55 313.48,460.38C310.99,461.2 307.91,461.2 305.33,460.96C302.74,460.72 299.68,460.31 297.96,458.92C296.24,457.53 295.81,454.8 295.01,452.62C294.21,450.43 293.51,447.6 293.15,445.82C292.79,444.05 292.8,443.14 292.85,441.94C292.9,440.75 291.25,440.39 293.44,438.64Z" fill="none" stroke="#000" stroke-width="2.0" stroke-linejoin="round"/><path d="M288.28,439.76C286.68,439.46 282.28,440.31 279.72,440.88C277.16,441.46 274.74,441.75 272.93,443.22C271.13,444.7 269.75,447.48 268.9,449.74C268.05,451.99 267.72,454.6 267.82,456.76C267.92,458.91 268.46,461.19 269.49,462.66C270.52,464.14 271.93,464.93 274.02,465.61C276.1,466.29 279.99,466.15 281.99,466.73C283.99,467.31 285.17,467.8 286.02,469.07C286.87,470.34 286.64,472.31 287.1,474.36C287.56,476.42 287.82,479.62 288.78,481.38C289.73,483.15 291.1,484.15 292.81,484.95C294.52,485.74 296.65,486.35 299.01,486.17C301.37,485.98 304.9,485.4 306.98,483.83C309.06,482.25 310.75,478.86 311.51,476.7C312.26,474.55 312.06,472.57 311.51,470.9C310.95,469.24 310.05,468 308.16,466.73C306.27,465.46 302.27,464.15 300.19,463.27C298.11,462.39 296.99,462.71 295.66,461.44C294.34,460.17 293.17,457.79 292.22,455.64C291.27,453.49 290.43,450.67 289.96,448.52C289.48,446.36 289.64,444.17 289.37,442.72C289.09,441.26 289.89,440.07 288.28,439.76Z" fill="none" stroke="#000" stroke-width="2.0" stroke-linejoin="round"/><rect x="349.5" y="416.2" width="71.5" height="73.4" fill="#fff" stroke="#000" stroke-width="1.5"/><line x1="346.5" y1="418.7" x2="349.5" y2="418.7" stroke="#000" stroke-width="1"/><line x1="346.5" y1="425.63" x2="349.5" y2="425.63" stroke="#000" stroke-width="1"/><line x1="346.5" y1="432.56" x2="349.5" y2="432.56" stroke="#000" stroke-width="1"/><line x1="346.5" y1="439.49" x2="349.5" y2="439.49" stroke="#000" stroke-width="1"/><line x1="346.5" y1="446.42" x2="349.5" y2="446.42" stroke="#000" stroke-width="1"/><line x1="346.5" y1="453.35" x2="349.5" y2="453.35" stroke="#000" stroke-width="1"/><line x1="346.5" y1="460.28" x2="349.5" y2="460.28" stroke="#000" stroke-width="1"/><line x1="346.5" y1="467.21" x2="349.5" y2="467.21" stroke="#000" stroke-width="1"/><line x1="346.5" y1="474.14" x2="349.5" y2="474.14" stroke="#000" stroke-width="1"/><line x1="346.5" y1="481.07" x2="349.5" y2="481.07" stroke="#000" stroke-width="1"/><line x1="357.3" y1="489.6" x2="357.3" y2="492.6" stroke="#000" stroke-width="1"/><line x1="365.96" y1="489.6" x2="365.96" y2="492.6" stroke="#000" stroke-width="1"/><line x1="374.62" y1="489.6" x2="374.62" y2="492.6" stroke="#000" stroke-width="1"/><line x1="383.28" y1="489.6" x2="383.28" y2="492.6" stroke="#000" stroke-width="1"/><line x1="391.94" y1="489.6" x2="391.94" y2="492.6" stroke="#000" stroke-width="1"/><line x1="400.6" y1="489.6" x2="400.6" y2="492.6" stroke="#000" stroke-width="1"/><line x1="409.26" y1="489.6" x2="409.26" y2="492.6" stroke="#000" stroke-width="1"/><line x1="417.92" y1="489.6" x2="417.92" y2="492.6" stroke="#000" stroke-width="1"/><path d="M358.35,430.93C358.57,429.54 359.46,427.33 360.68,426.21C361.91,425.1 363.22,424.7 365.72,424.22C368.22,423.74 372.35,423.37 375.69,423.31C379.03,423.25 383.29,423.37 385.76,423.86C388.23,424.34 389.52,425.25 390.51,426.21C391.51,427.18 392,428.51 391.72,429.66C391.44,430.81 390.46,432.09 388.83,433.1C387.2,434.12 384.55,434.98 381.94,435.73C379.33,436.49 376.3,437.42 373.17,437.64C370.05,437.85 365.5,437.51 363.2,437C360.9,436.49 360.19,435.57 359.38,434.55C358.57,433.54 358.14,432.32 358.35,430.93Z" fill="#f7fafd"/><path d="M378.44,438.64C380.63,436.9 387.15,432.87 391.01,431.47C394.88,430.06 398.53,430.2 401.62,430.2C404.71,430.2 407.48,430.38 409.58,431.47C411.67,432.55 413.31,434.75 414.19,436.7C415.08,438.66 415.34,440.88 414.88,443.2C414.42,445.53 413.05,448.54 411.44,450.68C409.84,452.81 407.41,454.39 405.25,456.01C403.09,457.63 400.97,459.55 398.48,460.38C395.99,461.2 392.91,461.2 390.33,460.96C387.74,460.72 384.68,460.31 382.96,458.92C381.24,457.53 380.81,454.8 380.01,452.62C379.21,450.43 378.51,447.6 378.15,445.82C377.79,444.05 377.8,443.14 377.85,441.94C377.9,440.75 376.25,440.39 378.44,438.64Z" fill="#f9fbfd"/><path d="M375.56,439.76C373.93,439.46 369.48,440.3 366.88,440.86C364.29,441.43 361.83,441.71 360,443.16C358.17,444.6 356.78,447.33 355.91,449.54C355.05,451.75 354.72,454.32 354.82,456.43C354.92,458.54 355.47,460.77 356.51,462.22C357.56,463.66 358.99,464.44 361.1,465.11C363.21,465.78 367.15,465.64 369.18,466.21C371.21,466.77 372.4,467.26 373.27,468.5C374.13,469.75 373.9,471.68 374.36,473.69C374.83,475.7 375.1,478.85 376.06,480.58C377.02,482.31 378.42,483.29 380.15,484.07C381.88,484.85 384.04,485.45 386.43,485.27C388.83,485.09 392.4,484.52 394.51,482.97C396.62,481.43 398.33,478.1 399.1,475.99C399.86,473.88 399.66,471.93 399.1,470.3C398.53,468.67 397.62,467.46 395.71,466.21C393.8,464.96 389.74,463.68 387.63,462.81C385.52,461.95 384.39,462.27 383.04,461.02C381.7,459.77 380.52,457.44 379.55,455.33C378.59,453.22 377.74,450.46 377.26,448.35C376.78,446.23 376.94,444.09 376.66,442.66C376.38,441.23 377.19,440.06 375.56,439.76Z" fill="#fefcf7"/><defs><g id="d13"><g transform="translate(348.67 415.37) scale(0.3333)"><path d="M48 27h5v5h-5zm69 5h5v5h-5zm-21 14h5v5h-5zm-18-7h5v5h-5zm-4 8h5v5h-5zm-15 8h5v5h-5zm1 0h5v5h-5zm12-4h5v5h-5z" fill="#3b82d5"/><path d="M109 32h5v5h-5zm5 3h5v5h-5zm6 7h5v5h-5zm-59-6h5v5h-5zm-5 16h5v5h-5zm18-1h5v5h-5zm-11 10h5v5h-5z" fill="#4c96dd"/><path d="M45 26h5v5h-5zm57 19h5v5h-5zm-11-6h5v5h-5zm-29 8h5v5h-5zm3 14h5v5h-5zm-3-1h5v5h-5z" fill="#205cc4"/><path d="M115 40h5v5h-5zm-16-1h5v5h-5zm0 0h5v5h-5zm-11-2h5v5h-5z" fill="#1c4dad"/><path d="M51 55h5v5h-5zm14-2h5v5h-5z" fill="#6cafe5"/><path d="M107 32h5v5h-5zm10 3h5v5h-5zm-35 11h5v5h-5zm-24-3h5v5h-5zm-1 4h5v5h-5zm-18-2h5v5h-5zm14 9h5v5h-5zm19-1h5v5h-5zm31 3h5v5h-5z" fill="#2e6fcd"/></g><g transform="translate(348.67 415.37) scale(0.3333)"><path d="M160 54h5v5h-5zm17 14h5v5h-5zm-35-8h5v5h-5zm-25 2h5v5h-5zm-5 7h5v5h-5zm-4-7h5v5h-5zm5 20h5v5h-5zm35-1h5v5h-5zm35-9h5v5h-5zm3 23h5v5h-5zm-22-3h5v5h-5zm-8 1h5v5h-5zm-52 10h5v5h-5zm2 2h5v5h-5zm48-9h5v5h-5zm16 3h5v5h-5zm9-1h5v5h-5zm-39 14h5v5h-5z" fill="#4c96dd"/><path d="M178 57h5v5h-5zm-33 10h5v5h-5zm-15 16h5v5h-5zm1-4h5v5h-5zm12-4h5v5h-5zm13 4h5v5h-5zm18 11h5v5h-5zm0 10h5v5h-5z" fill="#205cc4"/><path d="M177 46h5v5h-5zm-76 13h5v5h-5zm37-3h5v5h-5zm14-6h5v5h-5zm37 19h5v5h-5zm-54-1h5v5h-5zm-6 1h5v5h-5zm-16-4h5v5h-5zm0 16h5v5h-5zm32 14h5v5h-5zm-12-6h5v5h-5zm-6-1h5v5h-5zm-5 2h5v5h-5zm-11 8h5v5h-5zm3 1h5v5h-5zm65 7h5v5h-5zm5-2h5v5h-5zm-45 6h5v5h-5zm-15 6h5v5h-5zm-1 6h5v5h-5zm23-1h5v5h-5z" fill="#8cc8ec"/><path d="M108 79h5v5h-5zm45 39h5v5h-5zm-48 12h5v5h-5z" fill="#c8de70"/><path d="M159 46h5v5h-5zm-28 6h5v5h-5zm47-2h5v5h-5zm15 17h5v5h-5zm-6-6h5v5h-5zm-14-1h5v5h-5zm-42 2h5v5h-5zm-25 11h5v5h-5zm20 2h5v5h-5zm26 3h5v5h-5zm-24 47h5v5h-5z" fill="#2e6fcd"/><path d="M191 69h5v5h-5zm-45 29h5v5h-5zm11 17h5v5h-5zm-16 1h5v5h-5z" fill="#b2da94"/><path d="M149 44h5v5h-5zm-10 9h5v5h-5zm38-5h5v5h-5zm-1 14h5v5h-5zm-40 3h5v5h-5zm-44 18h5v5h-5zm80-3h5v5h-5zm9 0h5v5h-5zm3 3h5v5h-5zm4-9h5v5h-5zm-19 20h5v5h-5zm-19-2h5v5h-5zm-33 9h5v5h-5zm12 6h5v5h-5zm41-4h5v5h-5zm-17 16h5v5h-5zm-16 6h5v5h-5z" fill="#6cafe5"/><path d="M165 64h5v5h-5zm-25 2h5v5h-5zm34 15h5v5h-5zm10 12h5v5h-5zm-58-3h5v5h-5zm-26-5h5v5h-5zm51 12h5v5h-5zm22 15h5v5h-5zm-22 0h5v5h-5zm-11 4h5v5h-5zm-21 1h5v5h-5zm-12 1h5v5h-5zm14 5h5v5h-5zm10 2h5v5h-5z" fill="#9fd1c0"/><path d="M148 44h5v5h-5zm46 18h5v5h-5zm-40 2h5v5h-5zm0 1h5v5h-5zm-5 4h5v5h-5zm-55 10h5v5h-5zm16-6h5v5h-5zm5 2h5v5h-5zm22 7h5v5h-5zm49-2h5v5h-5zm4-3h5v5h-5zm-91 29h5v5h-5zm1-3h5v5h-5zm15-7h5v5h-5zm9 9h5v5h-5zm3-2h5v5h-5zm-8 10h5v5h-5z" fill="#3b82d5"/><path d="M107 68h5v5h-5z" fill="#1c4dad"/><path d="M100 127h5v5h-5z" fill="#e1de52"/></g><g transform="translate(348.67 415.37) scale(0.3333)"><path d="M29 119h5v5h-5zm-6 8h5v5h-5zm72-1h5v5h-5zm-64 11h5v5h-5zm74 52h5v5h-5zm-6 11h5v5h-5zm8-8h5v5h-5z" fill="#c81816"/><path d="M56 74h5v5h-5zm2 8h5v5h-5zm3-7h5v5h-5zm7-1h5v5h-5zm-12 21h5v5h-5zm-12-6h5v5h-5zm-11 14h5v5h-5zm5-1h5v5h-5zm4 2h5v5h-5zm3-6h5v5h-5zm6-1h5v5h-5zm32 10h5v5h-5zm-23 12h5v5h-5zm-15-1h5v5h-5zm-6-8h5v5h-5zm-13 2h5v5h-5zm0 1h5v5h-5zm-1-5h5v5h-5zm5 14h5v5h-5zm2 1h5v5h-5zm2 1h5v5h-5zm15-3h5v5h-5zm15 4h5v5h-5zm12 6h5v5h-5zm1 8h5v5h-5zm-1-6h5v5h-5zm-15 9h5v5h-5zm-28-1h5v5h-5zm-9-5h5v5h-5zm18 11h5v5h-5zm10-3h5v5h-5zm22 6h5v5h-5zm22 3h5v5h-5zm1 2h5v5h-5zm44 8h5v5h-5zm-23 1h5v5h-5zm-1-3h5v5h-5zm-39 5h5v5h-5zm-3-2h5v5h-5zm15 6h5v5h-5zm2 9h5v5h-5zm49-7h5v5h-5zm-58 15h5v5h-5zm44 6h5v5h-5zm10-1h5v5h-5z" fill="#f9c72e"/><path d="M38 97h5v5h-5zm43 10h5v5h-5zm1-1h5v5h-5zm1 3h5v5h-5zm-33 1h5v5h-5zm-16 3h5v5h-5zm-2-2h5v5h-5zm-8 0h5v5h-5zm-7 13h5v5h-5zm3 1h5v5h-5zm70-3h5v5h-5zm0 6h5v5h-5zm2 8h5v5h-5zm-2-4h5v5h-5zm-4 11h5v5h-5zm-51-3h5v5h-5zm-6-2h5v5h-5zm36 11h5v5h-5zm24 3h5v5h-5zm2 3h5v5h-5zm35 1h5v5h-5zm-23 0h5v5h-5zm-9 10h5v5h-5zm-3-5h5v5h-5zm20 28h5v5h-5zm3 15h5v5h-5z" fill="#f27f1f"/><path d="M70 73h5v5h-5zm-31 32h5v5h-5zm3-6h5v5h-5zm2 7h5v5h-5zm27 12h5v5h-5zm-48-8h5v5h-5zm-4 8h5v5h-5zm8 8h5v5h-5zm1 0h5v5h-5zm2-1h5v5h-5zm0-2h5v5h-5zm5 8h5v5h-5zm12-2h5v5h-5zm3-8h5v5h-5zm34 4h5v5h-5zm4-1h5v5h-5zm2 6h5v5h-5zm-1 10h5v5h-5zm-4 2h5v5h-5zm-26-1h5v5h-5zm-25-2h5v5h-5zm94 21h5v5h-5zm-16 5h5v5h-5zm-33-7h5v5h-5zm10 19h5v5h-5zm2-4h5v5h-5zm9 0h5v5h-5zm4 5h5v5h-5zm38-8h5v5h-5zm-27 18h5v5h-5zm-1-4h5v5h-5zm-1-2h5v5h-5zm-10-1h5v5h-5zm-5 4h5v5h-5zm-1 6h5v5h-5zm-2-1h5v5h-5zm-5 6h5v5h-5zm11-3h5v5h-5zm2 6h5v5h-5zm7 1h5v5h-5zm1 0h5v5h-5zm1-5h5v5h-5zm18 1h5v5h-5zm-16 10h5v5h-5zm-5 0h5v5h-5z" fill="#f7b029"/><path d="M27 106h5v5h-5zm53 4h5v5h-5zm-1 3h5v5h-5zm-33 3h5v5h-5zm-16 1h5v5h-5zm-1-2h5v5h-5zm-3 13h5v5h-5zm19-8h5v5h-5zm16 0h5v5h-5zm22 8h5v5h-5zm8 7h5v5h-5zm-6 6h5v5h-5zm-24 8h5v5h-5zm19 2h5v5h-5zm5-4h5v5h-5zm4 4h5v5h-5zm3 13h5v5h-5zm-13-7h5v5h-5zm-3 9h5v5h-5zm14 11h5v5h-5zm47-6h5v5h-5zm-12 17h5v5h-5zm-19-4h5v5h-5zm-2-2h5v5h-5zm-2 4h5v5h-5zm-16-4h5v5h-5zm-5 6h5v5h-5zm21 7h5v5h-5zm20 4h5v5h-5zm9 0h5v5h-5zm1-6h5v5h-5z" fill="#f69a23"/><path d="M41 81h5v5h-5zm21-6h5v5h-5zm2 7h5v5h-5zm-4 9h5v5h-5zm-2-2h5v5h-5zm-3 4h5v5h-5zm-10-1h5v5h-5zm-5 2h5v5h-5zm-15 5h5v5h-5zm4 2h5v5h-5zm3-3h5v5h-5zm14-1h5v5h-5zm26 3h5v5h-5zm-26 18h5v5h-5zm-6-9h5v5h-5zm12 16h5v5h-5zm7-2h5v5h-5zm-28 18h5v5h-5zm12 5h5v5h-5zm48 7h5v5h-5zm30-1h5v5h-5zm21 13h5v5h-5zm-49-1h5v5h-5zm-2 0h5v5h-5zm-5 0h5v5h-5zm30 9h5v5h-5zm10-5h5v5h-5zm19 7h5v5h-5zm2-5h5v5h-5zm-30 17h5v5h-5zm-39-4h5v5h-5zm49 10h5v5h-5z" fill="#fade34"/><path d="M57 82h5v5h-5zm21 26h5v5h-5zm7 19h5v5h-5zm26 12h5v5h-5zm-18 3h5v5h-5zm-43-5h5v5h-5zm39 7h5v5h-5zm12 7h5v5h-5zm1-3h5v5h-5zm0-3h5v5h-5zm4 7h5v5h-5zm-24 7h5v5h-5zm-6 10h5v5h-5zm63 21h5v5h-5zm-37-6h5v5h-5zm-1 11h5v5h-5zm23 8h5v5h-5z" fill="#ec5d1d"/><path d="M50 78h5v5h-5zm11-4h5v5h-5zm16 20h5v5h-5zm-10-8h5v5h-5zm-13 9h5v5h-5zm-28-5h5v5h-5zm11 16h5v5h-5zm24 0h5v5h-5zm15 12h5v5h-5zm-7 0h5v5h-5zm-4-6h5v5h-5zm41 28h5v5h-5zm-70 2h5v5h-5zm-3-2h5v5h-5zm17 4h5v5h-5zm86 14h5v5h-5zm-4 1h5v5h-5zm-35 3h5v5h-5zm-16-5h5v5h-5zm-2 3h5v5h-5zm48 17h5v5h-5zm5-6h5v5h-5zm-16 32h5v5h-5z" fill="#e1de52"/><path d="M36 119h5v5h-5zm-3-2h5v5h-5zm-12-5h5v5h-5zm3 17h5v5h-5zm2 2h5v5h-5zm67-5h5v5h-5zm-16 12h5v5h-5zm-10-5h5v5h-5zm-11 3h5v5h-5zm-32 3h5v5h-5zm70 6h5v5h-5zm-4 18h5v5h-5zm14 27h5v5h-5zm-14 8h5v5h-5zm10-3h5v5h-5zm19 6h5v5h-5z" fill="#e63c1b"/><path d="M47 80h5v5h-5zm-2 15h5v5h-5zm-16-4h5v5h-5zm-6 11h5v5h-5zm3-3h5v5h-5zm2-3h5v5h-5zm30 0h5v5h-5zm19 21h5v5h-5zm-23-1h5v5h-5zm-6 7h5v5h-5zm5 1h5v5h-5zm6 24h5v5h-5zm74 17h5v5h-5zm-8 0h5v5h-5zm-39 10h5v5h-5zm19-3h5v5h-5zm2-1h5v5h-5zm11 1h5v5h-5zm17 5h5v5h-5zm6-7h5v5h-5zm-10 15h5v5h-5zm-2 1h5v5h-5zm-8 3h5v5h-5z" fill="#c8de70"/><path d="M41 79h5v5h-5zm1 1h5v5h-5zm15-2h5v5h-5zm17 0h5v5h-5zm0 6h5v5h-5zm-32 2h5v5h-5zm-11-2h5v5h-5zm-2 2h5v5h-5zm-2 13h5v5h-5zm7 0h5v5h-5zm40 54h5v5h-5z" fill="#9fd1c0"/><path d="M31 96h5v5h-5zm8 1h5v5h-5zm18 0h5v5h-5zm-3 14h5v5h-5zm-14 11h5v5h-5zm58 36h5v5h-5zm28 19h5v5h-5zm10 0h5v5h-5z" fill="#b2da94"/><path d="M83 108h5v5h-5zm-61 20h5v5h-5zm72 10h5v5h-5zm-38-3h5v5h-5zm19 35h5v5h-5zm4 4h5v5h-5z" fill="#db2319"/><path d="M45 83h5v5h-5zm-24 16h5v5h-5z" fill="#8cc8ec"/></g></g></defs><use href="#d13" filter="url(#hb)" opacity="0.45"/><use href="#d13"/><path d="M358.35,430.93C358.57,429.54 359.46,427.33 360.68,426.21C361.91,425.1 363.22,424.7 365.72,424.22C368.22,423.74 372.35,423.37 375.69,423.31C379.03,423.25 383.29,423.37 385.76,423.86C388.23,424.34 389.52,425.25 390.51,426.21C391.51,427.18 392,428.51 391.72,429.66C391.44,430.81 390.46,432.09 388.83,433.1C387.2,434.12 384.55,434.98 381.94,435.73C379.33,436.49 376.3,437.42 373.17,437.64C370.05,437.85 365.5,437.51 363.2,437C360.9,436.49 360.19,435.57 359.38,434.55C358.57,433.54 358.14,432.32 358.35,430.93Z" fill="none" stroke="#000" stroke-width="2.0" stroke-linejoin="round"/><path d="M378.44,438.64C380.63,436.9 387.15,432.87 391.01,431.47C394.88,430.06 398.53,430.2 401.62,430.2C404.71,430.2 407.48,430.38 409.58,431.47C411.67,432.55 413.31,434.75 414.19,436.7C415.08,438.66 415.34,440.88 414.88,443.2C414.42,445.53 413.05,448.54 411.44,450.68C409.84,452.81 407.41,454.39 405.25,456.01C403.09,457.63 400.97,459.55 398.48,460.38C395.99,461.2 392.91,461.2 390.33,460.96C387.74,460.72 384.68,460.31 382.96,458.92C381.24,457.53 380.81,454.8 380.01,452.62C379.21,450.43 378.51,447.6 378.15,445.82C377.79,444.05 377.8,443.14 377.85,441.94C377.9,440.75 376.25,440.39 378.44,438.64Z" fill="none" stroke="#000" stroke-width="2.0" stroke-linejoin="round"/><path d="M375.56,439.76C373.93,439.46 369.48,440.3 366.88,440.86C364.29,441.43 361.83,441.71 360,443.16C358.17,444.6 356.78,447.33 355.91,449.54C355.05,451.75 354.72,454.32 354.82,456.43C354.92,458.54 355.47,460.77 356.51,462.22C357.56,463.66 358.99,464.44 361.1,465.11C363.21,465.78 367.15,465.64 369.18,466.21C371.21,466.77 372.4,467.26 373.27,468.5C374.13,469.75 373.9,471.68 374.36,473.69C374.83,475.7 375.1,478.85 376.06,480.58C377.02,482.31 378.42,483.29 380.15,484.07C381.88,484.85 384.04,485.45 386.43,485.27C388.83,485.09 392.4,484.52 394.51,482.97C396.62,481.43 398.33,478.1 399.1,475.99C399.86,473.88 399.66,471.93 399.1,470.3C398.53,468.67 397.62,467.46 395.71,466.21C393.8,464.96 389.74,463.68 387.63,462.81C385.52,461.95 384.39,462.27 383.04,461.02C381.7,459.77 380.52,457.44 379.55,455.33C378.59,453.22 377.74,450.46 377.26,448.35C376.78,446.23 376.94,444.09 376.66,442.66C376.38,441.23 377.19,440.06 375.56,439.76Z" fill="none" stroke="#000" stroke-width="2.0" stroke-linejoin="round"/><rect x="98.3" y="510" width="72.5" height="73.2" fill="#fff" stroke="#000" stroke-width="1.5"/><line x1="95.3" y1="512.5" x2="98.3" y2="512.5" stroke="#000" stroke-width="1"/><line x1="95.3" y1="519.43" x2="98.3" y2="519.43" stroke="#000" stroke-width="1"/><line x1="95.3" y1="526.36" x2="98.3" y2="526.36" stroke="#000" stroke-width="1"/><line x1="95.3" y1="533.29" x2="98.3" y2="533.29" stroke="#000" stroke-width="1"/><line x1="95.3" y1="540.22" x2="98.3" y2="540.22" stroke="#000" stroke-width="1"/><line x1="95.3" y1="547.15" x2="98.3" y2="547.15" stroke="#000" stroke-width="1"/><line x1="95.3" y1="554.08" x2="98.3" y2="554.08" stroke="#000" stroke-width="1"/><line x1="95.3" y1="561.01" x2="98.3" y2="561.01" stroke="#000" stroke-width="1"/><line x1="95.3" y1="567.94" x2="98.3" y2="567.94" stroke="#000" stroke-width="1"/><line x1="95.3" y1="574.87" x2="98.3" y2="574.87" stroke="#000" stroke-width="1"/><line x1="106.1" y1="583.2" x2="106.1" y2="586.2" stroke="#000" stroke-width="1"/><line x1="114.76" y1="583.2" x2="114.76" y2="586.2" stroke="#000" stroke-width="1"/><line x1="123.42" y1="583.2" x2="123.42" y2="586.2" stroke="#000" stroke-width="1"/><line x1="132.08" y1="583.2" x2="132.08" y2="586.2" stroke="#000" stroke-width="1"/><line x1="140.74" y1="583.2" x2="140.74" y2="586.2" stroke="#000" stroke-width="1"/><line x1="149.4" y1="583.2" x2="149.4" y2="586.2" stroke="#000" stroke-width="1"/><line x1="158.06" y1="583.2" x2="158.06" y2="586.2" stroke="#000" stroke-width="1"/><line x1="166.72" y1="583.2" x2="166.72" y2="586.2" stroke="#000" stroke-width="1"/><path d="M110.06,522.88C110.28,521.48 111.18,519.26 112.42,518.14C113.67,517.01 114.99,516.61 117.53,516.13C120.07,515.64 124.26,515.28 127.65,515.21C131.04,515.15 135.36,515.28 137.87,515.76C140.37,516.25 141.68,517.16 142.69,518.14C143.7,519.11 144.21,520.45 143.92,521.6C143.64,522.76 142.64,524.05 140.99,525.07C139.33,526.09 136.64,526.96 133.99,527.72C131.34,528.48 128.27,529.42 125.1,529.64C121.93,529.85 117.31,529.51 114.97,529C112.64,528.48 111.92,527.55 111.1,526.53C110.28,525.51 109.83,524.28 110.06,522.88Z" fill="#fefbf7"/><path d="M127.67,532.03C129.9,530.26 136.56,526.2 140.5,524.78C144.45,523.36 148.18,523.5 151.33,523.5C154.49,523.5 157.32,523.68 159.46,524.78C161.6,525.87 163.27,528.09 164.17,530.07C165.08,532.04 165.34,534.28 164.87,536.63C164.41,538.98 163,542.02 161.36,544.17C159.73,546.33 157.25,547.93 155.05,549.56C152.84,551.19 150.67,553.14 148.13,553.97C145.58,554.8 142.44,554.8 139.8,554.56C137.16,554.31 134.03,553.9 132.28,552.5C130.52,551.1 130.09,548.34 129.27,546.13C128.45,543.93 127.73,541.07 127.36,539.28C127,537.48 127.01,536.57 127.06,535.36C127.11,534.15 125.43,533.79 127.67,532.03Z" fill="#fbfbfb"/><path d="M124.72,532.56C123.09,532.27 118.65,533.07 116.06,533.62C113.47,534.16 111.02,534.43 109.19,535.83C107.37,537.22 105.97,539.85 105.11,541.98C104.25,544.11 103.92,546.57 104.02,548.6C104.12,550.64 104.66,552.78 105.71,554.18C106.75,555.57 108.18,556.32 110.29,556.96C112.39,557.6 116.32,557.48 118.35,558.02C120.37,558.56 121.56,559.03 122.43,560.23C123.29,561.43 123.06,563.29 123.52,565.22C123.99,567.16 124.25,570.19 125.21,571.85C126.17,573.52 127.57,574.46 129.29,575.22C131.02,575.97 133.17,576.55 135.56,576.37C137.95,576.19 141.52,575.65 143.62,574.16C145.73,572.67 147.44,569.47 148.2,567.43C148.96,565.4 148.76,563.53 148.2,561.96C147.64,560.39 146.72,559.22 144.82,558.02C142.91,556.82 138.86,555.59 136.76,554.75C134.65,553.92 133.52,554.22 132.18,553.02C130.84,551.82 129.66,549.58 128.7,547.55C127.73,545.51 126.89,542.86 126.41,540.82C125.93,538.79 126.09,536.72 125.81,535.35C125.53,533.97 126.34,532.85 124.72,532.56Z" fill="#fafbfb"/><defs><g id="d20"><g transform="translate(97.47 509.17) scale(0.3333)"><path d="M87 20h5v5h-5zm-1-2h5v5h-5zm-14 15h5v5h-5zm17 0h5v5h-5zm25-2h5v5h-5zm7 0h5v5h-5zm1-7h5v5h-5zm2 5h5v5h-5zm-3 9h5v5h-5zm-4-2h5v5h-5zm-30 2h5v5h-5zm-10 0h5v5h-5zm2 15h5v5h-5zm1-1h5v5h-5zm2 1h5v5h-5zm0 1h5v5h-5zm4 3h5v5h-5z" fill="#f69a23"/><path d="M121 20h5v5h-5zm-46 2h5v5h-5zm-3-1h5v5h-5zm3 3h5v5h-5zm12 1h5v5h-5zm40 0h5v5h-5zm1 8h5v5h-5zm-4 10h5v5h-5zm-10 3h5v5h-5zm-32-8h5v5h-5zm-1 7h5v5h-5zm-2-3h5v5h-5zm0 5h5v5h-5zm-3-10h5v5h-5z" fill="#f9c72e"/><path d="M116 22h5v5h-5zm-5-2h5v5h-5zm-10-3h5v5h-5zm-1 0h5v5h-5zm-10 12h5v5h-5zm0-3h5v5h-5zm17 0h5v5h-5zm2 0h5v5h-5zm5 6h5v5h-5zm-26 8h5v5h-5zm-1 13h5v5h-5z" fill="#ec5d1d"/><path d="M73 22h5v5h-5zm-22 0h5v5h-5zm9 5h5v5h-5zm5 1h5v5h-5zm1 0h5v5h-5zm0-3h5v5h-5zm2 3h5v5h-5zm9 1h5v5h-5zm-10 16h5v5h-5zm-6 2h5v5h-5zm14 11h5v5h-5z" fill="#c8de70"/><path d="M72 20h5v5h-5zm5 14h5v5h-5zm39 0h5v5h-5zm9-5h5v5h-5zm6 3h5v5h-5zm1 1h5v5h-5zm1-4h5v5h-5zm-8 7h5v5h-5zm-13 2h5v5h-5zm-27 1h5v5h-5zm-3 1h5v5h-5zm-3 6h5v5h-5zm-3-5h5v5h-5zm38 9h5v5h-5zm2-2h5v5h-5z" fill="#f7b029"/><path d="M94 31h5v5h-5zm6-1h5v5h-5zm3 3h5v5h-5zm0 3h5v5h-5zm-1 1h5v5h-5zm0 9h5v5h-5zm-1-7h5v5h-5zm-7 2h5v5h-5z" fill="#c81816"/><path d="M81 23h5v5h-5zm-27 3h5v5h-5zm75 1h5v5h-5zm-11 17h5v5h-5zm-4 3h5v5h-5zm-34-3h5v5h-5zm-15-5h5v5h-5zm10 12h5v5h-5z" fill="#fade34"/><path d="M69 17h5v5h-5zm-19 8h5v5h-5zm9 4h5v5h-5zm21 4h5v5h-5zm0 3h5v5h-5zm-16 2h5v5h-5zm-9 4h5v5h-5zm16 13h5v5h-5z" fill="#e1de52"/><path d="M110 23h5v5h-5zm-26-5h5v5h-5zm5 12h5v5h-5zm4-1h5v5h-5zm0 6h5v5h-5zm5-11h5v5h-5zm0 8h5v5h-5zm2 3h5v5h-5zm0-5h5v5h-5zm5 0h5v5h-5zm14 7h5v5h-5zm-11 0h5v5h-5zm-5 0h5v5h-5zm-8 8h5v5h-5zm-2-5h5v5h-5z" fill="#e63c1b"/><path d="M124 23h5v5h-5zm-19-3h5v5h-5zm-1 1h5v5h-5zm2 10h5v5h-5zm24-5h5v5h-5zm-4 12h5v5h-5zm-10-1h5v5h-5zm-35 17h5v5h-5zm1-2h5v5h-5zm1 2h5v5h-5zm6 2h5v5h-5z" fill="#f27f1f"/><path d="M103 22h5v5h-5zm-10 9h5v5h-5zm4-2h5v5h-5zm7 4h5v5h-5zm0 4h5v5h-5zm-7 2h5v5h-5zm-1 5h5v5h-5zm-1-4h5v5h-5zm-7 3h5v5h-5z" fill="#db2319"/><path d="M50 32h5v5h-5zm3 10h5v5h-5zm-5-4h5v5h-5zm-11 5h5v5h-5z" fill="#6cafe5"/><path d="M47 37h5v5h-5z" fill="#4c96dd"/><path d="M46 27h5v5h-5zm0 0h5v5h-5zm26 2h5v5h-5zm51 17h5v5h-5zm-78 1h5v5h-5z" fill="#9fd1c0"/><path d="M51 41h5v5h-5z" fill="#8cc8ec"/><path d="M67 23h5v5h-5zm-6 0h5v5h-5zm-15 2h5v5h-5zm13 27h5v5h-5zm12-3h5v5h-5z" fill="#b2da94"/></g><g transform="translate(97.47 509.17) scale(0.3333)"><path d="M108 56h5v5h-5zm2 1h5v5h-5zm10 0h5v5h-5zm6-3h5v5h-5zm1-2h5v5h-5zm11 4h5v5h-5zm7 2h5v5h-5zm28 4h5v5h-5zm-1 6h5v5h-5zm-12-6h5v5h-5zm-1 8h5v5h-5zm-1-3h5v5h-5zm-7-1h5v5h-5zm-33-3h5v5h-5zm-4-3h5v5h-5zm-6 6h5v5h-5z" fill="#f69a23"/><path d="M135 79h5v5h-5zm2-6h5v5h-5zm38 9h5v5h-5zm1-1h5v5h-5zm17 2h5v5h-5zm2 6h5v5h-5zm-7-4h5v5h-5zm-2 0h5v5h-5zm-17 7h5v5h-5zm-13 3h5v5h-5zm-24-2h5v5h-5zm-8 2h5v5h-5zm-12 12h5v5h-5zm5-8h5v5h-5zm11-1h5v5h-5zm8 7h5v5h-5zm1-2h5v5h-5zm1-1h5v5h-5zm1 1h5v5h-5zm15-4h5v5h-5zm9 0h5v5h-5zm-23 19h5v5h-5zm-9-5h5v5h-5zm-12-5h5v5h-5zm-15 14h5v5h-5zm2 4h5v5h-5z" fill="#6cafe5"/><path d="M104 81h5v5h-5zm2-3h5v5h-5zm2 4h5v5h-5zm7-4h5v5h-5zm2-3h5v5h-5zm17 8h5v5h-5zm19-6h5v5h-5zm2 3h5v5h-5zm18 3h5v5h-5zm14-5h5v5h-5zm-20 17h5v5h-5zm-7-8h5v5h-5zm-13 0h5v5h-5zm-1 6h5v5h-5zm-2-1h5v5h-5zm-1-6h5v5h-5zm-4 8h5v5h-5zm-4-8h5v5h-5zm-9 3h5v5h-5zm-2 2h5v5h-5zm-1-6h5v5h-5zm-15 5h5v5h-5zm-11 0h5v5h-5zm-5 6h5v5h-5zm15 4h5v5h-5zm28-3h5v5h-5zm6 4h5v5h-5zm3-3h5v5h-5zm6 5h5v5h-5zm10-1h5v5h-5zm2 0h5v5h-5zm24 0h5v5h-5zm-79 8h5v5h-5zm-6-2h5v5h-5zm-2 1h5v5h-5z" fill="#8cc8ec"/><path d="M105 58h5v5h-5zm14 1h5v5h-5zm13-5h5v5h-5zm1 0h5v5h-5zm61 11h5v5h-5zm0 4h5v5h-5zm-21-2h5v5h-5zm-1-2h5v5h-5zm-50-1h5v5h-5zm-5 6h5v5h-5zm0-4h5v5h-5zm-11-2h5v5h-5zm-2-2h5v5h-5z" fill="#f7b029"/><path d="M186 82h5v5h-5zm2 1h5v5h-5zm2 0h5v5h-5zm9-4h5v5h-5zm-3 6h5v5h-5zm-11 5h5v5h-5zm-5 4h5v5h-5zm-1-6h5v5h-5zm-46 7h5v5h-5zm-4-4h5v5h-5zm-3-2h5v5h-5zm-4 2h5v5h-5zm-2 14h5v5h-5zm11-2h5v5h-5zm7-6h5v5h-5zm4 8h5v5h-5zm4-3h5v5h-5zm10 1h5v5h-5zm16 4h5v5h-5zm3-2h5v5h-5zm10-4h5v5h-5zm-21 18h5v5h-5zm-49 4h5v5h-5zm16-2h5v5h-5zm8 6h5v5h-5zm2-5h5v5h-5zm11 1h5v5h-5z" fill="#4c96dd"/><path d="M168 45h5v5h-5zm-16-2h5v5h-5zm-39 11h5v5h-5zm8-3h5v5h-5zm12 0h5v5h-5zm19 3h5v5h-5zm2-1h5v5h-5zm13 4h5v5h-5zm11 4h5v5h-5zm-1 0h5v5h-5z" fill="#ec5d1d"/><path d="M109 80h5v5h-5zm9-2h5v5h-5zm11-4h5v5h-5zm24 9h5v5h-5zm22-8h5v5h-5zm3 1h5v5h-5zm5 2h5v5h-5zm3 1h5v5h-5zm3 1h5v5h-5zm-25 5h5v5h-5zm-2 0h5v5h-5zm-2 10h5v5h-5zm-1 0h5v5h-5zm-7-11h5v5h-5zm-7 7h5v5h-5zm-6-7h5v5h-5zm-18 0h5v5h-5zm-10 3h5v5h-5zm-18 7h5v5h-5zm24 5h5v5h-5zm-3 13h5v5h-5zm-6-3h5v5h-5zm-2 0h5v5h-5zm-8 6h5v5h-5zm5 11h5v5h-5z" fill="#9fd1c0"/><path d="M154 44h5v5h-5zm-8 2h5v5h-5zm-4-2h5v5h-5zm1 9h5v5h-5zm1-2h5v5h-5zm2-3h5v5h-5zm16 7h5v5h-5zm13 2h5v5h-5zm17 6h5v5h-5zm-8 0h5v5h-5zm0-3h5v5h-5z" fill="#e63c1b"/><path d="M182 83h5v5h-5zm14 2h5v5h-5zm-2 2h5v5h-5zm-9 0h5v5h-5zm-1 6h5v5h-5zm-5-6h5v5h-5zm-2 5h5v5h-5zm-4-6h5v5h-5zm-38 13h5v5h-5zm2 4h5v5h-5zm6-5h5v5h-5zm11 1h5v5h-5zm2 7h5v5h-5zm27-8h5v5h-5zm2 0h5v5h-5zm6 1h5v5h-5zm-30 14h5v5h-5zm-5 5h5v5h-5zm-12-1h5v5h-5zm-2-4h5v5h-5zm-6 4h5v5h-5zm-5 0h5v5h-5zm-3-7h5v5h-5zm-15 3h5v5h-5zm-3 1h5v5h-5zm-2 1h5v5h-5zm4 5h5v5h-5zm6 0h5v5h-5zm4 10h5v5h-5zm2-9h5v5h-5zm14 6h5v5h-5zm7-4h5v5h-5zm1 6h5v5h-5zm1-3h5v5h-5zm-26 6h5v5h-5z" fill="#3b82d5"/><path d="M141 70h5v5h-5zm-9 1h5v5h-5zm-32 3h5v5h-5zm23 9h5v5h-5zm12-1h5v5h-5zm1-3h5v5h-5zm2-5h5v5h-5zm1 5h5v5h-5zm17-2h5v5h-5zm34 2h5v5h-5zm-33 10h5v5h-5zm-3-1h5v5h-5zm-1-2h5v5h-5zm-10 2h5v5h-5zm-41 3h5v5h-5zm-1-6h5v5h-5zm-3 0h5v5h-5zm-1 4h5v5h-5zm6 17h5v5h-5z" fill="#b2da94"/><path d="M189 90h5v5h-5zm-5 4h5v5h-5zm-3-8h5v5h-5zm-4 9h5v5h-5zm-56 6h5v5h-5zm3 5h5v5h-5zm21-6h5v5h-5zm3 5h5v5h-5zm19 3h5v5h-5zm-3 9h5v5h-5zm-14-2h5v5h-5zm-10 1h5v5h-5zm-24 12h5v5h-5zm17-1h5v5h-5zm10-3h5v5h-5zm0 2h5v5h-5zm4 1h5v5h-5zm0-3h5v5h-5zm10-3h5v5h-5zm-19 11h5v5h-5z" fill="#2e6fcd"/><path d="M134 69h5v5h-5zm-6 1h5v5h-5zm-12 1h5v5h-5zm-14 0h5v5h-5zm-5-8h5v5h-5zm-9 18h5v5h-5zm2-5h5v5h-5zm5-3h5v5h-5zm0 9h5v5h-5zm3-3h5v5h-5zm20 0h5v5h-5zm74-6h5v5h-5zm7 1h5v5h-5zm-91 14h5v5h-5zm-3-1h5v5h-5z" fill="#e1de52"/><path d="M144 69h5v5h-5zm-5 2h5v5h-5zm-3-6h5v5h-5zm-47 5h5v5h-5zm1 12h5v5h-5zm24-4h5v5h-5zm0-2h5v5h-5zm13-4h5v5h-5zm1 1h5v5h-5zm1 0h5v5h-5zm3 0h5v5h-5zm1 3h5v5h-5zm8-1h5v5h-5zm23-3h5v5h-5zm16 1h5v5h-5zm11 4h5v5h-5zm2-3h5v5h-5zm-33 12h5v5h-5zm-11 7h5v5h-5zm-43-7h5v5h-5zm-15 9h5v5h-5z" fill="#c8de70"/><path d="M130 56h5v5h-5zm67 15h5v5h-5zm-14 0h5v5h-5zm-25-7h5v5h-5zm-8 6h5v5h-5zm-10-3h5v5h-5zm-37-2h5v5h-5zm-3-3h5v5h-5zm-12 5h5v5h-5zm33 7h5v5h-5zm38-1h5v5h-5z" fill="#fade34"/><path d="M179 47h5v5h-5zm-57 5h5v5h-5zm12-1h5v5h-5zm12 7h5v5h-5zm8-1h5v5h-5zm15 2h5v5h-5zm24 4h5v5h-5zm-23 4h5v5h-5zm-7 3h5v5h-5zm-9-8h5v5h-5zm-37-1h5v5h-5z" fill="#f27f1f"/><path d="M191 65h5v5h-5zm-25 6h5v5h-5zm-13-4h5v5h-5zm-9-6h5v5h-5zm-15 8h5v5h-5zm-6-1h5v5h-5zm-1 2h5v5h-5zm-6-6h5v5h-5zm-14 0h5v5h-5zm-5 2h5v5h-5zm61 8h5v5h-5zm2-1h5v5h-5z" fill="#f9c72e"/><path d="M182 45h5v5h-5zm-31-3h5v5h-5zm20 13h5v5h-5zm1-4h5v5h-5zm6-3h5v5h-5zm17 15h5v5h-5z" fill="#c81816"/><path d="M165 107h5v5h-5zm4-2h5v5h-5zm-4 10h5v5h-5zm-6 1h5v5h-5zm-3-2h5v5h-5zm-3 1h5v5h-5zm0-4h5v5h-5zm-1 1h5v5h-5zm-2-1h5v5h-5zm-2 3h5v5h-5zm-1-6h5v5h-5zm0 0h5v5h-5zm-16 21h5v5h-5zm-3 4h5v5h-5zm-2 0h5v5h-5z" fill="#1c4dad"/><path d="M191 93h5v5h-5zm-42 13h5v5h-5zm30-7h5v5h-5zm-5 13h5v5h-5zm-5 2h5v5h-5zm-8 5h5v5h-5zm-11 0h5v5h-5zm-12-1h5v5h-5zm-4 10h5v5h-5zm11-6h5v5h-5zm1 2h5v5h-5zm-19 8h5v5h-5z" fill="#205cc4"/><path d="M180 47h5v5h-5zm-37-1h5v5h-5zm0-1h5v5h-5z" fill="#db2319"/></g><g transform="translate(97.47 509.17) scale(0.3333)"><path d="M50 75h5v5h-5zm24 6h5v5h-5zm-28 5h5v5h-5zm-25 18h5v5h-5zm15 4h5v5h-5zm-12 19h5v5h-5zm52 6h5v5h-5z" fill="#193e96"/><path d="M33 84h5v5h-5zm26 22h5v5h-5zm12 42h5v5h-5zm35 0h5v5h-5zm14 14h5v5h-5zm-34-3h5v5h-5zm15 13h5v5h-5zm14 7h5v5h-5z" fill="#9fd1c0"/><path d="M65 79h5v5h-5zm3 4h5v5h-5zm3 4h5v5h-5zm-32 5h5v5h-5zm-12 13h5v5h-5zm65 11h5v5h-5zm-74-2h5v5h-5z" fill="#2e6fcd"/><path d="M67 106h5v5h-5zm-27 23h5v5h-5zm50 8h5v5h-5zm-6 23h5v5h-5zm7 17h5v5h-5z" fill="#6cafe5"/><path d="M59 86h5v5h-5zm12 49h5v5h-5zm-16-2h5v5h-5zm37 44h5v5h-5zm10-6h5v5h-5zm-1 23h5v5h-5z" fill="#3b82d5"/><path d="M142 166h5v5h-5zm-5 15h5v5h-5zm-23 5h5v5h-5z" fill="#fade34"/><path d="M55 124h5v5h-5zm49 7h5v5h-5zm-20 43h5v5h-5zm33 4h5v5h-5zm-2 13h5v5h-5z" fill="#b2da94"/><path d="M134 142h5v5h-5zm-29 6h5v5h-5zm32-1h5v5h-5zm-7 36h5v5h-5zm-14-1h5v5h-5zm-5 16h5v5h-5z" fill="#c8de70"/><path d="M143 164h5v5h-5zm-19 0h5v5h-5z" fill="#f7b029"/><path d="M49 72h5v5h-5zm30 7h5v5h-5z" fill="#205cc4"/><path d="M142 162h5v5h-5zm-7 20h5v5h-5z" fill="#ec5d1d"/><path d="M135 163h5v5h-5zm1 23h5v5h-5z" fill="#f69a23"/><path d="M57 123h5v5h-5zm12 15h5v5h-5zm35 17h5v5h-5zm5 20h5v5h-5z" fill="#8cc8ec"/><path d="M39 112h5v5h-5zm-3-3h5v5h-5z" fill="#1c4dad"/><path d="M67 103h5v5h-5zm-20 18h5v5h-5zm12 13h5v5h-5zm47 21h5v5h-5zm-18 2h5v5h-5z" fill="#4c96dd"/><path d="M121 174h5v5h-5zm22 6h5v5h-5z" fill="#f9c72e"/></g></g></defs><use href="#d20" filter="url(#hb)" opacity="0.45"/><use href="#d20"/><path d="M110.06,522.88C110.28,521.48 111.18,519.26 112.42,518.14C113.67,517.01 114.99,516.61 117.53,516.13C120.07,515.64 124.26,515.28 127.65,515.21C131.04,515.15 135.36,515.28 137.87,515.76C140.37,516.25 141.68,517.16 142.69,518.14C143.7,519.11 144.21,520.45 143.92,521.6C143.64,522.76 142.64,524.05 140.99,525.07C139.33,526.09 136.64,526.96 133.99,527.72C131.34,528.48 128.27,529.42 125.1,529.64C121.93,529.85 117.31,529.51 114.97,529C112.64,528.48 111.92,527.55 111.1,526.53C110.28,525.51 109.83,524.28 110.06,522.88Z" fill="none" stroke="#000" stroke-width="2.0" stroke-linejoin="round"/><path d="M127.67,532.03C129.9,530.26 136.56,526.2 140.5,524.78C144.45,523.36 148.18,523.5 151.33,523.5C154.49,523.5 157.32,523.68 159.46,524.78C161.6,525.87 163.27,528.09 164.17,530.07C165.08,532.04 165.34,534.28 164.87,536.63C164.41,538.98 163,542.02 161.36,544.17C159.73,546.33 157.25,547.93 155.05,549.56C152.84,551.19 150.67,553.14 148.13,553.97C145.58,554.8 142.44,554.8 139.8,554.56C137.16,554.31 134.03,553.9 132.28,552.5C130.52,551.1 130.09,548.34 129.27,546.13C128.45,543.93 127.73,541.07 127.36,539.28C127,537.48 127.01,536.57 127.06,535.36C127.11,534.15 125.43,533.79 127.67,532.03Z" fill="none" stroke="#000" stroke-width="2.0" stroke-linejoin="round"/><path d="M124.72,532.56C123.09,532.27 118.65,533.07 116.06,533.62C113.47,534.16 111.02,534.43 109.19,535.83C107.37,537.22 105.97,539.85 105.11,541.98C104.25,544.11 103.92,546.57 104.02,548.6C104.12,550.64 104.66,552.78 105.71,554.18C106.75,555.57 108.18,556.32 110.29,556.96C112.39,557.6 116.32,557.48 118.35,558.02C120.37,558.56 121.56,559.03 122.43,560.23C123.29,561.43 123.06,563.29 123.52,565.22C123.99,567.16 124.25,570.19 125.21,571.85C126.17,573.52 127.57,574.46 129.29,575.22C131.02,575.97 133.17,576.55 135.56,576.37C137.95,576.19 141.52,575.65 143.62,574.16C145.73,572.67 147.44,569.47 148.2,567.43C148.96,565.4 148.76,563.53 148.2,561.96C147.64,560.39 146.72,559.22 144.82,558.02C142.91,556.82 138.86,555.59 136.76,554.75C134.65,553.92 133.52,554.22 132.18,553.02C130.84,551.82 129.66,549.58 128.7,547.55C127.73,545.51 126.89,542.86 126.41,540.82C125.93,538.79 126.09,536.72 125.81,535.35C125.53,533.97 126.34,532.85 124.72,532.56Z" fill="none" stroke="#000" stroke-width="2.0" stroke-linejoin="round"/><rect x="182.3" y="510.8" width="69.2" height="73.5" fill="#fff" stroke="#000" stroke-width="1.5"/><line x1="179.3" y1="513.3" x2="182.3" y2="513.3" stroke="#000" stroke-width="1"/><line x1="179.3" y1="520.23" x2="182.3" y2="520.23" stroke="#000" stroke-width="1"/><line x1="179.3" y1="527.16" x2="182.3" y2="527.16" stroke="#000" stroke-width="1"/><line x1="179.3" y1="534.09" x2="182.3" y2="534.09" stroke="#000" stroke-width="1"/><line x1="179.3" y1="541.02" x2="182.3" y2="541.02" stroke="#000" stroke-width="1"/><line x1="179.3" y1="547.95" x2="182.3" y2="547.95" stroke="#000" stroke-width="1"/><line x1="179.3" y1="554.88" x2="182.3" y2="554.88" stroke="#000" stroke-width="1"/><line x1="179.3" y1="561.81" x2="182.3" y2="561.81" stroke="#000" stroke-width="1"/><line x1="179.3" y1="568.74" x2="182.3" y2="568.74" stroke="#000" stroke-width="1"/><line x1="179.3" y1="575.67" x2="182.3" y2="575.67" stroke="#000" stroke-width="1"/><line x1="190.1" y1="584.3" x2="190.1" y2="587.3" stroke="#000" stroke-width="1"/><line x1="198.76" y1="584.3" x2="198.76" y2="587.3" stroke="#000" stroke-width="1"/><line x1="207.42" y1="584.3" x2="207.42" y2="587.3" stroke="#000" stroke-width="1"/><line x1="216.08" y1="584.3" x2="216.08" y2="587.3" stroke="#000" stroke-width="1"/><line x1="224.74" y1="584.3" x2="224.74" y2="587.3" stroke="#000" stroke-width="1"/><line x1="233.4" y1="584.3" x2="233.4" y2="587.3" stroke="#000" stroke-width="1"/><line x1="242.06" y1="584.3" x2="242.06" y2="587.3" stroke="#000" stroke-width="1"/><line x1="250.72" y1="584.3" x2="250.72" y2="587.3" stroke="#000" stroke-width="1"/><path d="M192.45,523.3C192.67,521.83 193.55,519.48 194.76,518.3C195.98,517.11 197.27,516.69 199.75,516.18C202.23,515.66 206.33,515.28 209.64,515.22C212.95,515.15 217.16,515.28 219.61,515.79C222.06,516.31 223.34,517.27 224.32,518.3C225.31,519.32 225.8,520.74 225.52,521.96C225.25,523.18 224.28,524.54 222.66,525.62C221.04,526.69 218.41,527.61 215.82,528.41C213.24,529.21 210.24,530.21 207.14,530.43C204.05,530.66 199.54,530.3 197.26,529.76C194.98,529.21 194.27,528.23 193.47,527.16C192.67,526.08 192.24,524.78 192.45,523.3Z" fill="#f6f9fd"/><path d="M209.63,532.56C211.79,530.77 218.22,526.64 222.03,525.2C225.84,523.75 229.45,523.9 232.5,523.9C235.55,523.9 238.28,524.09 240.35,525.2C242.42,526.31 244.03,528.57 244.9,530.57C245.78,532.58 246.03,534.85 245.58,537.24C245.13,539.63 243.77,542.72 242.19,544.91C240.61,547.1 238.22,548.72 236.08,550.38C233.95,552.04 231.85,554.01 229.4,554.86C226.94,555.7 223.9,555.7 221.35,555.46C218.8,555.21 215.78,554.79 214.08,553.37C212.39,551.94 211.97,549.14 211.18,546.9C210.38,544.66 209.69,541.75 209.34,539.93C208.98,538.1 209,537.18 209.04,535.95C209.09,534.72 207.46,534.36 209.63,532.56Z" fill="#f6f9fc"/><path d="M206.7,533.46C205.11,533.17 200.75,533.98 198.21,534.54C195.68,535.09 193.27,535.37 191.49,536.79C189.7,538.21 188.33,540.88 187.49,543.05C186.64,545.22 186.32,547.73 186.42,549.8C186.51,551.87 187.05,554.05 188.07,555.47C189.1,556.89 190.5,557.66 192.56,558.31C194.62,558.96 198.47,558.83 200.46,559.38C202.44,559.94 203.61,560.41 204.46,561.63C205.3,562.86 205.07,564.75 205.53,566.72C205.98,568.69 206.24,571.78 207.19,573.47C208.13,575.17 209.49,576.13 211.18,576.89C212.87,577.66 214.99,578.25 217.33,578.07C219.67,577.89 223.16,577.33 225.22,575.82C227.29,574.3 228.96,571.04 229.71,568.97C230.46,566.9 230.26,564.99 229.71,563.4C229.16,561.8 228.26,560.61 226.39,559.38C224.53,558.16 220.56,556.91 218.5,556.06C216.43,555.21 215.33,555.52 214.01,554.3C212.69,553.08 211.54,550.79 210.6,548.72C209.66,546.65 208.83,543.95 208.36,541.87C207.88,539.8 208.05,537.7 207.77,536.3C207.49,534.9 208.29,533.76 206.7,533.46Z" fill="#f9fafb"/><defs><g id="d21"><g transform="translate(181.47 509.97) scale(0.3333)"><path d="M90 18h5v5h-5zm0-1h5v5h-5zm-15 1h5v5h-5zm-2 4h5v5h-5zm-8-6h5v5h-5zm0 4h5v5h-5zm-3 3h5v5h-5zm-26 6h5v5h-5zm1 3h5v5h-5zm6-3h5v5h-5zm24-3h5v5h-5zm11 7h5v5h-5zm5-3h5v5h-5zm5-3h5v5h-5zm7-2h5v5h-5zm3 1h5v5h-5zm14 7h5v5h-5zm10 0h5v5h-5zm1 3h5v5h-5zm-3 5h5v5h-5zm-5-4h5v5h-5zm-1 6h5v5h-5zm-7 4h5v5h-5zm-18-2h5v5h-5zm0 0h5v5h-5zm-18-3h5v5h-5zm-26 0h5v5h-5zm62 8h5v5h-5z" fill="#1c4dad"/><path d="M109 20h5v5h-5zm-13-3h5v5h-5zm-5 5h5v5h-5zm-29-3h5v5h-5zm-8 3h5v5h-5zm-17 5h5v5h-5zm12-2h5v5h-5zm27 6h5v5h-5zm5-2h5v5h-5zm0 1h5v5h-5zm15 0h5v5h-5zm1 4h5v5h-5zm2-10h5v5h-5zm3 0h5v5h-5zm0 11h5v5h-5zm3-2h5v5h-5zm1-9h5v5h-5zm3 2h5v5h-5zm2 2h5v5h-5zm0 0h5v5h-5zm6 0h5v5h-5zm2-1h5v5h-5zm0 4h5v5h-5zm3-4h5v5h-5zm0 0h5v5h-5zm1-3h5v5h-5zm-3 20h5v5h-5zm-26-5h5v5h-5zm0 4h5v5h-5zm-1 2h5v5h-5zm-17-9h5v5h-5zm-29 9h5v5h-5zm-9-6h5v5h-5zm-3-1h5v5h-5zm-3-1h5v5h-5zm20 16h5v5h-5zm4-5h5v5h-5zm1 9h5v5h-5zm18 0h5v5h-5zm1-7h5v5h-5zm20 0h5v5h-5zm1-1h5v5h-5z" fill="#2e6fcd"/><path d="M110 19h5v5h-5zm-11-1h5v5h-5zm-11 4h5v5h-5zm-37 3h5v5h-5zm27 6h5v5h-5zm32-6h5v5h-5zm-75 17h5v5h-5zm35 7h5v5h-5zm0 3h5v5h-5zm4 2h5v5h-5zm2-2h5v5h-5zm4 3h5v5h-5z" fill="#3b82d5"/><path d="M101 18h5v5h-5zm-5 0h5v5h-5zm-1-3h5v5h-5zm-2 7h5v5h-5zm-7-3h5v5h-5zm-1 0h5v5h-5zm-2 1h5v5h-5zm0-5h5v5h-5zm-12 1h5v5h-5zm-2 0h5v5h-5zm-4 7h5v5h-5zm-1-2h5v5h-5zm-3-4h5v5h-5zm0 6h5v5h-5zm-5-1h5v5h-5zm-10-2h5v5h-5zm-5 8h5v5h-5zm1-1h5v5h-5zm2 5h5v5h-5zm0-6h5v5h-5zm0 5h5v5h-5zm3 1h5v5h-5zm13 3h5v5h-5zm3 0h5v5h-5zm1-8h5v5h-5zm2 6h5v5h-5zm10 0h5v5h-5zm1-8h5v5h-5zm15 6h5v5h-5zm1 3h5v5h-5zm1-2h5v5h-5zm1-4h5v5h-5zm3 2h5v5h-5zm0-1h5v5h-5zm6-4h5v5h-5zm2 1h5v5h-5zm4 8h5v5h-5zm5-6h5v5h-5zm4-3h5v5h-5zm0 8h5v5h-5zm1-5h5v5h-5zm3 4h5v5h-5zm1-8h5v5h-5zm1 2h5v5h-5zm1 0h5v5h-5zm-8 15h5v5h-5zm-1 4h5v5h-5zm-22-2h5v5h-5zm-4-2h5v5h-5zm-1 2h5v5h-5zm-38-3h5v5h-5zm-3-4h5v5h-5zm0 0h5v5h-5zm-2 10h5v5h-5zm-6-7h5v5h-5zm-6-2h5v5h-5zm-1 10h5v5h-5zm44 1h5v5h-5zm5 4h5v5h-5zm8-3h5v5h-5zm0 4h5v5h-5zm0 0h5v5h-5zm7-1h5v5h-5z" fill="#205cc4"/><path d="M52 34h5v5h-5z" fill="#193e96"/></g><g transform="translate(181.47 509.97) scale(0.3333)"><path d="M173 44h5v5h-5zm-6-1h5v5h-5zm-6 3h5v5h-5zm-1-1h5v5h-5zm-13-3h5v5h-5zm-36 6h5v5h-5zm5 0h5v5h-5zm5 0h5v5h-5zm18 1h5v5h-5zm2 4h5v5h-5zm3-4h5v5h-5zm1 8h5v5h-5zm3-7h5v5h-5zm8 0h5v5h-5zm1 4h5v5h-5zm6 5h5v5h-5zm2-7h5v5h-5zm3 3h5v5h-5zm4 1h5v5h-5zm8 0h5v5h-5zm9 13h5v5h-5zm-2-7h5v5h-5zm-3 5h5v5h-5zm-11 0h5v5h-5zm-3-3h5v5h-5zm-2 6h5v5h-5zm-4-9h5v5h-5zm-12 7h5v5h-5zm-3-2h5v5h-5zm-6 5h5v5h-5zm-1-2h5v5h-5zm-8-2h5v5h-5zm0 2h5v5h-5zm-5-7h5v5h-5zm-6-1h5v5h-5zm-4 4h5v5h-5zm-1 1h5v5h-5zm-16-1h5v5h-5zm-7 15h5v5h-5zm21-3h5v5h-5zm3 6h5v5h-5zm7 0h5v5h-5zm9 0h5v5h-5zm1-8h5v5h-5zm2 3h5v5h-5zm12-5h5v5h-5zm8 10h5v5h-5zm13 0h5v5h-5zm5 0h5v5h-5zm4-1h5v5h-5zm1 0h5v5h-5zm2 7h5v5h-5zm0-2h5v5h-5zm-9 2h5v5h-5zm-13 4h5v5h-5zm-2-8h5v5h-5zm0 1h5v5h-5zm-2 0h5v5h-5zm-3 2h5v5h-5zm0 0h5v5h-5zm-2 7h5v5h-5zm0 0h5v5h-5zm-1 0h5v5h-5zm-1-11h5v5h-5zm-8 9h5v5h-5zm-6-4h5v5h-5zm-12 1h5v5h-5zm0 2h5v5h-5zm0-6h5v5h-5zm-1 4h5v5h-5zm-6 0h5v5h-5zm-5-6h5v5h-5zm-3 6h5v5h-5zm-1 0h5v5h-5zm0-2h5v5h-5zm-1 0h5v5h-5zm-1-3h5v5h-5zm-1 1h5v5h-5zm-10 8h5v5h-5zm-3 1h5v5h-5zm-1-11h5v5h-5zm0 4h5v5h-5zm0 4h5v5h-5zm-2-6h5v5h-5zm-5 11h5v5h-5zm2 3h5v5h-5zm4 7h5v5h-5zm9-9h5v5h-5zm2 1h5v5h-5zm2-1h5v5h-5zm2-2h5v5h-5zm11 9h5v5h-5zm5 0h5v5h-5zm0-3h5v5h-5zm9-3h5v5h-5zm12 5h5v5h-5zm1 3h5v5h-5zm4-2h5v5h-5zm0-5h5v5h-5zm3-1h5v5h-5zm2 0h5v5h-5zm0 4h5v5h-5zm5-7h5v5h-5zm3 3h5v5h-5zm9 0h5v5h-5zm0 2h5v5h-5zm1 5h5v5h-5zm3 1h5v5h-5zm1-1h5v5h-5zm3-2h5v5h-5zm-14 11h5v5h-5zm-14 1h5v5h-5zm-3 1h5v5h-5zm-2-5h5v5h-5zm-7 2h5v5h-5zm-2-3h5v5h-5zm-8 7h5v5h-5zm-9-3h5v5h-5zm-1 4h5v5h-5zm-2-3h5v5h-5zm-2-3h5v5h-5zm-1-2h5v5h-5zm-2 1h5v5h-5zm-19 0h5v5h-5zm10 14h5v5h-5zm1-1h5v5h-5zm2 3h5v5h-5zm5-6h5v5h-5zm2-1h5v5h-5zm1 0h5v5h-5zm1 4h5v5h-5zm6 6h5v5h-5zm4-9h5v5h-5zm4-2h5v5h-5zm11 8h5v5h-5zm9-7h5v5h-5zm3 0h5v5h-5z" fill="#205cc4"/><path d="M149 46h5v5h-5zm-34 1h5v5h-5zm1 3h5v5h-5zm12 2h5v5h-5zm2-3h5v5h-5zm1 7h5v5h-5zm3-7h5v5h-5zm1 1h5v5h-5zm24 7h5v5h-5zm1-2h5v5h-5zm1 3h5v5h-5zm7 0h5v5h-5zm5-6h5v5h-5zm1 1h5v5h-5zm5-1h5v5h-5zm8 12h5v5h-5zm-24 1h5v5h-5zm-1-5h5v5h-5zm-6 1h5v5h-5zm-6 8h5v5h-5zm-16 0h5v5h-5zm-3-8h5v5h-5zm-4 7h5v5h-5zm-3-1h5v5h-5zm-21-6h5v5h-5zm0 1h5v5h-5zm-4 6h5v5h-5zm-1-1h5v5h-5zm-3-6h5v5h-5zm-2 4h5v5h-5zm-1-4h5v5h-5zm-1 6h5v5h-5zm-1 0h5v5h-5zm0-1h5v5h-5zm-8 4h5v5h-5zm6 13h5v5h-5zm0-2h5v5h-5zm0-4h5v5h-5zm4 2h5v5h-5zm2 1h5v5h-5zm8 2h5v5h-5zm36-5h5v5h-5zm6-1h5v5h-5zm42 11h5v5h-5zm-2 3h5v5h-5zm-36 0h5v5h-5zm-17 5h5v5h-5zm-13-9h5v5h-5zm-12 8h5v5h-5zm-16-3h5v5h-5zm-4 7h5v5h-5zm5 9h5v5h-5zm4-9h5v5h-5zm1-1h5v5h-5zm8 3h5v5h-5zm3 4h5v5h-5zm15-8h5v5h-5zm1 11h5v5h-5zm1-5h5v5h-5zm0 2h5v5h-5zm2-8h5v5h-5zm29 8h5v5h-5zm1 1h5v5h-5zm8 2h5v5h-5zm5 5h5v5h-5zm-41 4h5v5h-5zm-20-5h5v5h-5zm-19 1h5v5h-5zm12 8h5v5h-5zm8 0h5v5h-5zm2 4h5v5h-5zm11 2h5v5h-5zm1-1h5v5h-5zm9-2h5v5h-5zm8 6h5v5h-5zm1-1h5v5h-5zm1 3h5v5h-5zm6-11h5v5h-5zm7 2h5v5h-5zm-28 11h5v5h-5z" fill="#1c4dad"/><path d="M165 45h5v5h-5zm0 2h5v5h-5zm-24-3h5v5h-5zm-4 0h5v5h-5zm-13 5h5v5h-5zm14 8h5v5h-5zm3 1h5v5h-5zm2-6h5v5h-5zm13-1h5v5h-5zm7-3h5v5h-5zm17 9h5v5h-5zm-14 13h5v5h-5zm-15-10h5v5h-5zm-6 0h5v5h-5zm-1 5h5v5h-5zm-20 1h5v5h-5zm-2-3h5v5h-5zm-4 7h5v5h-5zm-1-1h5v5h-5zm-2-3h5v5h-5zm-9-3h5v5h-5zm-23 18h5v5h-5zm38 1h5v5h-5zm3-3h5v5h-5zm16-5h5v5h-5zm1 2h5v5h-5zm10-1h5v5h-5zm1 4h5v5h-5zm20 3h5v5h-5zm8 1h5v5h-5zm1-7h5v5h-5zm2 2h5v5h-5zm0 5h5v5h-5zm0-1h5v5h-5zm6-9h5v5h-5zm-5 11h5v5h-5zm-1 0h5v5h-5zm-2 3h5v5h-5zm-2-3h5v5h-5zm-3 9h5v5h-5zm-1 1h5v5h-5zm0-3h5v5h-5zm-1-2h5v5h-5zm-4-2h5v5h-5zm-3 3h5v5h-5zm-2-2h5v5h-5zm-9-1h5v5h-5zm-7 8h5v5h-5zm-1-1h5v5h-5zm-3-5h5v5h-5zm-40 0h5v5h-5zm-14 11h5v5h-5zm8-4h5v5h-5zm0 8h5v5h-5zm1 0h5v5h-5zm3-4h5v5h-5zm28 6h5v5h-5zm1-1h5v5h-5zm5-1h5v5h-5zm12-6h5v5h-5zm5 3h5v5h-5zm7-1h5v5h-5zm9 1h5v5h-5zm8-3h5v5h-5zm2-2h5v5h-5zm-14 13h5v5h-5zm-29 8h5v5h-5zm0-2h5v5h-5zm-3 3h5v5h-5zm-31 5h5v5h-5zm18 10h5v5h-5zm-4 0h5v5h-5z" fill="#2e6fcd"/><path d="M159 41h5v5h-5zm-55 23h5v5h-5zm40 9h5v5h-5zm35 8h5v5h-5zm1-1h5v5h-5zm5-6h5v5h-5zm-9 13h5v5h-5zm-4 4h5v5h-5zm-71 1h5v5h-5zm53 4h5v5h-5zm17 6h5v5h-5zm-61 23h5v5h-5z" fill="#3b82d5"/><path d="M125 49h5v5h-5zm35 10h5v5h-5zm2 0h5v5h-5zm-69 9h5v5h-5zm9 13h5v5h-5zm60 0h5v5h-5zm-75 7h5v5h-5zm49 18h5v5h-5zm24 11h5v5h-5zm0-1h5v5h-5zm-41-2h5v5h-5zm-11 1h5v5h-5zm22 9h5v5h-5zm15-4h5v5h-5zm-15 13h5v5h-5z" fill="#193e96"/></g><g transform="translate(181.47 509.97) scale(0.3333)"><path d="M36 95h5v5h-5zm-6-5h5v5h-5zm-3-5h5v5h-5zm5 15h5v5h-5zm1 4h5v5h-5zm10-4h5v5h-5zm30 7h5v5h-5zm-29 3h5v5h-5zm-9 12h5v5h-5zm4 1h5v5h-5z" fill="#205cc4"/><path d="M29 119h5v5h-5z" fill="#8cc8ec"/><path d="M130 155h5v5h-5zm10 2h5v5h-5zm-12 7h5v5h-5zm-9 12h5v5h-5z" fill="#f9c72e"/><path d="M99 143h5v5h-5zm13 7h5v5h-5zm19 31h5v5h-5zm-1 0h5v5h-5zm-11 3h5v5h-5z" fill="#f69a23"/><path d="M76 84h5v5h-5zm-57 9h5v5h-5zm17 33h5v5h-5zm35 1h5v5h-5zm15-6h5v5h-5z" fill="#6cafe5"/><path d="M110 149h5v5h-5zm19 36h5v5h-5zm-21 0h5v5h-5zm-5 2h5v5h-5z" fill="#f7b029"/><path d="M94 140h5v5h-5zm18 33h5v5h-5zm15-5h5v5h-5zm-5 23h5v5h-5z" fill="#e1de52"/><path d="M54 77h5v5h-5zm-16 26h5v5h-5zm2 0h5v5h-5zm24-2h5v5h-5zm7-4h5v5h-5zm5 5h5v5h-5zm2 5h5v5h-5zm5 4h5v5h-5zm-12 0h5v5h-5zm-7 4h5v5h-5zm-1-7h5v5h-5zm-24 23h5v5h-5zm23-1h5v5h-5zm6-1h5v5h-5z" fill="#1c4dad"/><path d="M88 183h5v5h-5zm-15-2h5v5h-5zm39 15h5v5h-5z" fill="#c8de70"/><path d="M41 86h5v5h-5zm-4 7h5v5h-5zm23 3h5v5h-5zm12 2h5v5h-5zm-51 17h5v5h-5zm-5 2h5v5h-5zm63 12h5v5h-5zm2-5h5v5h-5zm-21 16h5v5h-5zm-24-5h5v5h-5z" fill="#3b82d5"/><path d="M68 71h5v5h-5zm9 24h5v5h-5zm-35 48h5v5h-5z" fill="#4c96dd"/><path d="M58 74h5v5h-5zm3 0h5v5h-5zm5 20h5v5h-5zm-18 0h5v5h-5zm-14-5h5v5h-5zm-7 4h5v5h-5zm-7 6h5v5h-5zm20 7h5v5h-5zm34 2h5v5h-5zm-37 7h5v5h-5zm3 5h5v5h-5zm13 2h5v5h-5zm27-2h5v5h-5zm-18 18h5v5h-5zm-24-3h5v5h-5zm0-2h5v5h-5z" fill="#2e6fcd"/><path d="M45 75h5v5h-5zm13 2h5v5h-5zm-25 29h5v5h-5zm7-8h5v5h-5zm3 4h5v5h-5zm19 15h5v5h-5zm4 16h5v5h-5zm-20 0h5v5h-5zm0-1h5v5h-5z" fill="#193e96"/><path d="M81 146h5v5h-5zm47 15h5v5h-5zm-39 17h5v5h-5zm44 4h5v5h-5zm-34 5h5v5h-5zm14 12h5v5h-5zm5-5h5v5h-5z" fill="#fade34"/><path d="M93 184h5v5h-5z" fill="#b2da94"/><path d="M29 124h5v5h-5z" fill="#9fd1c0"/></g></g></defs><use href="#d21" filter="url(#hb)" opacity="0.45"/><use href="#d21"/><path d="M192.45,523.3C192.67,521.83 193.55,519.48 194.76,518.3C195.98,517.11 197.27,516.69 199.75,516.18C202.23,515.66 206.33,515.28 209.64,515.22C212.95,515.15 217.16,515.28 219.61,515.79C222.06,516.31 223.34,517.27 224.32,518.3C225.31,519.32 225.8,520.74 225.52,521.96C225.25,523.18 224.28,524.54 222.66,525.62C221.04,526.69 218.41,527.61 215.82,528.41C213.24,529.21 210.24,530.21 207.14,530.43C204.05,530.66 199.54,530.3 197.26,529.76C194.98,529.21 194.27,528.23 193.47,527.16C192.67,526.08 192.24,524.78 192.45,523.3Z" fill="none" stroke="#000" stroke-width="2.0" stroke-linejoin="round"/><path d="M209.63,532.56C211.79,530.77 218.22,526.64 222.03,525.2C225.84,523.75 229.45,523.9 232.5,523.9C235.55,523.9 238.28,524.09 240.35,525.2C242.42,526.31 244.03,528.57 244.9,530.57C245.78,532.58 246.03,534.85 245.58,537.24C245.13,539.63 243.77,542.72 242.19,544.91C240.61,547.1 238.22,548.72 236.08,550.38C233.95,552.04 231.85,554.01 229.4,554.86C226.94,555.7 223.9,555.7 221.35,555.46C218.8,555.21 215.78,554.79 214.08,553.37C212.39,551.94 211.97,549.14 211.18,546.9C210.38,544.66 209.69,541.75 209.34,539.93C208.98,538.1 209,537.18 209.04,535.95C209.09,534.72 207.46,534.36 209.63,532.56Z" fill="none" stroke="#000" stroke-width="2.0" stroke-linejoin="round"/><path d="M206.7,533.46C205.11,533.17 200.75,533.98 198.21,534.54C195.68,535.09 193.27,535.37 191.49,536.79C189.7,538.21 188.33,540.88 187.49,543.05C186.64,545.22 186.32,547.73 186.42,549.8C186.51,551.87 187.05,554.05 188.07,555.47C189.1,556.89 190.5,557.66 192.56,558.31C194.62,558.96 198.47,558.83 200.46,559.38C202.44,559.94 203.61,560.41 204.46,561.63C205.3,562.86 205.07,564.75 205.53,566.72C205.98,568.69 206.24,571.78 207.19,573.47C208.13,575.17 209.49,576.13 211.18,576.89C212.87,577.66 214.99,578.25 217.33,578.07C219.67,577.89 223.16,577.33 225.22,575.82C227.29,574.3 228.96,571.04 229.71,568.97C230.46,566.9 230.26,564.99 229.71,563.4C229.16,561.8 228.26,560.61 226.39,559.38C224.53,558.16 220.56,556.91 218.5,556.06C216.43,555.21 215.33,555.52 214.01,554.3C212.69,553.08 211.54,550.79 210.6,548.72C209.66,546.65 208.83,543.95 208.36,541.87C207.88,539.8 208.05,537.7 207.77,536.3C207.49,534.9 208.29,533.76 206.7,533.46Z" fill="none" stroke="#000" stroke-width="2.0" stroke-linejoin="round"/><rect x="263.3" y="511.3" width="70" height="73" fill="#fff" stroke="#000" stroke-width="1.5"/><line x1="260.3" y1="513.8" x2="263.3" y2="513.8" stroke="#000" stroke-width="1"/><line x1="260.3" y1="520.73" x2="263.3" y2="520.73" stroke="#000" stroke-width="1"/><line x1="260.3" y1="527.66" x2="263.3" y2="527.66" stroke="#000" stroke-width="1"/><line x1="260.3" y1="534.59" x2="263.3" y2="534.59" stroke="#000" stroke-width="1"/><line x1="260.3" y1="541.52" x2="263.3" y2="541.52" stroke="#000" stroke-width="1"/><line x1="260.3" y1="548.45" x2="263.3" y2="548.45" stroke="#000" stroke-width="1"/><line x1="260.3" y1="555.38" x2="263.3" y2="555.38" stroke="#000" stroke-width="1"/><line x1="260.3" y1="562.31" x2="263.3" y2="562.31" stroke="#000" stroke-width="1"/><line x1="260.3" y1="569.24" x2="263.3" y2="569.24" stroke="#000" stroke-width="1"/><line x1="260.3" y1="576.17" x2="263.3" y2="576.17" stroke="#000" stroke-width="1"/><line x1="271.1" y1="584.3" x2="271.1" y2="587.3" stroke="#000" stroke-width="1"/><line x1="279.76" y1="584.3" x2="279.76" y2="587.3" stroke="#000" stroke-width="1"/><line x1="288.42" y1="584.3" x2="288.42" y2="587.3" stroke="#000" stroke-width="1"/><line x1="297.08" y1="584.3" x2="297.08" y2="587.3" stroke="#000" stroke-width="1"/><line x1="305.74" y1="584.3" x2="305.74" y2="587.3" stroke="#000" stroke-width="1"/><line x1="314.4" y1="584.3" x2="314.4" y2="587.3" stroke="#000" stroke-width="1"/><line x1="323.06" y1="584.3" x2="323.06" y2="587.3" stroke="#000" stroke-width="1"/><line x1="331.72" y1="584.3" x2="331.72" y2="587.3" stroke="#000" stroke-width="1"/><path d="M274.25,524.44C274.47,523.01 275.35,520.74 276.58,519.6C277.8,518.45 279.1,518.04 281.6,517.55C284.09,517.05 288.21,516.68 291.54,516.61C294.87,516.55 299.11,516.68 301.58,517.17C304.04,517.67 305.32,518.6 306.32,519.6C307.31,520.59 307.8,521.96 307.52,523.14C307.24,524.32 306.27,525.64 304.64,526.68C303.02,527.72 300.37,528.6 297.77,529.38C295.16,530.15 292.14,531.12 289.03,531.33C285.92,531.55 281.38,531.21 279.09,530.68C276.79,530.15 276.08,529.21 275.28,528.17C274.47,527.13 274.04,525.87 274.25,524.44Z" fill="#f7f9fd"/><path d="M291.74,534.04C293.93,532.3 300.45,528.27 304.31,526.87C308.18,525.46 311.83,525.6 314.92,525.6C318.01,525.6 320.78,525.78 322.88,526.87C324.97,527.95 326.61,530.15 327.49,532.1C328.38,534.06 328.64,536.28 328.18,538.6C327.72,540.93 326.35,543.94 324.74,546.08C323.14,548.21 320.71,549.79 318.55,551.41C316.39,553.03 314.27,554.95 311.78,555.78C309.29,556.6 306.21,556.6 303.63,556.36C301.04,556.12 297.98,555.71 296.26,554.32C294.54,552.93 294.11,550.2 293.31,548.02C292.51,545.83 291.81,543 291.45,541.22C291.09,539.45 291.1,538.54 291.15,537.34C291.2,536.15 289.55,535.79 291.74,534.04Z" fill="#f8fbfd"/><path d="M288.66,534.36C287.08,534.07 282.75,534.88 280.23,535.44C277.72,535.99 275.33,536.27 273.55,537.69C271.78,539.11 270.42,541.78 269.58,543.95C268.74,546.12 268.42,548.63 268.52,550.7C268.61,552.77 269.15,554.95 270.16,556.37C271.18,557.79 272.57,558.56 274.62,559.21C276.67,559.86 280.49,559.73 282.46,560.28C284.43,560.84 285.59,561.31 286.43,562.53C287.27,563.76 287.05,565.65 287.5,567.62C287.95,569.59 288.21,572.68 289.14,574.37C290.08,576.07 291.44,577.03 293.11,577.79C294.79,578.56 296.89,579.15 299.21,578.97C301.54,578.79 305.01,578.23 307.06,576.72C309.11,575.2 310.77,571.94 311.51,569.87C312.26,567.8 312.06,565.89 311.51,564.3C310.96,562.7 310.08,561.51 308.22,560.28C306.36,559.06 302.43,557.81 300.38,556.96C298.33,556.11 297.23,556.42 295.92,555.2C294.61,553.98 293.47,551.69 292.53,549.62C291.6,547.55 290.77,544.85 290.31,542.77C289.84,540.7 290,538.6 289.72,537.2C289.45,535.8 290.24,534.66 288.66,534.36Z" fill="#fbfcfb"/><defs><g id="d22"><g transform="translate(262.47 510.47) scale(0.3333)"><path d="M120 23h5v5h-5zm-27-6h5v5h-5zm-6 0h5v5h-5zm-10 1h5v5h-5zm-5 1h5v5h-5zm-16 4h5v5h-5zm-15 2h5v5h-5zm2 0h5v5h-5zm1 6h5v5h-5zm9-7h5v5h-5zm6 10h5v5h-5zm0-8h5v5h-5zm1 9h5v5h-5zm9-11h5v5h-5zm0 2h5v5h-5zm4 4h5v5h-5zm1-4h5v5h-5zm2-1h5v5h-5zm22 7h5v5h-5zm3-6h5v5h-5zm0 4h5v5h-5zm1 2h5v5h-5zm3 3h5v5h-5zm1-1h5v5h-5zm4-2h5v5h-5zm4 0h5v5h-5zm4-5h5v5h-5zm11 12h5v5h-5zm-6-2h5v5h-5zm-2 4h5v5h-5zm-10-3h5v5h-5zm-8 7h5v5h-5zm-3-2h5v5h-5zm-1 4h5v5h-5zm0-10h5v5h-5zm-1 6h5v5h-5zm-3 4h5v5h-5zm-6-3h5v5h-5zm-6-7h5v5h-5zm-2-1h5v5h-5zm-1 1h5v5h-5zm-1 7h5v5h-5zm-7 2h5v5h-5zm-1-7h5v5h-5zm-2-1h5v5h-5zm-22 6h5v5h-5zm-8-1h5v5h-5zm-2 0h5v5h-5zm-1-4h5v5h-5zm-2 1h5v5h-5zm5 9h5v5h-5zm7 0h5v5h-5zm7 9h5v5h-5zm21 1h5v5h-5zm7-11h5v5h-5zm3 1h5v5h-5zm2 2h5v5h-5zm9 0h5v5h-5zm5 0h5v5h-5z" fill="#2e6fcd"/><path d="M111 18h5v5h-5zm-48 5h5v5h-5zm-14 7h5v5h-5zm0 4h5v5h-5zm7-2h5v5h-5zm4-2h5v5h-5zm18-6h5v5h-5zm24 8h5v5h-5zm16 14h5v5h-5zm-22 1h5v5h-5zm-10-5h5v5h-5zm-7-4h5v5h-5zm-30 1h5v5h-5zm-1 4h5v5h-5zm-9 9h5v5h-5zm9 5h5v5h-5zm10 2h5v5h-5zm7-10h5v5h-5zm7 6h5v5h-5zm0-7h5v5h-5zm2 11h5v5h-5zm9-5h5v5h-5zm2 4h5v5h-5zm4-8h5v5h-5zm0-1h5v5h-5zm4 1h5v5h-5z" fill="#3b82d5"/><path d="M92 18h5v5h-5z" fill="#193e96"/><path d="M111 23h5v5h-5zm-1 0h5v5h-5zm-7-5h5v5h-5zm-19 4h5v5h-5zm-18 1h5v5h-5zm-7-2h5v5h-5zm-4 1h5v5h-5zm-11 5h5v5h-5zm30 2h5v5h-5zm10 0h5v5h-5zm2 0h5v5h-5zm5 4h5v5h-5zm4-2h5v5h-5zm0-6h5v5h-5zm3 4h5v5h-5zm6-4h5v5h-5zm3 9h5v5h-5zm8 1h5v5h-5zm5-9h5v5h-5zm1 6h5v5h-5zm8 6h5v5h-5zm-3 0h5v5h-5zm-10 2h5v5h-5zm-2 5h5v5h-5zm-1-2h5v5h-5zm-1-2h5v5h-5zm-1 1h5v5h-5zm0-1h5v5h-5zm-1 0h5v5h-5zm-15-4h5v5h-5zm-53 4h5v5h-5zm-3 6h5v5h-5zm-4-4h5v5h-5zm2 5h5v5h-5zm14 8h5v5h-5z" fill="#205cc4"/><path d="M120 21h5v5h-5zm-2 2h5v5h-5zm-17-4h5v5h-5zm-12 3h5v5h-5zm-16 0h5v5h-5zm-1-1h5v5h-5zm17 9h5v5h-5zm14-5h5v5h-5zm4-1h5v5h-5zm4 9h5v5h-5zm6 8h5v5h-5zm-45 7h5v5h-5zm47 0h5v5h-5z" fill="#1c4dad"/><path d="M122 35h5v5h-5zm-23 5h5v5h-5zm-11 2h5v5h-5zm-1 1h5v5h-5zm-35 0h5v5h-5zm-1 9h5v5h-5zm12 6h5v5h-5zm1-6h5v5h-5zm7 2h5v5h-5z" fill="#4c96dd"/></g><g transform="translate(262.47 510.47) scale(0.3333)"><path d="M124 55h5v5h-5zm17-5h5v5h-5zm3 0h5v5h-5zm0 4h5v5h-5zm3 3h5v5h-5zm38 3h5v5h-5zm-2 4h5v5h-5zm-46-3h5v5h-5zm0 7h5v5h-5zm-3 3h5v5h-5zm0-5h5v5h-5zm27 16h5v5h-5zm17-10h5v5h-5zm-20 22h5v5h-5zm-4-3h5v5h-5zm-26 3h5v5h-5zm-9-1h5v5h-5zm-9 0h5v5h-5zm-19 2h5v5h-5zm40 6h5v5h-5zm5 6h5v5h-5zm0-1h5v5h-5zm14-2h5v5h-5zm9 2h5v5h-5zm5-3h5v5h-5zm-28 9h5v5h-5zm-39-4h5v5h-5zm48 16h5v5h-5zm5 2h5v5h-5zm-17 6h5v5h-5z" fill="#6cafe5"/><path d="M159 47h5v5h-5zm2 8h5v5h-5zm5 3h5v5h-5zm6 8h5v5h-5zm-6-4h5v5h-5zm-2 4h5v5h-5zm-1-3h5v5h-5zm-1-3h5v5h-5zm-20 10h5v5h-5zm-54 7h5v5h-5zm1-4h5v5h-5zm23 8h5v5h-5zm20 0h5v5h-5zm3-4h5v5h-5zm5 4h5v5h-5zm2-4h5v5h-5zm2 4h5v5h-5zm5-2h5v5h-5zm2-4h5v5h-5zm5-2h5v5h-5zm-4 17h5v5h-5zm-4-3h5v5h-5zm-5 2h5v5h-5zm-11-4h5v5h-5zm0 7h5v5h-5zm1 7h5v5h-5zm6-3h5v5h-5z" fill="#205cc4"/><path d="M119 54h5v5h-5zm14-4h5v5h-5zm2 0h5v5h-5zm2 2h5v5h-5zm7-3h5v5h-5zm7 2h5v5h-5zm3 5h5v5h-5zm1-1h5v5h-5zm3 2h5v5h-5zm2-2h5v5h-5zm10-2h5v5h-5zm1-4h5v5h-5zm2 5h5v5h-5zm-1 13h5v5h-5zm-9-1h5v5h-5zm-13 1h5v5h-5zm-3-1h5v5h-5zm-1 5h5v5h-5zm-24-2h5v5h-5zm-1 1h5v5h-5zm0-7h5v5h-5zm-4 3h5v5h-5zm-32 16h5v5h-5zm0-8h5v5h-5zm1 0h5v5h-5zm5-2h5v5h-5zm6 7h5v5h-5zm17-1h5v5h-5zm20-4h5v5h-5zm3 4h5v5h-5zm19-3h5v5h-5zm1-1h5v5h-5zm-4 16h5v5h-5zm-8 3h5v5h-5zm-5-5h5v5h-5zm-6 3h5v5h-5zm-3-3h5v5h-5zm-2 1h5v5h-5zm-25-4h5v5h-5zm-1 4h5v5h-5zm-11 5h5v5h-5zm1 5h5v5h-5zm54 14h5v5h-5zm-5-4h5v5h-5z" fill="#2e6fcd"/><path d="M132 56h5v5h-5zm-1 5h5v5h-5zm33 20h5v5h-5zm2-1h5v5h-5zm-46 10h5v5h-5zm-21 13h5v5h-5zm13-6h5v5h-5zm1 1h5v5h-5zm9-2h5v5h-5zm5 3h5v5h-5zm5 6h5v5h-5zm20-2h5v5h-5zm1 3h5v5h-5zm5-6h5v5h-5zm4 2h5v5h-5zm0 10h5v5h-5zm-22-1h5v5h-5zm-23 18h5v5h-5zm4 1h5v5h-5zm3-5h5v5h-5zm13 0h5v5h-5zm4-3h5v5h-5zm4 0h5v5h-5zm1 6h5v5h-5zm4-7h5v5h-5zm11 3h5v5h-5z" fill="#8cc8ec"/><path d="M130 70h5v5h-5zm40 17h5v5h-5zm-45 7h5v5h-5zm-8 1h5v5h-5zm5 4h5v5h-5zm5 8h5v5h-5zm33-9h5v5h-5zm15 6h5v5h-5zm-2 10h5v5h-5zm-8 4h5v5h-5zm0-7h5v5h-5zm-37 6h5v5h-5zm-23-6h5v5h-5zm-9 1h5v5h-5zm7 8h5v5h-5zm18 0h5v5h-5zm11 2h5v5h-5zm15 4h5v5h-5zm-7 7h5v5h-5z" fill="#9fd1c0"/><path d="M156 43h5v5h-5zm-24 7h5v5h-5zm4 5h5v5h-5zm45 3h5v5h-5zm2 10h5v5h-5zm-8 1h5v5h-5zm-5-7h5v5h-5zm-1 9h5v5h-5zm-21-3h5v5h-5zm-5-2h5v5h-5zm-15-6h5v5h-5zm-1 1h5v5h-5zm-2 5h5v5h-5zm-13-2h5v5h-5zm-3 2h5v5h-5zm-6 3h5v5h-5zm-1 1h5v5h-5zm-1 12h5v5h-5zm10-6h5v5h-5zm7 1h5v5h-5zm8-4h5v5h-5zm4 0h5v5h-5zm2 0h5v5h-5zm11 0h5v5h-5zm9 3h5v5h-5zm4 3h5v5h-5zm-12 5h5v5h-5zm-18 5h5v5h-5zm-14 0h5v5h-5zm0-4h5v5h-5zm-5 1h5v5h-5zm-1 2h5v5h-5zm-6-4h5v5h-5zm-1 0h5v5h-5zm-3 8h5v5h-5zm-4-8h5v5h-5zm-1 15h5v5h-5zm4-1h5v5h-5zm46 7h5v5h-5zm10-2h5v5h-5zm3-7h5v5h-5zm-4 18h5v5h-5z" fill="#3b82d5"/><path d="M147 46h5v5h-5zm-40 11h5v5h-5zm18 0h5v5h-5zm8-7h5v5h-5zm1 2h5v5h-5zm7-1h5v5h-5zm24-2h5v5h-5zm20 14h5v5h-5zm-11-1h5v5h-5zm0 0h5v5h-5zm-18 3h5v5h-5zm-7 2h5v5h-5zm-14 1h5v5h-5zm-1 0h5v5h-5zm-2-7h5v5h-5zm0 7h5v5h-5zm-3-6h5v5h-5zm-1 3h5v5h-5zm-8 6h5v5h-5zm-12-11h5v5h-5zm-2 20h5v5h-5zm8-6h5v5h-5zm21 2h5v5h-5zm1 1h5v5h-5zm27 3h5v5h-5zm-9 12h5v5h-5zm-8 3h5v5h-5zm-12 0h5v5h-5zm-4 0h5v5h-5zm-15-9h5v5h-5zm-22 5h5v5h-5zm1 5h5v5h-5zm40 4h5v5h-5zm4 4h5v5h-5zm14-4h5v5h-5zm1 16h5v5h-5zm-6-2h5v5h-5zm-2 2h5v5h-5zm-8-3h5v5h-5zm11 15h5v5h-5zm5-2h5v5h-5z" fill="#4c96dd"/><path d="M179 93h5v5h-5zm-6 0h5v5h-5z" fill="#f9c72e"/><path d="M194 81h5v5h-5zm-77 19h5v5h-5zm10 4h5v5h-5zm1 2h5v5h-5zm39 7h5v5h-5zm-1 0h5v5h-5zm-1 6h5v5h-5zm-45 0h5v5h-5zm-1-11h5v5h-5zm-1 7h5v5h-5zm-7 2h5v5h-5zm-1-7h5v5h-5zm-1 6h5v5h-5zm14 5h5v5h-5zm19 8h5v5h-5zm3 0h5v5h-5z" fill="#b2da94"/><path d="M193 71h5v5h-5zm-20 24h5v5h-5z" fill="#e1de52"/><path d="M189 76h5v5h-5zm4-4h5v5h-5zm-71 30h5v5h-5zm49-6h5v5h-5zm3 10h5v5h-5zm3-6h5v5h-5zm5-1h5v5h-5zm-38 32h5v5h-5z" fill="#c8de70"/><path d="M161 62h5v5h-5z" fill="#1c4dad"/><path d="M160 51h5v5h-5zm-69 20h5v5h-5z" fill="#193e96"/><path d="M180 90h5v5h-5z" fill="#fade34"/></g><g transform="translate(262.47 510.47) scale(0.3333)"><path d="M80 113h5v5h-5zm-21 23h5v5h-5z" fill="#e63c1b"/><path d="M46 95h5v5h-5zm-1-6h5v5h-5zm10 15h5v5h-5zm-36 14h5v5h-5zm97 45h5v5h-5zm-32 9h5v5h-5zm14 5h5v5h-5zm11 0h5v5h-5zm22 0h5v5h-5zm4 12h5v5h-5zm-48-8h5v5h-5z" fill="#4c96dd"/><path d="M71 103h5v5h-5zm-32 28h5v5h-5zm25 7h5v5h-5zm14 19h5v5h-5z" fill="#fade34"/><path d="M63 141h5v5h-5zm-8 1h5v5h-5zm-18-1h5v5h-5z" fill="#f7b029"/><path d="M28 118h5v5h-5z" fill="#1c4dad"/><path d="M70 106h5v5h-5zm-11 11h5v5h-5zm-31 10h5v5h-5zm37-2h5v5h-5zm8 3h5v5h-5zm25 13h5v5h-5zm-23-2h5v5h-5zm-50-1h5v5h-5zm45 6h5v5h-5zm2 0h5v5h-5zm8 3h5v5h-5zm63 10h5v5h-5z" fill="#e1de52"/><path d="M43 91h5v5h-5zm63 79h5v5h-5zm-3 17h5v5h-5z" fill="#193e96"/><path d="M46 126h5v5h-5zm44 10h5v5h-5zm-20 4h5v5h-5z" fill="#f27f1f"/><path d="M43 102h5v5h-5zm2 0h5v5h-5zm73 53h5v5h-5zm-12 9h5v5h-5zm24 15h5v5h-5zm-48 8h5v5h-5z" fill="#3b82d5"/><path d="M58 83h5v5h-5zm-16 15h5v5h-5zm8 6h5v5h-5zm-11 6h5v5h-5zm49 60h5v5h-5zm20 6h5v5h-5zm-25 11h5v5h-5z" fill="#2e6fcd"/><path d="M116 142h5v5h-5zm14 5h5v5h-5zm15 14h5v5h-5zm-65 0h5v5h-5zm45 11h5v5h-5zm-5 25h5v5h-5z" fill="#b2da94"/><path d="M48 80h5v5h-5zm-2 4h5v5h-5zm4 25h5v5h-5zm45 51h5v5h-5zm-19 1h5v5h-5z" fill="#8cc8ec"/><path d="M41 91h5v5h-5zm12 13h5v5h-5zm62 52h5v5h-5zm-34 6h5v5h-5zm4 25h5v5h-5zm0 7h5v5h-5zm6 3h5v5h-5zm25-2h5v5h-5z" fill="#6cafe5"/><path d="M67 75h5v5h-5zm28 52h5v5h-5zm8 10h5v5h-5zm9 14h5v5h-5zm32 9h5v5h-5zm-35-3h5v5h-5zm25 33h5v5h-5zm-3-4h5v5h-5zm-5 0h5v5h-5zm-15 15h5v5h-5z" fill="#9fd1c0"/><path d="M72 120h5v5h-5zm11 7h5v5h-5zm-41 15h5v5h-5z" fill="#f9c72e"/><path d="M32 98h5v5h-5zm46 89h5v5h-5z" fill="#205cc4"/><path d="M117 140h5v5h-5zm-33 1h5v5h-5zm11 13h5v5h-5z" fill="#c8de70"/><path d="M50 145h5v5h-5z" fill="#ec5d1d"/><path d="M67 151h5v5h-5z" fill="#f69a23"/></g></g></defs><use href="#d22" filter="url(#hb)" opacity="0.45"/><use href="#d22"/><path d="M274.25,524.44C274.47,523.01 275.35,520.74 276.58,519.6C277.8,518.45 279.1,518.04 281.6,517.55C284.09,517.05 288.21,516.68 291.54,516.61C294.87,516.55 299.11,516.68 301.58,517.17C304.04,517.67 305.32,518.6 306.32,519.6C307.31,520.59 307.8,521.96 307.52,523.14C307.24,524.32 306.27,525.64 304.64,526.68C303.02,527.72 300.37,528.6 297.77,529.38C295.16,530.15 292.14,531.12 289.03,531.33C285.92,531.55 281.38,531.21 279.09,530.68C276.79,530.15 276.08,529.21 275.28,528.17C274.47,527.13 274.04,525.87 274.25,524.44Z" fill="none" stroke="#000" stroke-width="2.0" stroke-linejoin="round"/><path d="M291.74,534.04C293.93,532.3 300.45,528.27 304.31,526.87C308.18,525.46 311.83,525.6 314.92,525.6C318.01,525.6 320.78,525.78 322.88,526.87C324.97,527.95 326.61,530.15 327.49,532.1C328.38,534.06 328.64,536.28 328.18,538.6C327.72,540.93 326.35,543.94 324.74,546.08C323.14,548.21 320.71,549.79 318.55,551.41C316.39,553.03 314.27,554.95 311.78,555.78C309.29,556.6 306.21,556.6 303.63,556.36C301.04,556.12 297.98,555.71 296.26,554.32C294.54,552.93 294.11,550.2 293.31,548.02C292.51,545.83 291.81,543 291.45,541.22C291.09,539.45 291.1,538.54 291.15,537.34C291.2,536.15 289.55,535.79 291.74,534.04Z" fill="none" stroke="#000" stroke-width="2.0" stroke-linejoin="round"/><path d="M288.66,534.36C287.08,534.07 282.75,534.88 280.23,535.44C277.72,535.99 275.33,536.27 273.55,537.69C271.78,539.11 270.42,541.78 269.58,543.95C268.74,546.12 268.42,548.63 268.52,550.7C268.61,552.77 269.15,554.95 270.16,556.37C271.18,557.79 272.57,558.56 274.62,559.21C276.67,559.86 280.49,559.73 282.46,560.28C284.43,560.84 285.59,561.31 286.43,562.53C287.27,563.76 287.05,565.65 287.5,567.62C287.95,569.59 288.21,572.68 289.14,574.37C290.08,576.07 291.44,577.03 293.11,577.79C294.79,578.56 296.89,579.15 299.21,578.97C301.54,578.79 305.01,578.23 307.06,576.72C309.11,575.2 310.77,571.94 311.51,569.87C312.26,567.8 312.06,565.89 311.51,564.3C310.96,562.7 310.08,561.51 308.22,560.28C306.36,559.06 302.43,557.81 300.38,556.96C298.33,556.11 297.23,556.42 295.92,555.2C294.61,553.98 293.47,551.69 292.53,549.62C291.6,547.55 290.77,544.85 290.31,542.77C289.84,540.7 290,538.6 289.72,537.2C289.45,535.8 290.24,534.66 288.66,534.36Z" fill="none" stroke="#000" stroke-width="2.0" stroke-linejoin="round"/><rect x="350.5" y="511.6" width="69.8" height="74.2" fill="#fff" stroke="#000" stroke-width="1.5"/><line x1="347.5" y1="514.1" x2="350.5" y2="514.1" stroke="#000" stroke-width="1"/><line x1="347.5" y1="521.03" x2="350.5" y2="521.03" stroke="#000" stroke-width="1"/><line x1="347.5" y1="527.96" x2="350.5" y2="527.96" stroke="#000" stroke-width="1"/><line x1="347.5" y1="534.89" x2="350.5" y2="534.89" stroke="#000" stroke-width="1"/><line x1="347.5" y1="541.82" x2="350.5" y2="541.82" stroke="#000" stroke-width="1"/><line x1="347.5" y1="548.75" x2="350.5" y2="548.75" stroke="#000" stroke-width="1"/><line x1="347.5" y1="555.68" x2="350.5" y2="555.68" stroke="#000" stroke-width="1"/><line x1="347.5" y1="562.61" x2="350.5" y2="562.61" stroke="#000" stroke-width="1"/><line x1="347.5" y1="569.54" x2="350.5" y2="569.54" stroke="#000" stroke-width="1"/><line x1="347.5" y1="576.47" x2="350.5" y2="576.47" stroke="#000" stroke-width="1"/><line x1="358.3" y1="585.8" x2="358.3" y2="588.8" stroke="#000" stroke-width="1"/><line x1="366.96" y1="585.8" x2="366.96" y2="588.8" stroke="#000" stroke-width="1"/><line x1="375.62" y1="585.8" x2="375.62" y2="588.8" stroke="#000" stroke-width="1"/><line x1="384.28" y1="585.8" x2="384.28" y2="588.8" stroke="#000" stroke-width="1"/><line x1="392.94" y1="585.8" x2="392.94" y2="588.8" stroke="#000" stroke-width="1"/><line x1="401.6" y1="585.8" x2="401.6" y2="588.8" stroke="#000" stroke-width="1"/><line x1="410.26" y1="585.8" x2="410.26" y2="588.8" stroke="#000" stroke-width="1"/><line x1="418.92" y1="585.8" x2="418.92" y2="588.8" stroke="#000" stroke-width="1"/><path d="M360.76,523.75C360.98,522.45 361.89,520.38 363.16,519.33C364.42,518.28 365.76,517.92 368.34,517.46C370.92,517.01 375.17,516.67 378.61,516.61C382.05,516.56 386.43,516.67 388.98,517.12C391.52,517.58 392.85,518.43 393.87,519.33C394.9,520.24 395.41,521.49 395.12,522.56C394.83,523.64 393.83,524.84 392.15,525.79C390.47,526.74 387.73,527.55 385.04,528.26C382.35,528.96 379.23,529.84 376.02,530.04C372.8,530.24 368.12,529.93 365.75,529.44C363.38,528.96 362.64,528.1 361.81,527.15C360.98,526.2 360.53,525.05 360.76,523.75Z" fill="#f7f9fd"/><path d="M378.25,533.24C380.47,531.5 387.05,527.47 390.96,526.07C394.86,524.66 398.55,524.8 401.68,524.8C404.8,524.8 407.6,524.98 409.72,526.07C411.83,527.15 413.49,529.35 414.38,531.3C415.28,533.26 415.54,535.48 415.08,537.8C414.61,540.13 413.22,543.14 411.6,545.28C409.98,547.41 407.53,548.99 405.35,550.61C403.17,552.23 401.02,554.15 398.5,554.98C395.99,555.8 392.88,555.8 390.26,555.56C387.65,555.32 384.56,554.91 382.82,553.52C381.08,552.13 380.65,549.4 379.84,547.22C379.03,545.03 378.32,542.2 377.96,540.42C377.59,538.65 377.61,537.74 377.66,536.54C377.71,535.35 376.04,534.99 378.25,533.24Z" fill="#fbfbfa"/><path d="M376.14,533.96C374.53,533.67 370.15,534.48 367.6,535.04C365.04,535.59 362.62,535.86 360.82,537.28C359.02,538.7 357.65,541.36 356.8,543.53C355.95,545.69 355.62,548.2 355.72,550.26C355.81,552.33 356.35,554.51 357.39,555.92C358.42,557.34 359.82,558.1 361.9,558.75C363.98,559.4 367.86,559.27 369.85,559.83C371.85,560.38 373.03,560.85 373.88,562.07C374.73,563.29 374.5,565.18 374.96,567.15C375.42,569.12 375.68,572.19 376.63,573.88C377.58,575.57 378.95,576.53 380.65,577.3C382.36,578.06 384.48,578.65 386.84,578.47C389.19,578.29 392.71,577.74 394.79,576.22C396.87,574.71 398.55,571.46 399.31,569.39C400.06,567.33 399.86,565.42 399.31,563.83C398.75,562.23 397.85,561.05 395.97,559.83C394.09,558.61 390.09,557.35 388.02,556.51C385.94,555.66 384.83,555.97 383.5,554.75C382.18,553.53 381.01,551.25 380.06,549.19C379.12,547.12 378.28,544.42 377.81,542.36C377.33,540.29 377.5,538.19 377.22,536.79C376.94,535.39 377.74,534.25 376.14,533.96Z" fill="#fafcfc"/><defs><g id="d23"><g transform="translate(349.67 510.77) scale(0.3333)"><path d="M124 21h5v5h-5zm-10-2h5v5h-5zm-24-2h5v5h-5zm-26 3h5v5h-5zm-7-1h5v5h-5zm-10 4h5v5h-5zm-3-1h5v5h-5zm-8 13h5v5h-5zm1-2h5v5h-5zm1-6h5v5h-5zm4 2h5v5h-5zm3 4h5v5h-5zm1-6h5v5h-5zm1 4h5v5h-5zm25 0h5v5h-5zm3 4h5v5h-5zm0-11h5v5h-5zm1 0h5v5h-5zm4 4h5v5h-5zm0-2h5v5h-5zm10 5h5v5h-5zm8-7h5v5h-5zm1 9h5v5h-5zm18-3h5v5h-5zm1 0h5v5h-5zm7-1h5v5h-5zm1 3h5v5h-5zm0 8h5v5h-5zm-8 0h5v5h-5zm-20 2h5v5h-5zm-53-1h5v5h-5zm0 3h5v5h-5zm0-5h5v5h-5zm-4-3h5v5h-5zm-4 4h5v5h-5zm-5-3h5v5h-5zm10 11h5v5h-5zm18 2h5v5h-5z" fill="#205cc4"/><path d="M107 22h5v5h-5zm-5-3h5v5h-5zm-11 2h5v5h-5zm-43-1h5v5h-5zm1 10h5v5h-5zm1-3h5v5h-5zm3 6h5v5h-5zm2-2h5v5h-5zm3 3h5v5h-5zm6-10h5v5h-5zm9 3h5v5h-5zm2 0h5v5h-5zm11-3h5v5h-5zm7 10h5v5h-5zm5-2h5v5h-5zm4-3h5v5h-5zm9 5h5v5h-5zm0-2h5v5h-5zm1-4h5v5h-5zm0 6h5v5h-5zm-5 12h5v5h-5zm-11-5h5v5h-5zm-3 0h5v5h-5zm-8 5h5v5h-5zm-1-10h5v5h-5zm-6 4h5v5h-5zm-1-1h5v5h-5zm0 1h5v5h-5zm-12 6h5v5h-5zm-8-4h5v5h-5zm-5-3h5v5h-5zm-1 4h5v5h-5zm-7 5h5v5h-5zm7 3h5v5h-5zm5-3h5v5h-5zm11 0h5v5h-5zm2 5h5v5h-5zm0 2h5v5h-5zm10-5h5v5h-5zm17 0h5v5h-5z" fill="#3b82d5"/><path d="M91 17h5v5h-5zm-10 1h5v5h-5zm-8 4h5v5h-5zm-20 1h5v5h-5zm-2-4h5v5h-5zm-19 15h5v5h-5zm11-3h5v5h-5zm1-3h5v5h-5zm2 7h5v5h-5zm1-4h5v5h-5zm24-2h5v5h-5zm1-3h5v5h-5zm3 9h5v5h-5zm10-7h5v5h-5zm0 3h5v5h-5zm0-2h5v5h-5zm1-4h5v5h-5zm2 0h5v5h-5zm1 10h5v5h-5zm5-11h5v5h-5zm6 3h5v5h-5zm1 6h5v5h-5zm4-1h5v5h-5zm3-6h5v5h-5zm16 15h5v5h-5zm-2-2h5v5h-5zm-22-3h5v5h-5zm-1 8h5v5h-5zm-3-2h5v5h-5zm-24-4h5v5h-5zm-7 0h5v5h-5zm-10 2h5v5h-5zm-1 7h5v5h-5zm-1-4h5v5h-5zm-1 2h5v5h-5zm-4-8h5v5h-5zm0 4h5v5h-5zm0 3h5v5h-5zm-1-3h5v5h-5zm-1 1h5v5h-5zm-5 1h5v5h-5zm-8-3h5v5h-5zm19 9h5v5h-5zm1 2h5v5h-5zm4-2h5v5h-5z" fill="#2e6fcd"/><path d="M126 22h5v5h-5zm-8 12h5v5h-5zm8 1h5v5h-5zm5-2h5v5h-5z" fill="#193e96"/><path d="M93 42h5v5h-5zm-2 5h5v5h-5zm-7-8h5v5h-5zm-10 8h5v5h-5zm-12-9h5v5h-5zm9 16h5v5h-5z" fill="#6cafe5"/><path d="M89 25h5v5h-5zm0 1h5v5h-5zm3 16h5v5h-5zm0-3h5v5h-5zm-13 0h5v5h-5zm-3 8h5v5h-5zm-5-3h5v5h-5zm-5 0h5v5h-5zm-6-4h5v5h-5zm-6 0h5v5h-5zm13 15h5v5h-5zm3-6h5v5h-5zm12 1h5v5h-5z" fill="#4c96dd"/><path d="M66 17h5v5h-5zm-30 16h5v5h-5zm1-4h5v5h-5zm42-2h5v5h-5zm3 5h5v5h-5zm11-4h5v5h-5zm28 2h5v5h-5zm1 5h5v5h-5zm1-6h5v5h-5zm0 5h5v5h-5z" fill="#1c4dad"/></g><g transform="translate(349.67 510.77) scale(0.3333)"><path d="M122 94h5v5h-5zm-11 1h5v5h-5zm-10-3h5v5h-5zm-5 10h5v5h-5zm15-3h5v5h-5zm3 4h5v5h-5zm1 0h5v5h-5zm11 2h5v5h-5zm4-4h5v5h-5zm41 1h5v5h-5zm-12 14h5v5h-5zm-18-5h5v5h-5zm-15-3h5v5h-5zm-28 2h5v5h-5z" fill="#f9c72e"/><path d="M160 105h5v5h-5zm-14 14h5v5h-5zm-13 5h5v5h-5zm4-2h5v5h-5zm1 7h5v5h-5zm1-7h5v5h-5zm1 1h5v5h-5zm16-2h5v5h-5z" fill="#e63c1b"/><path d="M169 44h5v5h-5zm-28-1h5v5h-5zm-17 16h5v5h-5zm1-10h5v5h-5zm31 7h5v5h-5zm1-6h5v5h-5zm0 6h5v5h-5zm10-2h5v5h-5zm1 2h5v5h-5zm1-2h5v5h-5zm1-3h5v5h-5zm21 10h5v5h-5zm-2 4h5v5h-5zm-6 2h5v5h-5zm-19 4h5v5h-5zm-8 0h5v5h-5zm-14-3h5v5h-5zm-5 7h5v5h-5zm37 2h5v5h-5zm11 2h5v5h-5zm3-6h5v5h-5zm-17 15h5v5h-5z" fill="#2e6fcd"/><path d="M167 44h5v5h-5zm-12-3h5v5h-5zm-42 9h5v5h-5zm1-1h5v5h-5zm4-1h5v5h-5zm57 6h5v5h-5zm5 1h5v5h-5zm4 2h5v5h-5zm-25 10h5v5h-5zm-27-5h5v5h-5zm-7 7h5v5h-5zm-6 7h5v5h-5zm20-4h5v5h-5zm1 3h5v5h-5zm1 3h5v5h-5zm1 0h5v5h-5zm12-3h5v5h-5zm35 12h5v5h-5zm-33 2h5v5h-5z" fill="#4c96dd"/><path d="M95 70h5v5h-5zm-2 1h5v5h-5zm0-4h5v5h-5zm1 11h5v5h-5zm1 1h5v5h-5zm11-2h5v5h-5zm1 6h5v5h-5zm5-11h5v5h-5zm8 8h5v5h-5zm31 0h5v5h-5zm-14 10h5v5h-5zm-9-4h5v5h-5zm-16 4h5v5h-5zm-2-3h5v5h-5zm-15 2h5v5h-5zm-6 2h5v5h-5zm-2-6h5v5h-5zm-1 9h5v5h-5zm8 2h5v5h-5zm32 4h5v5h-5zm11-4h5v5h-5zm21 6h5v5h-5zm1-2h5v5h-5zm21 3h5v5h-5z" fill="#c8de70"/><path d="M104 58h5v5h-5zm2-6h5v5h-5zm19 16h5v5h-5zm-22-6h5v5h-5zm-10 3h5v5h-5zm-8 2h5v5h-5zm0 3h5v5h-5zm3 3h5v5h-5zm14-1h5v5h-5zm16 1h5v5h-5zm3 0h5v5h-5zm28 20h5v5h-5zm-11 0h5v5h-5zm-14-8h5v5h-5zm-3 6h5v5h-5zm-34 5h5v5h-5zm3 1h5v5h-5zm46 8h5v5h-5zm5-5h5v5h-5zm32 1h5v5h-5zm1 1h5v5h-5zm7-2h5v5h-5z" fill="#b2da94"/><path d="M163 111h5v5h-5zm-44 17h5v5h-5zm4-2h5v5h-5zm6 3h5v5h-5zm5 1h5v5h-5zm3 0h5v5h-5zm4-3h5v5h-5z" fill="#c81816"/><path d="M116 56h5v5h-5zm54-5h5v5h-5zm13 13h5v5h-5zm-2 2h5v5h-5zm-7-2h5v5h-5zm-15 6h5v5h-5zm-34-1h5v5h-5zm-2 4h5v5h-5zm6 0h5v5h-5zm27-1h5v5h-5zm32 18h5v5h-5zm-27 2h5v5h-5zm-1-4h5v5h-5zm0 6h5v5h-5zm-4-2h5v5h-5zm-10-5h5v5h-5zm-2 13h5v5h-5z" fill="#6cafe5"/><path d="M140 55h5v5h-5zm33-1h5v5h-5zm10 6h5v5h-5zm-72 3h5v5h-5zm-15-2h5v5h-5zm-4 19h5v5h-5zm31-1h5v5h-5zm14 4h5v5h-5zm30 12h5v5h-5zm-16-11h5v5h-5zm-20 0h5v5h-5zm-38 1h5v5h-5zm-8-1h5v5h-5zm89 14h5v5h-5zm7 4h5v5h-5zm2-3h5v5h-5z" fill="#9fd1c0"/><path d="M169 47h5v5h-5zm-59 7h5v5h-5zm1-3h5v5h-5zm3-3h5v5h-5zm23 5h5v5h-5zm1 7h5v5h-5zm-21 7h5v5h-5zm-3-4h5v5h-5zm-8-2h5v5h-5zm-7 4h5v5h-5zm12 9h5v5h-5zm8 6h5v5h-5zm7-4h5v5h-5zm10 2h5v5h-5zm2-6h5v5h-5zm12 9h5v5h-5zm37 11h5v5h-5zm-41 3h5v5h-5zm3 6h5v5h-5z" fill="#8cc8ec"/><path d="M160 46h5v5h-5zm-18-1h5v5h-5zm-23 9h5v5h-5zm21 4h5v5h-5zm20 1h5v5h-5zm2-5h5v5h-5zm22 4h5v5h-5zm-2 7h5v5h-5zm-8-3h5v5h-5zm-5 0h5v5h-5zm-6 9h5v5h-5zm-1-1h5v5h-5zm-14-1h5v5h-5zm-25 2h5v5h-5zm40 7h5v5h-5zm28-2h5v5h-5zm-14 9h5v5h-5zm-5 0h5v5h-5zm-12 12h5v5h-5z" fill="#3b82d5"/><path d="M92 68h5v5h-5zm38 25h5v5h-5zm-25-8h5v5h-5zm-8 4h5v5h-5zm-8 5h5v5h-5zm-1 7h5v5h-5zm8 3h5v5h-5zm2 2h5v5h-5zm23-3h5v5h-5zm14 0h5v5h-5zm2 4h5v5h-5zm29-6h5v5h-5zm-40 9h5v5h-5z" fill="#fade34"/><path d="M153 47h5v5h-5zm-4-4h5v5h-5zm-8 3h5v5h-5zm-2-1h5v5h-5zm-12 11h5v5h-5zm7-2h5v5h-5zm29 4h5v5h-5zm3-4h5v5h-5zm-3 16h5v5h-5zm-11-10h5v5h-5zm-5 7h5v5h-5zm22 10h5v5h-5zm11-4h5v5h-5zm6 3h5v5h-5zm-10 9h5v5h-5zm-6 2h5v5h-5z" fill="#205cc4"/><path d="M95 101h5v5h-5zm35 5h5v5h-5zm34-3h5v5h-5zm-18 10h5v5h-5zm-9 4h5v5h-5zm-4-4h5v5h-5zm-28-2h5v5h-5zm-1 2h5v5h-5zm3 13h5v5h-5zm10 4h5v5h-5z" fill="#f69a23"/><path d="M87 64h5v5h-5zm3 8h5v5h-5zm9 6h5v5h-5zm29 16h5v5h-5zm-16-3h5v5h-5zm-17-1h5v5h-5zm-3 7h5v5h-5zm3 10h5v5h-5zm3-8h5v5h-5zm2-3h5v5h-5zm0 5h5v5h-5zm5 0h5v5h-5zm22 4h5v5h-5zm2-9h5v5h-5zm32 4h5v5h-5zm-23 8h5v5h-5zm-13 2h5v5h-5z" fill="#e1de52"/><path d="M153 43h5v5h-5zm-7-1h5v5h-5zm28 22h5v5h-5zm-4 19h5v5h-5zm8-3h5v5h-5zm12-5h5v5h-5zm0 0h5v5h-5zm1 2h5v5h-5z" fill="#1c4dad"/><path d="M91 107h5v5h-5zm19-8h5v5h-5zm17-1h5v5h-5zm24 15h5v5h-5zm-29 0h5v5h-5zm-7 1h5v5h-5zm-18-4h5v5h-5zm-3-2h5v5h-5zm29 17h5v5h-5z" fill="#f7b029"/><path d="M164 115h5v5h-5zm-17 1h5v5h-5zm-12-4h5v5h-5zm-10 4h5v5h-5zm-18 7h5v5h-5zm33 2h5v5h-5zm16-3h5v5h-5z" fill="#f27f1f"/><path d="M154 117h5v5h-5zm-49 0h5v5h-5zm-3 5h5v5h-5zm15 4h5v5h-5zm4-1h5v5h-5zm20 0h5v5h-5z" fill="#ec5d1d"/><path d="M140 113h5v5h-5zm-22 14h5v5h-5zm14-5h5v5h-5zm6 5h5v5h-5z" fill="#db2319"/><path d="M157 45h5v5h-5zm-11-3h5v5h-5z" fill="#193e96"/></g><g transform="translate(349.67 510.77) scale(0.3333)"><path d="M34 76h5v5h-5zm-11 25h5v5h-5zm37 12h5v5h-5zm-26 20h5v5h-5zm38 22h5v5h-5zm33 11h5v5h-5zm-8 21h5v5h-5z" fill="#b2da94"/><path d="M37 105h5v5h-5zm7 6h5v5h-5zm-24 6h5v5h-5zm3 10h5v5h-5zm44 0h5v5h-5zm60 14h5v5h-5zm-9-3h5v5h-5zm-66-6h5v5h-5zm15 15h5v5h-5zm73 6h5v5h-5zm-57 3h5v5h-5zm3 14h5v5h-5z" fill="#9fd1c0"/><path d="M82 100h5v5h-5z" fill="#193e96"/><path d="M65 78h5v5h-5zm6 21h5v5h-5zm10-3h5v5h-5zm6 13h5v5h-5zm-41 2h5v5h-5zm50 37h5v5h-5zm-20 8h5v5h-5z" fill="#4c96dd"/><path d="M130 177h5v5h-5z" fill="#e63c1b"/><path d="M63 94h5v5h-5zm-13-6h5v5h-5zm17 19h5v5h-5zm20 12h5v5h-5zm-48-7h5v5h-5zm-12-2h5v5h-5zm64 31h5v5h-5zm-6 31h5v5h-5zm21 0h5v5h-5z" fill="#6cafe5"/><path d="M46 72h5v5h-5zm-16 25h5v5h-5zm53 1h5v5h-5zm-11 14h5v5h-5zm-49 1h5v5h-5zm13 13h5v5h-5zm37 34h5v5h-5z" fill="#3b82d5"/><path d="M142 166h5v5h-5z" fill="#fade34"/><path d="M64 115h5v5h-5zm75 33h5v5h-5zm-63 25h5v5h-5zm44 18h5v5h-5zm-4 2h5v5h-5z" fill="#e1de52"/><path d="M74 80h5v5h-5zm-28 27h5v5h-5zm2-10h5v5h-5zm10 7h5v5h-5zm-21 12h5v5h-5z" fill="#2e6fcd"/><path d="M113 177h5v5h-5zm0-4h5v5h-5zm27 2h5v5h-5zm-31 10h5v5h-5z" fill="#f7b029"/><path d="M121 181h5v5h-5z" fill="#c81816"/><path d="M78 90h5v5h-5zm-12 4h5v5h-5zm-11 0h5v5h-5zm33 20h5v5h-5zm-18 1h5v5h-5zm-27 14h5v5h-5zm39 41h5v5h-5zm8 16h5v5h-5z" fill="#8cc8ec"/><path d="M80 100h5v5h-5zm6 36h5v5h-5zm-5 14h5v5h-5z" fill="#205cc4"/><path d="M142 160h5v5h-5zm-11 15h5v5h-5zm-45 9h5v5h-5z" fill="#f9c72e"/><path d="M77 174h5v5h-5zm22 4h5v5h-5z" fill="#c8de70"/><path d="M115 176h5v5h-5z" fill="#ec5d1d"/><path d="M133 192h5v5h-5z" fill="#f27f1f"/><path d="M37 86h5v5h-5z" fill="#1c4dad"/></g></g></defs><use href="#d23" filter="url(#hb)" opacity="0.45"/><use href="#d23"/><path d="M360.76,523.75C360.98,522.45 361.89,520.38 363.16,519.33C364.42,518.28 365.76,517.92 368.34,517.46C370.92,517.01 375.17,516.67 378.61,516.61C382.05,516.56 386.43,516.67 388.98,517.12C391.52,517.58 392.85,518.43 393.87,519.33C394.9,520.24 395.41,521.49 395.12,522.56C394.83,523.64 393.83,524.84 392.15,525.79C390.47,526.74 387.73,527.55 385.04,528.26C382.35,528.96 379.23,529.84 376.02,530.04C372.8,530.24 368.12,529.93 365.75,529.44C363.38,528.96 362.64,528.1 361.81,527.15C360.98,526.2 360.53,525.05 360.76,523.75Z" fill="none" stroke="#000" stroke-width="2.0" stroke-linejoin="round"/><path d="M378.25,533.24C380.47,531.5 387.05,527.47 390.96,526.07C394.86,524.66 398.55,524.8 401.68,524.8C404.8,524.8 407.6,524.98 409.72,526.07C411.83,527.15 413.49,529.35 414.38,531.3C415.28,533.26 415.54,535.48 415.08,537.8C414.61,540.13 413.22,543.14 411.6,545.28C409.98,547.41 407.53,548.99 405.35,550.61C403.17,552.23 401.02,554.15 398.5,554.98C395.99,555.8 392.88,555.8 390.26,555.56C387.65,555.32 384.56,554.91 382.82,553.52C381.08,552.13 380.65,549.4 379.84,547.22C379.03,545.03 378.32,542.2 377.96,540.42C377.59,538.65 377.61,537.74 377.66,536.54C377.71,535.35 376.04,534.99 378.25,533.24Z" fill="none" stroke="#000" stroke-width="2.0" stroke-linejoin="round"/><path d="M376.14,533.96C374.53,533.67 370.15,534.48 367.6,535.04C365.04,535.59 362.62,535.86 360.82,537.28C359.02,538.7 357.65,541.36 356.8,543.53C355.95,545.69 355.62,548.2 355.72,550.26C355.81,552.33 356.35,554.51 357.39,555.92C358.42,557.34 359.82,558.1 361.9,558.75C363.98,559.4 367.86,559.27 369.85,559.83C371.85,560.38 373.03,560.85 373.88,562.07C374.73,563.29 374.5,565.18 374.96,567.15C375.42,569.12 375.68,572.19 376.63,573.88C377.58,575.57 378.95,576.53 380.65,577.3C382.36,578.06 384.48,578.65 386.84,578.47C389.19,578.29 392.71,577.74 394.79,576.22C396.87,574.71 398.55,571.46 399.31,569.39C400.06,567.33 399.86,565.42 399.31,563.83C398.75,562.23 397.85,561.05 395.97,559.83C394.09,558.61 390.09,557.35 388.02,556.51C385.94,555.66 384.83,555.97 383.5,554.75C382.18,553.53 381.01,551.25 380.06,549.19C379.12,547.12 378.28,544.42 377.81,542.36C377.33,540.29 377.5,538.19 377.22,536.79C376.94,535.39 377.74,534.25 376.14,533.96Z" fill="none" stroke="#000" stroke-width="2.0" stroke-linejoin="round"/><rect x="97.8" y="592.3" width="71.8" height="72.3" fill="#fff" stroke="#000" stroke-width="1.5"/><line x1="94.8" y1="594.8" x2="97.8" y2="594.8" stroke="#000" stroke-width="1"/><line x1="94.8" y1="601.73" x2="97.8" y2="601.73" stroke="#000" stroke-width="1"/><line x1="94.8" y1="608.66" x2="97.8" y2="608.66" stroke="#000" stroke-width="1"/><line x1="94.8" y1="615.59" x2="97.8" y2="615.59" stroke="#000" stroke-width="1"/><line x1="94.8" y1="622.52" x2="97.8" y2="622.52" stroke="#000" stroke-width="1"/><line x1="94.8" y1="629.45" x2="97.8" y2="629.45" stroke="#000" stroke-width="1"/><line x1="94.8" y1="636.38" x2="97.8" y2="636.38" stroke="#000" stroke-width="1"/><line x1="94.8" y1="643.31" x2="97.8" y2="643.31" stroke="#000" stroke-width="1"/><line x1="94.8" y1="650.24" x2="97.8" y2="650.24" stroke="#000" stroke-width="1"/><line x1="94.8" y1="657.17" x2="97.8" y2="657.17" stroke="#000" stroke-width="1"/><line x1="105.6" y1="664.6" x2="105.6" y2="667.6" stroke="#000" stroke-width="1"/><line x1="114.26" y1="664.6" x2="114.26" y2="667.6" stroke="#000" stroke-width="1"/><line x1="122.92" y1="664.6" x2="122.92" y2="667.6" stroke="#000" stroke-width="1"/><line x1="131.58" y1="664.6" x2="131.58" y2="667.6" stroke="#000" stroke-width="1"/><line x1="140.24" y1="664.6" x2="140.24" y2="667.6" stroke="#000" stroke-width="1"/><line x1="148.9" y1="664.6" x2="148.9" y2="667.6" stroke="#000" stroke-width="1"/><line x1="157.56" y1="664.6" x2="157.56" y2="667.6" stroke="#000" stroke-width="1"/><line x1="166.22" y1="664.6" x2="166.22" y2="667.6" stroke="#000" stroke-width="1"/><path d="M109.26,605.73C109.48,604.34 110.4,602.13 111.68,601.01C112.95,599.9 114.31,599.5 116.91,599.02C119.5,598.54 123.8,598.17 127.27,598.11C130.74,598.05 135.16,598.17 137.72,598.66C140.29,599.14 141.63,600.05 142.66,601.01C143.69,601.98 144.21,603.31 143.92,604.46C143.63,605.61 142.61,606.89 140.92,607.9C139.22,608.92 136.46,609.78 133.75,610.53C131.04,611.29 127.9,612.22 124.65,612.44C121.41,612.65 116.68,612.31 114.29,611.8C111.9,611.29 111.16,610.37 110.32,609.35C109.48,608.34 109.03,607.12 109.26,605.73Z" fill="#fefaf6"/><path d="M127.61,614.56C129.75,612.77 136.11,608.64 139.89,607.2C143.66,605.75 147.22,605.9 150.24,605.9C153.26,605.9 155.96,606.09 158.01,607.2C160.05,608.31 161.65,610.57 162.51,612.57C163.38,614.58 163.63,616.85 163.18,619.24C162.74,621.63 161.39,624.72 159.83,626.91C158.26,629.1 155.9,630.72 153.79,632.38C151.68,634.04 149.6,636.01 147.17,636.86C144.74,637.7 141.74,637.7 139.21,637.46C136.69,637.21 133.7,636.79 132.02,635.37C130.35,633.94 129.93,631.14 129.15,628.9C128.36,626.66 127.68,623.75 127.33,621.93C126.97,620.1 126.99,619.18 127.04,617.95C127.09,616.72 125.47,616.36 127.61,614.56Z" fill="#fafbfb"/><path d="M122.54,616.36C120.95,616.07 116.58,616.88 114.04,617.44C111.5,617.99 109.09,618.27 107.3,619.69C105.51,621.11 104.14,623.78 103.29,625.95C102.44,628.12 102.12,630.63 102.22,632.7C102.31,634.77 102.85,636.95 103.88,638.37C104.9,639.79 106.3,640.56 108.37,641.21C110.44,641.86 114.3,641.73 116.29,642.28C118.28,642.84 119.45,643.31 120.3,644.53C121.14,645.76 120.92,647.65 121.37,649.62C121.83,651.59 122.09,654.68 123.03,656.37C123.98,658.07 125.35,659.03 127.04,659.79C128.73,660.56 130.85,661.15 133.2,660.97C135.54,660.79 139.04,660.23 141.11,658.72C143.18,657.2 144.86,653.94 145.61,651.87C146.36,649.8 146.16,647.89 145.61,646.3C145.06,644.7 144.16,643.51 142.29,642.28C140.41,641.06 136.44,639.81 134.37,638.96C132.3,638.11 131.19,638.42 129.87,637.2C128.55,635.98 127.4,633.69 126.45,631.62C125.51,629.55 124.68,626.85 124.21,624.77C123.73,622.7 123.9,620.6 123.62,619.2C123.34,617.8 124.14,616.66 122.54,616.36Z" fill="#f9fbfc"/><defs><g id="d30"><g transform="translate(96.97 591.46) scale(0.3333)"><path d="M84 22h5v5h-5zm-3 9h5v5h-5zm18-4h5v5h-5zm21 3h5v5h-5zm0 5h5v5h-5zm2 2h5v5h-5zm-1 8h5v5h-5zm-18-5h5v5h-5zm-46 16h5v5h-5zm33-5h5v5h-5zm17 2h5v5h-5z" fill="#f69a23"/><path d="M108 28h5v5h-5zm16 3h5v5h-5zm-74 26h5v5h-5zm28 0h5v5h-5z" fill="#f9c72e"/><path d="M56 34h5v5h-5zm32 13h5v5h-5zm-27-6h5v5h-5zm22 9h5v5h-5zm18 2h5v5h-5zm-30 8h5v5h-5z" fill="#f27f1f"/><path d="M126 27h5v5h-5zm-35 16h5v5h-5zm-4-1h5v5h-5zm-19 0h5v5h-5zm-1-6h5v5h-5zm39 14h5v5h-5z" fill="#ec5d1d"/><path d="M102 22h5v5h-5zm34 12h5v5h-5z" fill="#fade34"/><path d="M62 58h5v5h-5z" fill="#f7b029"/><path d="M100 37h5v5h-5z" fill="#db2319"/><path d="M76 31h5v5h-5zm6 20h5v5h-5z" fill="#e63c1b"/><path d="M59 28h5v5h-5z" fill="#e1de52"/><path d="M94 18h5v5h-5z" fill="#c81816"/></g><g transform="translate(96.97 591.46) scale(0.3333)"><path d="M156 80h5v5h-5zm7 3h5v5h-5zm17-1h5v5h-5zm-35 11h5v5h-5zm-15-1h5v5h-5zm-38-2h5v5h-5zm40 7h5v5h-5zm5 1h5v5h-5zm31 21h5v5h-5zm-43-7h5v5h-5zm-26-2h5v5h-5zm2 10h5v5h-5zm2 5h5v5h-5zm17 2h5v5h-5zm7 7h5v5h-5z" fill="#6cafe5"/><path d="M141 67h5v5h-5zm-47 1h5v5h-5zm86 7h5v5h-5zm-23 15h5v5h-5zm-31 10h5v5h-5z" fill="#b2da94"/><path d="M164 46h5v5h-5zm-40 2h5v5h-5zm13 6h5v5h-5zm42 17h5v5h-5zm-17-9h5v5h-5zm-20 0h5v5h-5z" fill="#f69a23"/><path d="M111 55h5v5h-5zm8 2h5v5h-5zm38-4h5v5h-5zm-27 9h5v5h-5zm-16 8h5v5h-5zm-2-6h5v5h-5zm-12 3h5v5h-5zm-5-3h5v5h-5zm57 10h5v5h-5z" fill="#f9c72e"/><path d="M160 87h5v5h-5zm-10 24h5v5h-5zm-14 1h5v5h-5zm-3 4h5v5h-5zm-23 14h5v5h-5zm1-7h5v5h-5zm8-3h5v5h-5zm17 9h5v5h-5zm6-2h5v5h-5zm1 0h5v5h-5zm2-6h5v5h-5z" fill="#205cc4"/><path d="M175 82h5v5h-5zm-1 6h5v5h-5zm-1-1h5v5h-5zm-7 4h5v5h-5zm-20-5h5v5h-5zm-14 9h5v5h-5zm-35 8h5v5h-5zm13 0h5v5h-5zm3 1h5v5h-5zm8-2h5v5h-5zm5 0h5v5h-5zm5-5h5v5h-5zm17 8h5v5h-5zm1-9h5v5h-5zm15 4h5v5h-5zm7 0h5v5h-5zm8 8h5v5h-5zm-47 22h5v5h-5z" fill="#3b82d5"/><path d="M177 47h5v5h-5zm-36 1h5v5h-5zm7 2h5v5h-5zm5 1h5v5h-5zm8 4h5v5h-5zm16-3h5v5h-5zm6 15h5v5h-5zm-43-6h5v5h-5z" fill="#ec5d1d"/><path d="M147 42h5v5h-5zm1 9h5v5h-5zm33 0h5v5h-5zm-46 9h5v5h-5z" fill="#e63c1b"/><path d="M170 85h5v5h-5zm-5 4h5v5h-5zm-40 14h5v5h-5zm14-4h5v5h-5zm11 20h5v5h-5zm-2-5h5v5h-5zm-15 1h5v5h-5zm-33-4h5v5h-5zm6 12h5v5h-5zm9 5h5v5h-5zm31-8h5v5h-5zm13 1h5v5h-5zm-28 13h5v5h-5z" fill="#2e6fcd"/><path d="M175 49h5v5h-5zm3 9h5v5h-5zm-10 4h5v5h-5zm-2-2h5v5h-5z" fill="#db2319"/><path d="M114 57h5v5h-5zm67 18h5v5h-5zm8 2h5v5h-5zm1 3h5v5h-5z" fill="#e1de52"/><path d="M162 77h5v5h-5zm8 2h5v5h-5zm13 4h5v5h-5zm-50 6h5v5h-5zm-28 0h5v5h-5zm-7 8h5v5h-5zm30 1h5v5h-5zm39 6h5v5h-5zm10 4h5v5h-5zm-62 6h5v5h-5zm34 10h5v5h-5z" fill="#8cc8ec"/><path d="M178 93h5v5h-5zm-1-7h5v5h-5zm-15 2h5v5h-5zm-4 6h5v5h-5zm-16-6h5v5h-5zm-28 12h5v5h-5zm12 0h5v5h-5zm5 2h5v5h-5zm4-6h5v5h-5zm1 3h5v5h-5zm9 7h5v5h-5zm9-4h5v5h-5zm12 4h5v5h-5zm4-6h5v5h-5zm15 0h5v5h-5zm-25 12h5v5h-5zm-2-3h5v5h-5zm-4 2h5v5h-5zm-27-3h5v5h-5zm-1 9h5v5h-5zm0-9h5v5h-5zm-3 9h5v5h-5zm-18 0h5v5h-5zm0-8h5v5h-5zm-5 12h5v5h-5zm10 5h5v5h-5zm21 2h5v5h-5zm16 1h5v5h-5zm11-7h5v5h-5zm-39 11h5v5h-5z" fill="#4c96dd"/><path d="M175 89h5v5h-5zm-47 24h5v5h-5zm-1 6h5v5h-5zm-19 4h5v5h-5zm8 3h5v5h-5z" fill="#1c4dad"/><path d="M123 67h5v5h-5zm-21 0h5v5h-5zm-6 2h5v5h-5zm12 5h5v5h-5zm34 8h5v5h-5zm5-4h5v5h-5zm37-5h5v5h-5zm-95 11h5v5h-5z" fill="#c8de70"/><path d="M107 81h5v5h-5zm9-4h5v5h-5zm30 8h5v5h-5zm-55 6h5v5h-5zm11 10h5v5h-5zm69 11h5v5h-5zm-6 0h5v5h-5zm-54-2h5v5h-5z" fill="#9fd1c0"/><path d="M157 43h5v5h-5zm-46 15h5v5h-5zm78 9h5v5h-5zm-21 3h5v5h-5z" fill="#f7b029"/><path d="M178 68h5v5h-5zm-6-1h5v5h-5zm-12-7h5v5h-5zm-37 1h5v5h-5z" fill="#f27f1f"/><path d="M153 110h5v5h-5zm-3 4h5v5h-5zm16 6h5v5h-5zm-33 15h5v5h-5z" fill="#193e96"/><path d="M169 59h5v5h-5zm5 1h5v5h-5z" fill="#c81816"/><path d="M129 48h5v5h-5zm-23 21h5v5h-5zm-7-1h5v5h-5z" fill="#fade34"/></g><g transform="translate(96.97 591.46) scale(0.3333)"><path d="M50 76h5v5h-5zm-7 11h5v5h-5zm-13 6h5v5h-5zm-2 1h5v5h-5zm-1-2h5v5h-5zm4 8h5v5h-5zm0 5h5v5h-5zm1-4h5v5h-5zm0-4h5v5h-5zm1 7h5v5h-5zm0 3h5v5h-5zm3-3h5v5h-5zm6 2h5v5h-5zm8 0h5v5h-5zm-18 3h5v5h-5zm-2 2h5v5h-5zm-2 0h5v5h-5z" fill="#193e96"/><path d="M49 87h5v5h-5zm0 38h5v5h-5zm58 17h5v5h-5zm-10-3h5v5h-5zm-15-5h5v5h-5zm-3 7h5v5h-5zm-9-9h5v5h-5zm-5 20h5v5h-5zm22 0h5v5h-5zm14 0h5v5h-5zm16 3h5v5h-5zm-5 7h5v5h-5zm-3 6h5v5h-5zm21 3h5v5h-5zm1 3h5v5h-5z" fill="#9fd1c0"/><path d="M56 81h5v5h-5zm21 11h5v5h-5zm-2-2h5v5h-5zm-5-1h5v5h-5zm-18 1h5v5h-5zm0-5h5v5h-5zm-6 3h5v5h-5zm28 8h5v5h-5zm7 15h5v5h-5zm-36 8h5v5h-5zm-18-7h5v5h-5zm-10 16h5v5h-5zm19-1h5v5h-5zm0 0h5v5h-5zm9-2h5v5h-5zm32-3h5v5h-5zm1 2h5v5h-5zm-14 18h5v5h-5zm-3 1h5v5h-5zm-10-4h5v5h-5zm-5 9h5v5h-5zm19-2h5v5h-5zm35 6h5v5h-5zm1-3h5v5h-5zm-19 18h5v5h-5zm1 9h5v5h-5zm47 0h5v5h-5z" fill="#4c96dd"/><path d="M64 76h5v5h-5zm0 0h5v5h-5zm9 12h5v5h-5zm-13 5h5v5h-5zm-1-9h5v5h-5zm-3 1h5v5h-5zm-8 0h5v5h-5zm-10 14h5v5h-5zm5 2h5v5h-5zm31 1h5v5h-5zm4 14h5v5h-5zm-9 2h5v5h-5zm-12-3h5v5h-5zm-3 2h5v5h-5zm-1-2h5v5h-5zm-1 2h5v5h-5zm-12-2h5v5h-5zm-2 0h5v5h-5zm-16 2h5v5h-5zm-7-3h5v5h-5zm13 7h5v5h-5zm2 5h5v5h-5zm2-3h5v5h-5zm4 3h5v5h-5zm45-6h5v5h-5zm-29 20h5v5h-5zm-5 1h5v5h-5zm-6 2h5v5h-5zm-8-3h5v5h-5zm-5 3h5v5h-5zm-2-3h5v5h-5zm43 7h5v5h-5zm2-2h5v5h-5z" fill="#3b82d5"/><path d="M47 86h5v5h-5zm-4 1h5v5h-5zm-1 2h5v5h-5zm0-1h5v5h-5zm-1 5h5v5h-5zm-17-3h5v5h-5zm-1 5h5v5h-5zm-6 6h5v5h-5zm0 4h5v5h-5zm5-9h5v5h-5zm5 9h5v5h-5zm38-3h5v5h-5zm4 14h5v5h-5zm-7 0h5v5h-5zm0-5h5v5h-5zm-4 7h5v5h-5zm-15-1h5v5h-5zm-1-6h5v5h-5zm-9 4h5v5h-5zm7 7h5v5h-5zm7-2h5v5h-5zm8 0h5v5h-5zm11 0h5v5h-5zm5 2h5v5h-5zm-36 20h5v5h-5zm-2-5h5v5h-5zm-3 6h5v5h-5z" fill="#205cc4"/><path d="M88 130h5v5h-5zm-6 10h5v5h-5zm-5 1h5v5h-5zm-8-7h5v5h-5zm30 20h5v5h-5zm10-7h5v5h-5zm6 1h5v5h-5zm2 2h5v5h-5zm2-4h5v5h-5zm2 9h5v5h-5zm18 2h5v5h-5zm-25 8h5v5h-5zm-2-1h5v5h-5zm-11-3h5v5h-5zm-12-1h5v5h-5zm-5 5h5v5h-5zm-11 11h5v5h-5zm5-1h5v5h-5zm6-2h5v5h-5zm20 5h5v5h-5zm7-8h5v5h-5zm14 9h5v5h-5zm4 10h5v5h-5zm-1-8h5v5h-5zm-12 6h5v5h-5zm-34-6h5v5h-5z" fill="#b2da94"/><path d="M71 90h5v5h-5zm-6 29h5v5h-5zm-45 4h5v5h-5zm3 5h5v5h-5zm5-2h5v5h-5zm14-6h5v5h-5zm65 22h5v5h-5zm-57-3h5v5h-5zm-2-7h5v5h-5zm34 19h5v5h-5zm3-4h5v5h-5zm0 6h5v5h-5zm7-3h5v5h-5zm19 2h5v5h-5zm10-7h5v5h-5zm-49 21h5v5h-5zm29 10h5v5h-5zm29 2h5v5h-5z" fill="#6cafe5"/><path d="M98 138h5v5h-5zm-9 5h5v5h-5zm32 4h5v5h-5zm4 4h5v5h-5zm2 10h5v5h-5zm-3 1h5v5h-5zm-32 5h5v5h-5zm-12-8h5v5h-5zm-6 11h5v5h-5zm6 8h5v5h-5zm1-4h5v5h-5zm14-4h5v5h-5zm1 1h5v5h-5zm30 8h5v5h-5zm-3 3h5v5h-5zm-9 9h5v5h-5zm-1-2h5v5h-5zm-17-1h5v5h-5zm10 12h5v5h-5zm2-5h5v5h-5zm10 0h5v5h-5zm8-3h5v5h-5z" fill="#e1de52"/><path d="M39 100h5v5h-5zm4 28h5v5h-5zm30 2h5v5h-5zm18-2h5v5h-5zm-9 12h5v5h-5zm-3-7h5v5h-5zm-12 7h5v5h-5zm-14 0h5v5h-5zm13 4h5v5h-5zm2 9h5v5h-5zm13-7h5v5h-5zm1 7h5v5h-5zm2-6h5v5h-5zm8 0h5v5h-5zm11 2h5v5h-5zm4 4h5v5h-5zm2-6h5v5h-5zm3 1h5v5h-5zm3 0h5v5h-5zm13 9h5v5h-5zm-2 6h5v5h-5zm-16 4h5v5h-5zm22 4h5v5h-5zm4 4h5v5h-5z" fill="#8cc8ec"/><path d="M118 150h5v5h-5zm7-1h5v5h-5zm0 16h5v5h-5zm-7-2h5v5h-5zm-17-3h5v5h-5zm-2 5h5v5h-5zm-11-5h5v5h-5zm-2 6h5v5h-5zm0 5h5v5h-5zm3 2h5v5h-5zm14 6h5v5h-5zm4-10h5v5h-5zm16 1h5v5h-5zm4 4h5v5h-5zm3-6h5v5h-5zm-29 13h5v5h-5zm-15 8h5v5h-5zm40 8h5v5h-5zm4-1h5v5h-5z" fill="#c8de70"/><path d="M56 81h5v5h-5zm16-8h5v5h-5zm1 6h5v5h-5zm-21 13h5v5h-5zm0-8h5v5h-5zm-27 6h5v5h-5zm1 14h5v5h-5zm17-8h5v5h-5zm2 5h5v5h-5zm0-2h5v5h-5zm3 5h5v5h-5zm34 12h5v5h-5zm-3 0h5v5h-5zm-14 2h5v5h-5zm-13-4h5v5h-5zm0 5h5v5h-5zm-3-2h5v5h-5zm-33 11h5v5h-5zm20-3h5v5h-5zm14 1h5v5h-5zm2 0h5v5h-5zm13 4h5v5h-5zm4-3h5v5h-5zm4-5h5v5h-5zm-6 21h5v5h-5zm-23-10h5v5h-5zm-6 1h5v5h-5zm-14 7h5v5h-5z" fill="#2e6fcd"/><path d="M102 141h5v5h-5zm-10 1h5v5h-5zm-9 17h5v5h-5zm-2 0h5v5h-5zm17 20h5v5h-5zm1-8h5v5h-5zm26 11h5v5h-5zm-11 6h5v5h-5zm-7 0h5v5h-5zm-20 3h5v5h-5zm1 3h5v5h-5zm15 9h5v5h-5zm4-10h5v5h-5zm8 1h5v5h-5z" fill="#fade34"/><path d="M36 82h5v5h-5zm2 4h5v5h-5zm-3 9h5v5h-5zm-17 7h5v5h-5zm7-4h5v5h-5zm2-2h5v5h-5zm1 5h5v5h-5zm14 4h5v5h-5zm3-6h5v5h-5zm25-2h5v5h-5zm8 4h5v5h-5zm-9 14h5v5h-5zm-10 4h5v5h-5zm-4-6h5v5h-5zm-11-3h5v5h-5zm-5 7h5v5h-5zm39 3h5v5h-5zm-44 18h5v5h-5zm-9-6h5v5h-5z" fill="#1c4dad"/><path d="M102 172h5v5h-5zm18 14h5v5h-5zm-16 3h5v5h-5zm-25 6h5v5h-5zm9-1h5v5h-5zm1 5h5v5h-5zm2-5h5v5h-5z" fill="#f9c72e"/><path d="M101 195h5v5h-5zm5 6h5v5h-5z" fill="#f27f1f"/><path d="M96 192h5v5h-5zm5 4h5v5h-5zm22-3h5v5h-5z" fill="#f7b029"/><path d="M104 200h5v5h-5z" fill="#f69a23"/></g></g></defs><use href="#d30" filter="url(#hb)" opacity="0.45"/><use href="#d30"/><path d="M109.26,605.73C109.48,604.34 110.4,602.13 111.68,601.01C112.95,599.9 114.31,599.5 116.91,599.02C119.5,598.54 123.8,598.17 127.27,598.11C130.74,598.05 135.16,598.17 137.72,598.66C140.29,599.14 141.63,600.05 142.66,601.01C143.69,601.98 144.21,603.31 143.92,604.46C143.63,605.61 142.61,606.89 140.92,607.9C139.22,608.92 136.46,609.78 133.75,610.53C131.04,611.29 127.9,612.22 124.65,612.44C121.41,612.65 116.68,612.31 114.29,611.8C111.9,611.29 111.16,610.37 110.32,609.35C109.48,608.34 109.03,607.12 109.26,605.73Z" fill="none" stroke="#000" stroke-width="2.0" stroke-linejoin="round"/><path d="M127.61,614.56C129.75,612.77 136.11,608.64 139.89,607.2C143.66,605.75 147.22,605.9 150.24,605.9C153.26,605.9 155.96,606.09 158.01,607.2C160.05,608.31 161.65,610.57 162.51,612.57C163.38,614.58 163.63,616.85 163.18,619.24C162.74,621.63 161.39,624.72 159.83,626.91C158.26,629.1 155.9,630.72 153.79,632.38C151.68,634.04 149.6,636.01 147.17,636.86C144.74,637.7 141.74,637.7 139.21,637.46C136.69,637.21 133.7,636.79 132.02,635.37C130.35,633.94 129.93,631.14 129.15,628.9C128.36,626.66 127.68,623.75 127.33,621.93C126.97,620.1 126.99,619.18 127.04,617.95C127.09,616.72 125.47,616.36 127.61,614.56Z" fill="none" stroke="#000" stroke-width="2.0" stroke-linejoin="round"/><path d="M122.54,616.36C120.95,616.07 116.58,616.88 114.04,617.44C111.5,617.99 109.09,618.27 107.3,619.69C105.51,621.11 104.14,623.78 103.29,625.95C102.44,628.12 102.12,630.63 102.22,632.7C102.31,634.77 102.85,636.95 103.88,638.37C104.9,639.79 106.3,640.56 108.37,641.21C110.44,641.86 114.3,641.73 116.29,642.28C118.28,642.84 119.45,643.31 120.3,644.53C121.14,645.76 120.92,647.65 121.37,649.62C121.83,651.59 122.09,654.68 123.03,656.37C123.98,658.07 125.35,659.03 127.04,659.79C128.73,660.56 130.85,661.15 133.2,660.97C135.54,660.79 139.04,660.23 141.11,658.72C143.18,657.2 144.86,653.94 145.61,651.87C146.36,649.8 146.16,647.89 145.61,646.3C145.06,644.7 144.16,643.51 142.29,642.28C140.41,641.06 136.44,639.81 134.37,638.96C132.3,638.11 131.19,638.42 129.87,637.2C128.55,635.98 127.4,633.69 126.45,631.62C125.51,629.55 124.68,626.85 124.21,624.77C123.73,622.7 123.9,620.6 123.62,619.2C123.34,617.8 124.14,616.66 122.54,616.36Z" fill="none" stroke="#000" stroke-width="2.0" stroke-linejoin="round"/><rect x="181.8" y="592.1" width="68.6" height="73" fill="#fff" stroke="#000" stroke-width="1.5"/><line x1="178.8" y1="594.6" x2="181.8" y2="594.6" stroke="#000" stroke-width="1"/><line x1="178.8" y1="601.53" x2="181.8" y2="601.53" stroke="#000" stroke-width="1"/><line x1="178.8" y1="608.46" x2="181.8" y2="608.46" stroke="#000" stroke-width="1"/><line x1="178.8" y1="615.39" x2="181.8" y2="615.39" stroke="#000" stroke-width="1"/><line x1="178.8" y1="622.32" x2="181.8" y2="622.32" stroke="#000" stroke-width="1"/><line x1="178.8" y1="629.25" x2="181.8" y2="629.25" stroke="#000" stroke-width="1"/><line x1="178.8" y1="636.18" x2="181.8" y2="636.18" stroke="#000" stroke-width="1"/><line x1="178.8" y1="643.11" x2="181.8" y2="643.11" stroke="#000" stroke-width="1"/><line x1="178.8" y1="650.04" x2="181.8" y2="650.04" stroke="#000" stroke-width="1"/><line x1="178.8" y1="656.97" x2="181.8" y2="656.97" stroke="#000" stroke-width="1"/><line x1="189.6" y1="665.1" x2="189.6" y2="668.1" stroke="#000" stroke-width="1"/><line x1="198.26" y1="665.1" x2="198.26" y2="668.1" stroke="#000" stroke-width="1"/><line x1="206.92" y1="665.1" x2="206.92" y2="668.1" stroke="#000" stroke-width="1"/><line x1="215.58" y1="665.1" x2="215.58" y2="668.1" stroke="#000" stroke-width="1"/><line x1="224.24" y1="665.1" x2="224.24" y2="668.1" stroke="#000" stroke-width="1"/><line x1="232.9" y1="665.1" x2="232.9" y2="668.1" stroke="#000" stroke-width="1"/><line x1="241.56" y1="665.1" x2="241.56" y2="668.1" stroke="#000" stroke-width="1"/><line x1="250.22" y1="665.1" x2="250.22" y2="668.1" stroke="#000" stroke-width="1"/><path d="M189.76,606.83C189.98,605.44 190.89,603.23 192.14,602.11C193.4,601 194.73,600.6 197.3,600.12C199.86,599.64 204.09,599.27 207.51,599.21C210.93,599.15 215.28,599.27 217.81,599.76C220.34,600.24 221.66,601.15 222.68,602.11C223.7,603.08 224.21,604.41 223.92,605.56C223.64,606.71 222.63,607.99 220.96,609C219.29,610.02 216.57,610.88 213.9,611.63C211.23,612.39 208.13,613.32 204.93,613.54C201.73,613.75 197.07,613.41 194.72,612.9C192.36,612.39 191.63,611.47 190.81,610.45C189.98,609.44 189.53,608.22 189.76,606.83Z" fill="#f6f8fc"/><path d="M209.34,615.55C211.53,613.85 218.05,609.91 221.91,608.54C225.78,607.16 229.43,607.3 232.52,607.3C235.61,607.3 238.38,607.48 240.48,608.54C242.57,609.6 244.21,611.74 245.09,613.66C245.98,615.57 246.24,617.73 245.78,620.01C245.32,622.29 243.95,625.23 242.34,627.31C240.74,629.4 238.31,630.95 236.15,632.53C233.99,634.11 231.87,635.99 229.38,636.79C226.89,637.6 223.81,637.6 221.23,637.36C218.64,637.13 215.58,636.73 213.86,635.37C212.14,634.01 211.71,631.34 210.91,629.21C210.11,627.07 209.41,624.31 209.05,622.57C208.69,620.83 208.7,619.95 208.75,618.78C208.8,617.61 207.15,617.26 209.34,615.55Z" fill="#f6f9fc"/><path d="M206.68,616.56C205.08,616.26 200.68,617.09 198.12,617.66C195.56,618.22 193.14,618.5 191.33,619.95C189.53,621.39 188.15,624.11 187.3,626.32C186.45,628.53 186.12,631.08 186.22,633.19C186.32,635.3 186.86,637.52 187.89,638.97C188.92,640.41 190.33,641.19 192.42,641.85C194.5,642.52 198.39,642.39 200.39,642.95C202.39,643.51 203.57,644 204.42,645.24C205.27,646.48 205.04,648.41 205.5,650.42C205.96,652.43 206.22,655.56 207.18,657.29C208.13,659.01 209.5,659.99 211.21,660.77C212.92,661.55 215.05,662.15 217.41,661.97C219.77,661.79 223.3,661.22 225.38,659.68C227.46,658.13 229.15,654.82 229.91,652.71C230.66,650.6 230.46,648.66 229.91,647.03C229.35,645.41 228.45,644.19 226.56,642.95C224.67,641.71 220.67,640.43 218.59,639.56C216.51,638.7 215.39,639.02 214.06,637.77C212.74,636.53 211.57,634.2 210.62,632.1C209.67,629.99 208.83,627.23 208.36,625.13C207.88,623.02 208.04,620.88 207.77,619.45C207.49,618.02 208.29,616.86 206.68,616.56Z" fill="#fafafa"/><defs><g id="d31"><g transform="translate(180.97 591.26) scale(0.3333)"><path d="M104 29h5v5h-5zm6 2h5v5h-5zm-5 13h5v5h-5zm-3-8h5v5h-5zm-14 3h5v5h-5zm-46 4h5v5h-5zm-8-4h5v5h-5zm6 18h5v5h-5zm22-7h5v5h-5zm5 6h5v5h-5zm31-4h5v5h-5zm-47 10h5v5h-5zm-6-2h5v5h-5z" fill="#1c4dad"/><path d="M73 27h5v5h-5zm3-1h5v5h-5zm23 4h5v5h-5zm1-2h5v5h-5zm15 0h5v5h-5zm-52 11h5v5h-5zm-35 16h5v5h-5zm78-6h5v5h-5zm-39 12h5v5h-5zm-15-1h5v5h-5zm-13 2h5v5h-5z" fill="#205cc4"/><path d="M84 36h5v5h-5zm-9 0h5v5h-5zm-23 21h5v5h-5z" fill="#193e96"/><path d="M75 31h5v5h-5zm16-7h5v5h-5zm-7 13h5v5h-5zm-50 22h5v5h-5zm22-9h5v5h-5zm33 6h5v5h-5z" fill="#2e6fcd"/><path d="M73 40h5v5h-5z" fill="#3b82d5"/></g><g transform="translate(180.97 591.26) scale(0.3333)"><path d="M139 58h5v5h-5zm25-5h5v5h-5zm7 3h5v5h-5zm4 6h5v5h-5zm-12 0h5v5h-5zm-1 1h5v5h-5zm-11 4h5v5h-5zm-4 4h5v5h-5zm0 0h5v5h-5zm-2-9h5v5h-5zm-4 5h5v5h-5zm-31-4h5v5h-5zm-1 2h5v5h-5zm-6 4h5v5h-5zm-21 8h5v5h-5zm7-5h5v5h-5zm18 11h5v5h-5zm6-6h5v5h-5zm0-5h5v5h-5zm2 9h5v5h-5zm0 2h5v5h-5zm3-11h5v5h-5zm14 8h5v5h-5zm9-6h5v5h-5zm15 0h5v5h-5zm15 7h5v5h-5zm2 1h5v5h-5zm16-5h5v5h-5zm2 1h5v5h-5zm-12 8h5v5h-5zm-1 9h5v5h-5zm-7-6h5v5h-5zm-10 5h5v5h-5zm-1 0h5v5h-5zm-2-2h5v5h-5zm-3-3h5v5h-5zm-11 5h5v5h-5zm-10-9h5v5h-5zm-30 5h5v5h-5zm-13 4h5v5h-5zm-5 2h5v5h-5zm7 11h5v5h-5zm11-5h5v5h-5zm10-2h5v5h-5zm12-3h5v5h-5zm11 10h5v5h-5zm3 0h5v5h-5zm8-5h5v5h-5zm31 4h5v5h-5zm-11 9h5v5h-5zm-3-7h5v5h-5zm-9 3h5v5h-5zm-19 8h5v5h-5zm-10 0h5v5h-5zm-2-2h5v5h-5zm-6 0h5v5h-5zm-3-7h5v5h-5zm-9 8h5v5h-5zm16 12h5v5h-5zm10-6h5v5h-5zm0 0h5v5h-5zm3 4h5v5h-5z" fill="#205cc4"/><path d="M112 58h5v5h-5zm1-4h5v5h-5zm1 2h5v5h-5zm12 3h5v5h-5zm13-4h5v5h-5zm3-3h5v5h-5zm2 5h5v5h-5zm4 0h5v5h-5zm30 1h5v5h-5zm-7 7h5v5h-5zm-7 1h5v5h-5zm-2-2h5v5h-5zm-9 2h5v5h-5zm0 3h5v5h-5zm-6 1h5v5h-5zm-34-8h5v5h-5zm-8 4h5v5h-5zm0 4h5v5h-5zm-8 2h5v5h-5zm11 9h5v5h-5zm1-2h5v5h-5zm1-2h5v5h-5zm15-2h5v5h-5zm4 1h5v5h-5zm1 2h5v5h-5zm0 2h5v5h-5zm37 12h5v5h-5zm0-1h5v5h-5zm-6 3h5v5h-5zm-5-9h5v5h-5zm-69 7h5v5h-5zm0 8h5v5h-5zm0-1h5v5h-5zm39 8h5v5h-5zm7-11h5v5h-5zm3 4h5v5h-5zm26 1h5v5h-5zm1-5h5v5h-5zm20 6h5v5h-5zm-54 15h5v5h-5zm-29-2h5v5h-5zm-3-5h5v5h-5zm25 18h5v5h-5zm33-8h5v5h-5zm8 0h5v5h-5zm-39 13h5v5h-5z" fill="#2e6fcd"/><path d="M158 62h5v5h-5zm-51 5h5v5h-5zm-3 1h5v5h-5zm27 14h5v5h-5zm23-2h5v5h-5zm7-6h5v5h-5zm0 21h5v5h-5zm-44 9h5v5h-5zm36 1h5v5h-5zm6-4h5v5h-5z" fill="#3b82d5"/><path d="M152 55h5v5h-5zm2-4h5v5h-5zm19 0h5v5h-5zm-28 13h5v5h-5zm-2-3h5v5h-5zm0 2h5v5h-5zm0 5h5v5h-5zm-19 0h5v5h-5zm-3 0h5v5h-5zm-24 3h5v5h-5zm29 7h5v5h-5zm19 2h5v5h-5zm31 5h5v5h-5zm-3 6h5v5h-5zm-30-4h5v5h-5zm-13 7h5v5h-5zm-19-2h5v5h-5zm-3-3h5v5h-5zm-18 15h5v5h-5zm1-5h5v5h-5zm17-2h5v5h-5zm0 3h5v5h-5zm7 4h5v5h-5zm22-8h5v5h-5zm22 2h5v5h-5zm2 3h5v5h-5zm11-4h5v5h-5zm4 1h5v5h-5zm10-1h5v5h-5zm-46 13h5v5h-5zm-15 5h5v5h-5zm-9-4h5v5h-5zm-6 0h5v5h-5zm0-3h5v5h-5zm-2 10h5v5h-5zm4 7h5v5h-5zm18-4h5v5h-5zm1 3h5v5h-5zm2-1h5v5h-5zm4-2h5v5h-5zm-5 12h5v5h-5z" fill="#1c4dad"/><path d="M165 49h5v5h-5zm-78 33h5v5h-5zm90 9h5v5h-5zm-77 1h5v5h-5zm65 21h5v5h-5zm-47-2h5v5h-5zm-8 14h5v5h-5z" fill="#193e96"/></g><g transform="translate(180.97 591.26) scale(0.3333)"><path d="M46 82h5v5h-5zm4 0h5v5h-5zm4 0h5v5h-5zm12-7h5v5h-5zm10 19h5v5h-5zm-20-9h5v5h-5zm-3 8h5v5h-5zm-22-5h5v5h-5zm-10 14h5v5h-5zm17-6h5v5h-5zm1 6h5v5h-5zm23 1h5v5h-5zm12-1h5v5h-5zm-13 13h5v5h-5zm-5-3h5v5h-5zm-29-3h5v5h-5zm1 16h5v5h-5zm10-1h5v5h-5zm1 0h5v5h-5zm2-2h5v5h-5zm4-1h5v5h-5zm7-1h5v5h-5zm1 1h5v5h-5zm13 2h5v5h-5zm2-3h5v5h-5zm24 10h5v5h-5zm-16 7h5v5h-5zm-5-1h5v5h-5zm0 7h5v5h-5zm-10-10h5v5h-5zm-7 6h5v5h-5zm-2-3h5v5h-5zm-1-3h5v5h-5zm-16 4h5v5h-5zm-6 3h5v5h-5zm-2-3h5v5h-5zm11 13h5v5h-5zm3-3h5v5h-5zm0 2h5v5h-5zm8-4h5v5h-5zm8 0h5v5h-5zm10 4h5v5h-5zm4-2h5v5h-5z" fill="#2e6fcd"/><path d="M126 149h5v5h-5zm5 5h5v5h-5zm11 8h5v5h-5zm-23 3h5v5h-5zm-8-8h5v5h-5zm-30 20h5v5h-5zm13-4h5v5h-5zm5 4h5v5h-5zm10-9h5v5h-5zm1 8h5v5h-5zm3-4h5v5h-5zm1 4h5v5h-5zm0-4h5v5h-5zm25 3h5v5h-5zm0 0h5v5h-5zm-1 14h5v5h-5zm-3-9h5v5h-5zm-2 7h5v5h-5zm-6-6h5v5h-5zm-7 0h5v5h-5zm-24 7h5v5h-5zm-3-2h5v5h-5zm-11 12h5v5h-5zm17 4h5v5h-5zm2 0h5v5h-5zm16-1h5v5h-5zm11 1h5v5h-5zm-29 6h5v5h-5z" fill="#f69a23"/><path d="M86 179h5v5h-5zm46 9h5v5h-5zm0-6h5v5h-5zm-2 4h5v5h-5zm-5 0h5v5h-5zm-11 1h5v5h-5zm-7 4h5v5h-5zm-2-6h5v5h-5zm0 6h5v5h-5zm-1-4h5v5h-5zm-4-7h5v5h-5zm-18 5h5v5h-5zm-4-2h5v5h-5zm-1 6h5v5h-5zm-1 1h5v5h-5zm6 5h5v5h-5zm2-1h5v5h-5zm5 5h5v5h-5zm10-4h5v5h-5zm9-3h5v5h-5zm6 2h5v5h-5zm1 1h5v5h-5zm10 4h5v5h-5zm1 0h5v5h-5zm1-5h5v5h-5zm5 1h5v5h-5zm3-1h5v5h-5zm-35 10h5v5h-5z" fill="#ec5d1d"/><path d="M48 78h5v5h-5zm3 2h5v5h-5zm32 29h5v5h-5zm-4 7h5v5h-5zm-5-3h5v5h-5zm-2 2h5v5h-5zm0-1h5v5h-5zm-1 4h5v5h-5zm-9 0h5v5h-5zm-33-3h5v5h-5zm24 11h5v5h-5zm3-1h5v5h-5zm6 0h5v5h-5zm19-1h5v5h-5zm2-1h5v5h-5zm1 5h5v5h-5zm2 1h5v5h-5zm3 1h5v5h-5zm1 3h5v5h-5zm-10 7h5v5h-5zm-3 0h5v5h-5zm-23 2h5v5h-5zm-1-2h5v5h-5zm0 1h5v5h-5zm-3-7h5v5h-5zm15 21h5v5h-5zm1-4h5v5h-5z" fill="#4c96dd"/><path d="M65 78h5v5h-5zm6 16h5v5h-5zm-11-6h5v5h-5zm-4-1h5v5h-5zm0 4h5v5h-5zm-7 12h5v5h-5zm3 2h5v5h-5zm4 2h5v5h-5zm1-2h5v5h-5zm20-8h5v5h-5zm-7 20h5v5h-5zm-2 1h5v5h-5zm-24-2h5v5h-5zm-1-1h5v5h-5zm-10-3h5v5h-5zm-5 5h5v5h-5zm-3-9h5v5h-5zm-6 6h5v5h-5zm-1-5h5v5h-5zm-1 6h5v5h-5zm-1-6h5v5h-5zm13 16h5v5h-5zm1-5h5v5h-5zm1 8h5v5h-5zm2 0h5v5h-5zm6-2h5v5h-5zm26-6h5v5h-5zm11 5h5v5h-5zm6 3h5v5h-5zm-3 10h5v5h-5zm-1-4h5v5h-5zm-6 9h5v5h-5zm-16-10h5v5h-5zm-18 1h5v5h-5zm40 10h5v5h-5z" fill="#3b82d5"/><path d="M49 79h5v5h-5zm-15 12h5v5h-5zm0-1h5v5h-5zm-6-3h5v5h-5zm3 17h5v5h-5zm6-3h5v5h-5zm4 6h5v5h-5zm5-7h5v5h-5zm16 12h5v5h-5zm-5 0h5v5h-5zm-34 19h5v5h-5zm10 7h5v5h-5zm-5 6h5v5h-5zm10 2h5v5h-5z" fill="#193e96"/><path d="M117 150h5v5h-5zm8 14h5v5h-5zm-12-6h5v5h-5zm-8 8h5v5h-5zm-5 7h5v5h-5zm5-4h5v5h-5zm10-1h5v5h-5zm16 3h5v5h-5z" fill="#f9c72e"/><path d="M116 150h5v5h-5zm6 5h5v5h-5zm12 9h5v5h-5zm-4 2h5v5h-5zm-5-5h5v5h-5zm-1-3h5v5h-5zm-2 3h5v5h-5zm-35 16h5v5h-5zm15 1h5v5h-5zm14 0h5v5h-5zm5 5h5v5h-5zm-28 4h5v5h-5zm0-2h5v5h-5zm-6 0h5v5h-5zm-9-2h5v5h-5zm-2-3h5v5h-5zm55 14h5v5h-5zm-25 14h5v5h-5zm-1-2h5v5h-5zm-10-1h5v5h-5z" fill="#f27f1f"/><path d="M75 88h5v5h-5zm-4-1h5v5h-5zm-1 2h5v5h-5zm-24 0h5v5h-5zm-1 4h5v5h-5zm-3-1h5v5h-5zm-18 1h5v5h-5zm3 5h5v5h-5zm36 3h5v5h-5zm1 14h5v5h-5zm-16 1h5v5h-5zm-5-7h5v5h-5zm-10-1h5v5h-5zm-11 10h5v5h-5zm-4-2h5v5h-5zm68 9h5v5h-5zm-24 15h5v5h-5zm-16-4h5v5h-5zm-11 6h5v5h-5zm6 8h5v5h-5z" fill="#1c4dad"/><path d="M94 141h5v5h-5zm-11 14h5v5h-5zm7-4h5v5h-5zm6 10h5v5h-5zm-6-5h5v5h-5zm-2 7h5v5h-5z" fill="#b2da94"/><path d="M76 152h5v5h-5zm12-5h5v5h-5zm6 11h5v5h-5zm-7 6h5v5h-5zm-3-2h5v5h-5zm-13 5h5v5h-5z" fill="#9fd1c0"/><path d="M86 187h5v5h-5zm0 1h5v5h-5zm-5-3h5v5h-5zm-5 9h5v5h-5zm5-1h5v5h-5zm37 10h5v5h-5zm1-1h5v5h-5zm3-7h5v5h-5z" fill="#db2319"/><path d="M70 75h5v5h-5zm7 20h5v5h-5zm-2 10h5v5h-5zm10 14h5v5h-5zm-8-2h5v5h-5zm-6-2h5v5h-5zm-2-6h5v5h-5zm-18-1h5v5h-5zm-28 9h5v5h-5zm12 9h5v5h-5zm6 1h5v5h-5zm9-4h5v5h-5zm40 5h5v5h-5zm8 13h5v5h-5zm-4-6h5v5h-5zm-57 2h5v5h-5zm57 14h5v5h-5z" fill="#6cafe5"/><path d="M129 167h5v5h-5zm-3-2h5v5h-5zm-4-3h5v5h-5zm-4 2h5v5h-5zm-7-1h5v5h-5zm-3-5h5v5h-5zm-2 10h5v5h-5zm23 9h5v5h-5zm2-8h5v5h-5zm6 4h5v5h-5zm0-4h5v5h-5zm-1 21h5v5h-5z" fill="#f7b029"/><path d="M109 151h5v5h-5zm5-4h5v5h-5zm-8 15h5v5h-5zm-1 2h5v5h-5zm-1 7h5v5h-5zm34 1h5v5h-5z" fill="#fade34"/><path d="M57 79h5v5h-5zm7 13h5v5h-5zm-1 3h5v5h-5zm-8-3h5v5h-5zm-3-4h5v5h-5zm-11-2h5v5h-5zm-9 6h5v5h-5zm11 6h5v5h-5zm2 8h5v5h-5zm13-2h5v5h-5zm11-7h5v5h-5zm8 21h5v5h-5zm-3-7h5v5h-5zm-21 5h5v5h-5zm-7-8h5v5h-5zm-3 6h5v5h-5zm-9 0h5v5h-5zm-10-1h5v5h-5zm-4 3h5v5h-5zm2 15h5v5h-5zm1-9h5v5h-5zm25-2h5v5h-5zm3 5h5v5h-5zm5-3h5v5h-5zm11 7h5v5h-5zm3 0h5v5h-5zm-11 12h5v5h-5zm-23 0h5v5h-5zm-3-1h5v5h-5zm-2-3h5v5h-5zm-5 2h5v5h-5zm-5-7h5v5h-5zm36 12h5v5h-5z" fill="#205cc4"/><path d="M104 189h5v5h-5zm-10 13h5v5h-5zm19 1h5v5h-5z" fill="#c81816"/><path d="M102 175h5v5h-5zm27 12h5v5h-5zm-8-5h5v5h-5zm-5 4h5v5h-5zm-12 3h5v5h-5zm-7-5h5v5h-5zm-2 1h5v5h-5zm-7 0h5v5h-5zm-4 1h5v5h-5zm0 4h5v5h-5zm19 11h5v5h-5zm10 1h5v5h-5zm1-5h5v5h-5zm4 2h5v5h-5zm4-5h5v5h-5zm9 3h5v5h-5zm-14 9h5v5h-5zm-2 1h5v5h-5z" fill="#e63c1b"/><path d="M76 79h5v5h-5zm-2 25h5v5h-5zm0 6h5v5h-5zm3 38h5v5h-5zm0-2h5v5h-5zm8 3h5v5h-5zm2 16h5v5h-5zm0-8h5v5h-5zm-6 10h5v5h-5zm-6-3h5v5h-5z" fill="#8cc8ec"/><path d="M101 151h5v5h-5zm0 2h5v5h-5zm3-8h5v5h-5zm3-1h5v5h-5zm0 14h5v5h-5zm-15 9h5v5h-5zm-6 0h5v5h-5z" fill="#c8de70"/><path d="M91 166h5v5h-5zm-1 6h5v5h-5z" fill="#e1de52"/></g></g></defs><use href="#d31" filter="url(#hb)" opacity="0.45"/><use href="#d31"/><path d="M189.76,606.83C189.98,605.44 190.89,603.23 192.14,602.11C193.4,601 194.73,600.6 197.3,600.12C199.86,599.64 204.09,599.27 207.51,599.21C210.93,599.15 215.28,599.27 217.81,599.76C220.34,600.24 221.66,601.15 222.68,602.11C223.7,603.08 224.21,604.41 223.92,605.56C223.64,606.71 222.63,607.99 220.96,609C219.29,610.02 216.57,610.88 213.9,611.63C211.23,612.39 208.13,613.32 204.93,613.54C201.73,613.75 197.07,613.41 194.72,612.9C192.36,612.39 191.63,611.47 190.81,610.45C189.98,609.44 189.53,608.22 189.76,606.83Z" fill="none" stroke="#000" stroke-width="2.0" stroke-linejoin="round"/><path d="M209.34,615.55C211.53,613.85 218.05,609.91 221.91,608.54C225.78,607.16 229.43,607.3 232.52,607.3C235.61,607.3 238.38,607.48 240.48,608.54C242.57,609.6 244.21,611.74 245.09,613.66C245.98,615.57 246.24,617.73 245.78,620.01C245.32,622.29 243.95,625.23 242.34,627.31C240.74,629.4 238.31,630.95 236.15,632.53C233.99,634.11 231.87,635.99 229.38,636.79C226.89,637.6 223.81,637.6 221.23,637.36C218.64,637.13 215.58,636.73 213.86,635.37C212.14,634.01 211.71,631.34 210.91,629.21C210.11,627.07 209.41,624.31 209.05,622.57C208.69,620.83 208.7,619.95 208.75,618.78C208.8,617.61 207.15,617.26 209.34,615.55Z" fill="none" stroke="#000" stroke-width="2.0" stroke-linejoin="round"/><path d="M206.68,616.56C205.08,616.26 200.68,617.09 198.12,617.66C195.56,618.22 193.14,618.5 191.33,619.95C189.53,621.39 188.15,624.11 187.3,626.32C186.45,628.53 186.12,631.08 186.22,633.19C186.32,635.3 186.86,637.52 187.89,638.97C188.92,640.41 190.33,641.19 192.42,641.85C194.5,642.52 198.39,642.39 200.39,642.95C202.39,643.51 203.57,644 204.42,645.24C205.27,646.48 205.04,648.41 205.5,650.42C205.96,652.43 206.22,655.56 207.18,657.29C208.13,659.01 209.5,659.99 211.21,660.77C212.92,661.55 215.05,662.15 217.41,661.97C219.77,661.79 223.3,661.22 225.38,659.68C227.46,658.13 229.15,654.82 229.91,652.71C230.66,650.6 230.46,648.66 229.91,647.03C229.35,645.41 228.45,644.19 226.56,642.95C224.67,641.71 220.67,640.43 218.59,639.56C216.51,638.7 215.39,639.02 214.06,637.77C212.74,636.53 211.57,634.2 210.62,632.1C209.67,629.99 208.83,627.23 208.36,625.13C207.88,623.02 208.04,620.88 207.77,619.45C207.49,618.02 208.29,616.86 206.68,616.56Z" fill="none" stroke="#000" stroke-width="2.0" stroke-linejoin="round"/><rect x="264.5" y="591.9" width="69.2" height="73" fill="#fff" stroke="#000" stroke-width="1.5"/><line x1="261.5" y1="594.4" x2="264.5" y2="594.4" stroke="#000" stroke-width="1"/><line x1="261.5" y1="601.33" x2="264.5" y2="601.33" stroke="#000" stroke-width="1"/><line x1="261.5" y1="608.26" x2="264.5" y2="608.26" stroke="#000" stroke-width="1"/><line x1="261.5" y1="615.19" x2="264.5" y2="615.19" stroke="#000" stroke-width="1"/><line x1="261.5" y1="622.12" x2="264.5" y2="622.12" stroke="#000" stroke-width="1"/><line x1="261.5" y1="629.05" x2="264.5" y2="629.05" stroke="#000" stroke-width="1"/><line x1="261.5" y1="635.98" x2="264.5" y2="635.98" stroke="#000" stroke-width="1"/><line x1="261.5" y1="642.91" x2="264.5" y2="642.91" stroke="#000" stroke-width="1"/><line x1="261.5" y1="649.84" x2="264.5" y2="649.84" stroke="#000" stroke-width="1"/><line x1="261.5" y1="656.77" x2="264.5" y2="656.77" stroke="#000" stroke-width="1"/><line x1="272.3" y1="664.9" x2="272.3" y2="667.9" stroke="#000" stroke-width="1"/><line x1="280.96" y1="664.9" x2="280.96" y2="667.9" stroke="#000" stroke-width="1"/><line x1="289.62" y1="664.9" x2="289.62" y2="667.9" stroke="#000" stroke-width="1"/><line x1="298.28" y1="664.9" x2="298.28" y2="667.9" stroke="#000" stroke-width="1"/><line x1="306.94" y1="664.9" x2="306.94" y2="667.9" stroke="#000" stroke-width="1"/><line x1="315.6" y1="664.9" x2="315.6" y2="667.9" stroke="#000" stroke-width="1"/><line x1="324.26" y1="664.9" x2="324.26" y2="667.9" stroke="#000" stroke-width="1"/><line x1="332.92" y1="664.9" x2="332.92" y2="667.9" stroke="#000" stroke-width="1"/><path d="M273.35,606.39C273.57,604.95 274.46,602.67 275.68,601.52C276.91,600.36 278.22,599.95 280.72,599.45C283.22,598.95 287.35,598.58 290.69,598.51C294.03,598.45 298.29,598.58 300.76,599.08C303.23,599.58 304.52,600.52 305.51,601.52C306.51,602.52 307,603.89 306.72,605.08C306.44,606.27 305.46,607.6 303.83,608.64C302.2,609.69 299.55,610.58 296.94,611.36C294.33,612.15 291.3,613.11 288.17,613.33C285.05,613.55 280.5,613.21 278.2,612.68C275.9,612.15 275.19,611.19 274.38,610.14C273.57,609.1 273.14,607.83 273.35,606.39Z" fill="#f6f9fd"/><path d="M292.61,614.34C294.75,612.6 301.11,608.57 304.89,607.17C308.66,605.76 312.22,605.9 315.24,605.9C318.26,605.9 320.96,606.08 323.01,607.17C325.05,608.25 326.65,610.45 327.51,612.4C328.38,614.36 328.63,616.58 328.18,618.9C327.74,621.23 326.39,624.24 324.83,626.38C323.26,628.51 320.9,630.09 318.79,631.71C316.68,633.33 314.6,635.25 312.17,636.08C309.74,636.9 306.74,636.9 304.21,636.66C301.69,636.42 298.7,636.01 297.02,634.62C295.35,633.23 294.93,630.5 294.15,628.32C293.36,626.13 292.68,623.3 292.33,621.52C291.97,619.75 291.99,618.84 292.04,617.64C292.09,616.45 290.47,616.09 292.61,614.34Z" fill="#f8fafd"/><path d="M289.72,617.16C288.09,616.86 283.65,617.7 281.06,618.26C278.47,618.83 276.02,619.11 274.19,620.56C272.37,622 270.97,624.73 270.11,626.94C269.25,629.15 268.92,631.72 269.02,633.83C269.12,635.94 269.66,638.17 270.71,639.62C271.75,641.06 273.18,641.84 275.29,642.51C277.39,643.18 281.32,643.04 283.35,643.61C285.37,644.17 286.56,644.66 287.43,645.9C288.29,647.15 288.06,649.08 288.52,651.09C288.99,653.1 289.25,656.25 290.21,657.98C291.17,659.71 292.57,660.69 294.29,661.47C296.02,662.25 298.17,662.85 300.56,662.67C302.95,662.49 306.52,661.92 308.62,660.37C310.73,658.83 312.44,655.5 313.2,653.39C313.96,651.28 313.76,649.33 313.2,647.7C312.64,646.07 311.72,644.86 309.82,643.61C307.91,642.36 303.86,641.08 301.76,640.21C299.65,639.35 298.52,639.67 297.18,638.42C295.84,637.17 294.66,634.84 293.7,632.73C292.73,630.62 291.89,627.86 291.41,625.75C290.93,623.63 291.09,621.49 290.81,620.06C290.53,618.63 291.34,617.46 289.72,617.16Z" fill="#fbfbfb"/><defs><g id="d32"><g transform="translate(263.67 591.06) scale(0.3333)"><path d="M43 29h5v5h-5zm3-5h5v5h-5zm18 9h5v5h-5zm41-1h5v5h-5zm10 0h5v5h-5zm9 7h5v5h-5zm-6 8h5v5h-5zm-8-9h5v5h-5zm-5 1h5v5h-5zm-68 8h5v5h-5zm-1 3h5v5h-5zm5 6h5v5h-5zm6 2h5v5h-5zm7 0h5v5h-5zm41-4h5v5h-5zm-40 6h5v5h-5z" fill="#205cc4"/><path d="M98 31h5v5h-5zm-21 6h5v5h-5zm0 1h5v5h-5zm20 18h5v5h-5zm7-2h5v5h-5z" fill="#2e6fcd"/><path d="M34 32h5v5h-5zm6-1h5v5h-5zm52 9h5v5h-5zm-19 2h5v5h-5zm-17 2h5v5h-5zm-4-5h5v5h-5z" fill="#3b82d5"/><path d="M59 32h5v5h-5zm11-5h5v5h-5zm-3 9h5v5h-5zm-2 10h5v5h-5zm-10 3h5v5h-5zm23 13h5v5h-5zm-33-1h5v5h-5z" fill="#1c4dad"/><path d="M84 21h5v5h-5z" fill="#193e96"/></g><g transform="translate(263.67 591.06) scale(0.3333)"><path d="M153 47h5v5h-5zm-51 12h5v5h-5zm19-10h5v5h-5zm52 2h5v5h-5zm-13 18h5v5h-5zm-46 2h5v5h-5zm-1-4h5v5h-5zm-2-3h5v5h-5zm-6 9h5v5h-5zm1-1h5v5h-5zm64 16h5v5h-5zm-39 7h5v5h-5zm-23-6h5v5h-5zm-15 2h5v5h-5zm-2 14h5v5h-5zm50 1h5v5h-5zm21-10h5v5h-5zm3 10h5v5h-5zm8-5h5v5h-5zm1 8h5v5h-5zm-16 4h5v5h-5zm-4-2h5v5h-5zm-2 2h5v5h-5z" fill="#4c96dd"/><path d="M165 45h5v5h-5zm-5 8h5v5h-5zm5 8h5v5h-5zm-69 2h5v5h-5zm-1-1h5v5h-5zm-1 18h5v5h-5zm9 0h5v5h-5zm17-5h5v5h-5zm9 4h5v5h-5zm24 0h5v5h-5zm1 6h5v5h-5zm-34 2h5v5h-5zm23 15h5v5h-5zm29 3h5v5h-5zm4 1h5v5h-5z" fill="#205cc4"/><path d="M157 43h5v5h-5zm-34 4h5v5h-5zm9 9h5v5h-5zm3-6h5v5h-5zm27 20h5v5h-5zm-16 1h5v5h-5zm-7-7h5v5h-5zm-2 1h5v5h-5zm-6-4h5v5h-5zm-16 3h5v5h-5zm-5-2h5v5h-5zm-1 2h5v5h-5zm-13-3h5v5h-5zm0 13h5v5h-5zm19-1h5v5h-5zm33 7h5v5h-5zm11-4h5v5h-5zm0-1h5v5h-5zm10 6h5v5h-5zm10-6h5v5h-5zm7 4h5v5h-5zm3 3h5v5h-5zm-16 8h5v5h-5zm-1 4h5v5h-5zm0-8h5v5h-5zm-38 5h5v5h-5zm-1 3h5v5h-5zm-13-4h5v5h-5zm-4-6h5v5h-5zm-13 6h5v5h-5zm-7 3h5v5h-5zm55 3h5v5h-5zm15 6h5v5h-5zm7-6h5v5h-5zm6 4h5v5h-5zm-40 8h5v5h-5z" fill="#3b82d5"/><path d="M140 50h5v5h-5zm2 8h5v5h-5zm20-7h5v5h-5zm-66 19h5v5h-5zm59 3h5v5h-5zm-28 17h5v5h-5zm0 2h5v5h-5z" fill="#1c4dad"/><path d="M107 94h5v5h-5zm11 4h5v5h-5zm16 2h5v5h-5zm26 19h5v5h-5zm-2-8h5v5h-5zm-12 8h5v5h-5zm0 7h5v5h-5zm10-6h5v5h-5z" fill="#6cafe5"/><path d="M151 43h5v5h-5zm-2 3h5v5h-5zm-39 13h5v5h-5zm2-3h5v5h-5zm14-2h5v5h-5zm9 3h5v5h-5zm6-1h5v5h-5zm0-6h5v5h-5zm11-2h5v5h-5zm24 16h5v5h-5zm-14 4h5v5h-5zm-2-6h5v5h-5zm-9 4h5v5h-5zm-8-1h5v5h-5zm-20-3h5v5h-5zm-39 16h5v5h-5zm9 2h5v5h-5zm25-1h5v5h-5zm16-7h5v5h-5zm4 2h5v5h-5zm8 3h5v5h-5zm3 0h5v5h-5zm11 5h5v5h-5zm1-1h5v5h-5zm3-3h5v5h-5zm5-1h5v5h-5zm1 4h5v5h-5zm16-3h5v5h-5zm2 5h5v5h-5zm-10 10h5v5h-5zm-22 2h5v5h-5zm-3-11h5v5h-5zm-4 9h5v5h-5zm-17 0h5v5h-5zm-2 2h5v5h-5zm-8-6h5v5h-5zm-21 3h5v5h-5zm33 4h5v5h-5zm19 3h5v5h-5zm5 0h5v5h-5z" fill="#2e6fcd"/><path d="M113 103h5v5h-5zm0-5h5v5h-5zm10 17h5v5h-5zm-6-7h5v5h-5zm-12 11h5v5h-5zm-6-4h5v5h-5zm26 12h5v5h-5z" fill="#c8de70"/><path d="M103 102h5v5h-5zm13 3h5v5h-5zm22 10h5v5h-5zm-4-4h5v5h-5zm-34 2h5v5h-5zm15 8h5v5h-5zm13 4h5v5h-5zm5 0h5v5h-5zm-6 7h5v5h-5z" fill="#b2da94"/><path d="M110 95h5v5h-5zm-5 5h5v5h-5zm7-3h5v5h-5zm2 0h5v5h-5zm48 17h5v5h-5zm-36-4h5v5h-5zm-29 3h5v5h-5zm-2 0h5v5h-5z" fill="#8cc8ec"/><path d="M111 92h5v5h-5zm-5 6h5v5h-5zm1 4h5v5h-5zm-9 11h5v5h-5zm22 11h5v5h-5zm2 0h5v5h-5zm4 6h5v5h-5zm17 0h5v5h-5z" fill="#9fd1c0"/><path d="M108 116h5v5h-5zm2 6h5v5h-5z" fill="#fade34"/><path d="M94 67h5v5h-5z" fill="#193e96"/><path d="M111 110h5v5h-5z" fill="#e1de52"/></g><g transform="translate(263.67 591.06) scale(0.3333)"><path d="M85 119h5v5h-5zm-4 10h5v5h-5zm16 10h5v5h-5zm-7 3h5v5h-5zm-10 1h5v5h-5zm-42-8h5v5h-5zm-7 7h5v5h-5zm-10-8h5v5h-5zm-2 3h5v5h-5zm10 8h5v5h-5zm11 3h5v5h-5zm3 3h5v5h-5zm15 1h5v5h-5zm1 0h5v5h-5zm6-2h5v5h-5zm10 2h5v5h-5zm53 36h5v5h-5zm-2 3h5v5h-5zm-31-3h5v5h-5zm-20 2h5v5h-5zm30 6h5v5h-5zm5-2h5v5h-5z" fill="#f9c72e"/><path d="M41 143h5v5h-5zm-3 0h5v5h-5zm-2 5h5v5h-5zm8 5h5v5h-5zm43 47h5v5h-5zm1 0h5v5h-5zm10-3h5v5h-5zm18 3h5v5h-5zm3-6h5v5h-5zm-6 16h5v5h-5zm-25-5h5v5h-5z" fill="#f27f1f"/><path d="M93 133h5v5h-5zm-59 17h5v5h-5zm9-3h5v5h-5zm1 4h5v5h-5zm5 0h5v5h-5zm4 0h5v5h-5zm6 1h5v5h-5zm1-1h5v5h-5zm15-6h5v5h-5zm5 2h5v5h-5zm50 43h5v5h-5zm-4 1h5v5h-5zm-25-2h5v5h-5zm-16 5h5v5h-5zm19 9h5v5h-5zm6-9h5v5h-5z" fill="#f7b029"/><path d="M75 119h5v5h-5zm-57 9h5v5h-5zm64-7h5v5h-5zm17 21h5v5h-5zm-53-7h5v5h-5zm-14-2h5v5h-5zm-14 0h5v5h-5zm56 26h5v5h-5zm-3 0h5v5h-5zm71 28h5v5h-5zm-5-4h5v5h-5zm-21 4h5v5h-5zm-8-1h5v5h-5zm-16-1h5v5h-5zm-8-1h5v5h-5zm-2 0h5v5h-5z" fill="#c8de70"/><path d="M38 143h5v5h-5zm-7 8h5v5h-5zm102 40h5v5h-5zm-7 0h5v5h-5zm-32-5h5v5h-5zm17 9h5v5h-5zm16 0h5v5h-5zm1-3h5v5h-5zm3 4h5v5h-5zm7 1h5v5h-5zm-10 8h5v5h-5zm-1-1h5v5h-5z" fill="#ec5d1d"/><path d="M54 79h5v5h-5zm1 3h5v5h-5zm17 19h5v5h-5zm12 11h5v5h-5zm-9-2h5v5h-5zm-4 4h5v5h-5zm0 2h5v5h-5zm7 7h5v5h-5zm22 19h5v5h-5zm-49-10h5v5h-5zm-17 0h5v5h-5zm-13 0h5v5h-5zm70 21h5v5h-5zm-2 3h5v5h-5zm-17 3h5v5h-5zm0 12h5v5h-5zm67 7h5v5h-5zm3 3h5v5h-5zm-15 4h5v5h-5zm-15 3h5v5h-5zm-16-6h5v5h-5z" fill="#b2da94"/><path d="M78 92h5v5h-5zm-17-1h5v5h-5zm-7-7h5v5h-5zm-1 10h5v5h-5zm-5 1h5v5h-5zm5 7h5v5h-5zm6-2h5v5h-5zm0 7h5v5h-5zm6-7h5v5h-5zm1 15h5v5h-5zm0 3h5v5h-5zm-3-4h5v5h-5zm-3-4h5v5h-5zm0-2h5v5h-5zm-39 16h5v5h-5zm2-2h5v5h-5zm83 27h5v5h-5zm10-2h5v5h-5zm4 4h5v5h-5zm5 4h5v5h-5zm5 3h5v5h-5zm-5 3h5v5h-5zm-4 3h5v5h-5zm-12 3h5v5h-5zm0-5h5v5h-5zm-3 2h5v5h-5zm-2 2h5v5h-5zm-4-6h5v5h-5zm-25 15h5v5h-5zm60-2h5v5h-5zm6 2h5v5h-5z" fill="#6cafe5"/><path d="M57 81h5v5h-5zm23 12h5v5h-5zm-1 1h5v5h-5zm-1-7h5v5h-5zm-7 5h5v5h-5zm-4-5h5v5h-5zm-10-3h5v5h-5zm2 14h5v5h-5zm2 9h5v5h-5zm5-10h5v5h-5zm3 6h5v5h-5zm6 8h5v5h-5zm-13 2h5v5h-5zm-40 8h5v5h-5zm5 0h5v5h-5zm4 4h5v5h-5zm0 1h5v5h-5zm1 0h5v5h-5zm0 3h5v5h-5zm75 22h5v5h-5zm25 14h5v5h-5zm-29-1h5v5h-5zm-4-6h5v5h-5zm-1-1h5v5h-5zm-26 7h5v5h-5zm3 10h5v5h-5zm0 2h5v5h-5zm60 0h5v5h-5zm3-1h5v5h-5zm2-1h5v5h-5zm-54 6h5v5h-5z" fill="#8cc8ec"/><path d="M80 115h5v5h-5zm0 3h5v5h-5zm-11-6h5v5h-5zm-44 13h5v5h-5zm54-3h5v5h-5zm-15 12h5v5h-5zm0 0h5v5h-5zm-1-2h5v5h-5zm-11 9h5v5h-5zm-20-5h5v5h-5zm-4-1h5v5h-5zm-2 6h5v5h-5zm-2-3h5v5h-5zm-8-5h5v5h-5zm56 21h5v5h-5zm24-5h5v5h-5zm2-4h5v5h-5zm-27 14h5v5h-5zm-5 0h5v5h-5zm64 25h5v5h-5zm-48 4h5v5h-5z" fill="#e1de52"/><path d="M72 138h5v5h-5zm-31-1h5v5h-5zm-14 10h5v5h-5zm8 0h5v5h-5zm7-1h5v5h-5zm3 6h5v5h-5zm93 39h5v5h-5zm-36-1h5v5h-5zm-8 1h5v5h-5zm0-2h5v5h-5zm0-2h5v5h-5zm-3 1h5v5h-5zm-3-2h5v5h-5zm-4 15h5v5h-5zm0 2h5v5h-5zm28-7h5v5h-5zm4-3h5v5h-5zm-5 16h5v5h-5z" fill="#f69a23"/><path d="M55 80h5v5h-5zm6-1h5v5h-5zm4 1h5v5h-5zm11 15h5v5h-5zm-10-2h5v5h-5zm-28 10h5v5h-5zm0 0h5v5h-5zm6-2h5v5h-5zm3-2h5v5h-5zm7 7h5v5h-5zm6-1h5v5h-5zm3 14h5v5h-5zm-14-9h5v5h-5zm-17 8h5v5h-5zm-7 3h5v5h-5zm16 9h5v5h-5zm1-5h5v5h-5zm48 30h5v5h-5zm27-6h5v5h-5zm15 11h5v5h-5zm-17-1h5v5h-5zm-4-3h5v5h-5zm-5 10h5v5h-5zm0-2h5v5h-5zm-11-5h5v5h-5zm-4 4h5v5h-5zm-8-4h5v5h-5zm-7 11h5v5h-5zm27 0h5v5h-5zm3 5h5v5h-5zm0-2h5v5h-5zm7-5h5v5h-5zm18 7h5v5h-5zm-9 5h5v5h-5zm-12 0h5v5h-5z" fill="#4c96dd"/><path d="M57 82h5v5h-5zm-2 6h5v5h-5zm-6-1h5v5h-5zm-1 2h5v5h-5zm-4-5h5v5h-5zm-24 22h5v5h-5zm6 1h5v5h-5zm13-1h5v5h-5zm3-5h5v5h-5zm2-1h5v5h-5zm1-3h5v5h-5zm5 19h5v5h-5zm-5 2h5v5h-5zm-8 1h5v5h-5zm-7-3h5v5h-5zm-3-3h5v5h-5zm26 10h5v5h-5zm0-2h5v5h-5zm72 30h5v5h-5zm14 14h5v5h-5zm-4-5h5v5h-5zm-1 1h5v5h-5zm-7 0h5v5h-5zm0 0h5v5h-5zm-11 4h5v5h-5zm-3 1h5v5h-5zm-33 11h5v5h-5zm1-5h5v5h-5zm23 6h5v5h-5zm16-3h5v5h-5z" fill="#2e6fcd"/><path d="M42 143h5v5h-5zm54 51h5v5h-5zm5 3h5v5h-5zm17 9h5v5h-5zm-29-1h5v5h-5z" fill="#e63c1b"/><path d="M47 87h5v5h-5zm-10 6h5v5h-5zm-5-4h5v5h-5zm-4 0h5v5h-5zm0 5h5v5h-5zm2 11h5v5h-5zm3 2h5v5h-5zm2-3h5v5h-5zm1-3h5v5h-5zm-16 8h5v5h-5zm75 57h5v5h-5zm-17 0h5v5h-5zm4 9h5v5h-5zm3-5h5v5h-5z" fill="#1c4dad"/><path d="M66 85h5v5h-5zm-16 4h5v5h-5zm-6 0h5v5h-5zm-2 3h5v5h-5zm-7-6h5v5h-5zm-12 13h5v5h-5zm1-2h5v5h-5zm0 3h5v5h-5zm13 2h5v5h-5zm0-5h5v5h-5zm8 5h5v5h-5zm-6 14h5v5h-5zm3 6h5v5h-5zm42 43h5v5h-5zm-3 4h5v5h-5zm2 3h5v5h-5zm2 5h5v5h-5zm27-1h5v5h-5z" fill="#205cc4"/><path d="M74 84h5v5h-5zm-5 2h5v5h-5zm-17 4h5v5h-5zm-7 5h5v5h-5zm-20 3h5v5h-5zm18-1h5v5h-5zm6 2h5v5h-5zm7 5h5v5h-5zm1-7h5v5h-5zm9 22h5v5h-5zm-6-7h5v5h-5zm-17 7h5v5h-5zm-20-1h5v5h-5zm88 33h5v5h-5zm6-2h5v5h-5zm1 1h5v5h-5zm10 5h5v5h-5zm0-2h5v5h-5zm6 13h5v5h-5zm-4-2h5v5h-5zm-5-4h5v5h-5zm-6 1h5v5h-5zm-10 4h5v5h-5zm-4-1h5v5h-5zm-24 5h5v5h-5zm4 9h5v5h-5zm19-10h5v5h-5zm17 7h5v5h-5z" fill="#3b82d5"/><path d="M73 127h5v5h-5zm1 1h5v5h-5zm6-7h5v5h-5zm8 6h5v5h-5zm-6 16h5v5h-5zm-3 0h5v5h-5zm-13-8h5v5h-5zm-17 1h5v5h-5zm-16 0h5v5h-5zm-1 0h5v5h-5zm-10 7h5v5h-5zm1 2h5v5h-5zm34 7h5v5h-5zm19 2h5v5h-5zm55 34h5v5h-5zm-38-3h5v5h-5zm8 23h5v5h-5z" fill="#fade34"/><path d="M68 104h5v5h-5zm5-2h5v5h-5zm3 2h5v5h-5zm2-1h5v5h-5zm-3 9h5v5h-5zm-6-4h5v5h-5zm-1 7h5v5h-5zm-5-5h5v5h-5zm-44 20h5v5h-5zm7-4h5v5h-5zm0-6h5v5h-5zm3 8h5v5h-5zm6 0h5v5h-5zm28 0h5v5h-5zm38 15h5v5h-5zm-3 11h5v5h-5zm8-8h5v5h-5zm-2 10h5v5h-5zm-29 5h5v5h-5zm-1 1h5v5h-5zm67 9h5v5h-5zm-10 14h5v5h-5zm-30-4h5v5h-5zm-19 0h5v5h-5z" fill="#9fd1c0"/><path d="M33 102h5v5h-5zm49 61h5v5h-5z" fill="#193e96"/><path d="M118 198h5v5h-5z" fill="#db2319"/></g></g></defs><use href="#d32" filter="url(#hb)" opacity="0.45"/><use href="#d32"/><path d="M273.35,606.39C273.57,604.95 274.46,602.67 275.68,601.52C276.91,600.36 278.22,599.95 280.72,599.45C283.22,598.95 287.35,598.58 290.69,598.51C294.03,598.45 298.29,598.58 300.76,599.08C303.23,599.58 304.52,600.52 305.51,601.52C306.51,602.52 307,603.89 306.72,605.08C306.44,606.27 305.46,607.6 303.83,608.64C302.2,609.69 299.55,610.58 296.94,611.36C294.33,612.15 291.3,613.11 288.17,613.33C285.05,613.55 280.5,613.21 278.2,612.68C275.9,612.15 275.19,611.19 274.38,610.14C273.57,609.1 273.14,607.83 273.35,606.39Z" fill="none" stroke="#000" stroke-width="2.0" stroke-linejoin="round"/><path d="M292.61,614.34C294.75,612.6 301.11,608.57 304.89,607.17C308.66,605.76 312.22,605.9 315.24,605.9C318.26,605.9 320.96,606.08 323.01,607.17C325.05,608.25 326.65,610.45 327.51,612.4C328.38,614.36 328.63,616.58 328.18,618.9C327.74,621.23 326.39,624.24 324.83,626.38C323.26,628.51 320.9,630.09 318.79,631.71C316.68,633.33 314.6,635.25 312.17,636.08C309.74,636.9 306.74,636.9 304.21,636.66C301.69,636.42 298.7,636.01 297.02,634.62C295.35,633.23 294.93,630.5 294.15,628.32C293.36,626.13 292.68,623.3 292.33,621.52C291.97,619.75 291.99,618.84 292.04,617.64C292.09,616.45 290.47,616.09 292.61,614.34Z" fill="none" stroke="#000" stroke-width="2.0" stroke-linejoin="round"/><path d="M289.72,617.16C288.09,616.86 283.65,617.7 281.06,618.26C278.47,618.83 276.02,619.11 274.19,620.56C272.37,622 270.97,624.73 270.11,626.94C269.25,629.15 268.92,631.72 269.02,633.83C269.12,635.94 269.66,638.17 270.71,639.62C271.75,641.06 273.18,641.84 275.29,642.51C277.39,643.18 281.32,643.04 283.35,643.61C285.37,644.17 286.56,644.66 287.43,645.9C288.29,647.15 288.06,649.08 288.52,651.09C288.99,653.1 289.25,656.25 290.21,657.98C291.17,659.71 292.57,660.69 294.29,661.47C296.02,662.25 298.17,662.85 300.56,662.67C302.95,662.49 306.52,661.92 308.62,660.37C310.73,658.83 312.44,655.5 313.2,653.39C313.96,651.28 313.76,649.33 313.2,647.7C312.64,646.07 311.72,644.86 309.82,643.61C307.91,642.36 303.86,641.08 301.76,640.21C299.65,639.35 298.52,639.67 297.18,638.42C295.84,637.17 294.66,634.84 293.7,632.73C292.73,630.62 291.89,627.86 291.41,625.75C290.93,623.63 291.09,621.49 290.81,620.06C290.53,618.63 291.34,617.46 289.72,617.16Z" fill="none" stroke="#000" stroke-width="2.0" stroke-linejoin="round"/><rect x="351.2" y="592.3" width="68.9" height="73.1" fill="#fff" stroke="#000" stroke-width="1.5"/><line x1="348.2" y1="594.8" x2="351.2" y2="594.8" stroke="#000" stroke-width="1"/><line x1="348.2" y1="601.73" x2="351.2" y2="601.73" stroke="#000" stroke-width="1"/><line x1="348.2" y1="608.66" x2="351.2" y2="608.66" stroke="#000" stroke-width="1"/><line x1="348.2" y1="615.59" x2="351.2" y2="615.59" stroke="#000" stroke-width="1"/><line x1="348.2" y1="622.52" x2="351.2" y2="622.52" stroke="#000" stroke-width="1"/><line x1="348.2" y1="629.45" x2="351.2" y2="629.45" stroke="#000" stroke-width="1"/><line x1="348.2" y1="636.38" x2="351.2" y2="636.38" stroke="#000" stroke-width="1"/><line x1="348.2" y1="643.31" x2="351.2" y2="643.31" stroke="#000" stroke-width="1"/><line x1="348.2" y1="650.24" x2="351.2" y2="650.24" stroke="#000" stroke-width="1"/><line x1="348.2" y1="657.17" x2="351.2" y2="657.17" stroke="#000" stroke-width="1"/><line x1="359" y1="665.4" x2="359" y2="668.4" stroke="#000" stroke-width="1"/><line x1="367.66" y1="665.4" x2="367.66" y2="668.4" stroke="#000" stroke-width="1"/><line x1="376.32" y1="665.4" x2="376.32" y2="668.4" stroke="#000" stroke-width="1"/><line x1="384.98" y1="665.4" x2="384.98" y2="668.4" stroke="#000" stroke-width="1"/><line x1="393.64" y1="665.4" x2="393.64" y2="668.4" stroke="#000" stroke-width="1"/><line x1="402.3" y1="665.4" x2="402.3" y2="668.4" stroke="#000" stroke-width="1"/><line x1="410.96" y1="665.4" x2="410.96" y2="668.4" stroke="#000" stroke-width="1"/><line x1="419.62" y1="665.4" x2="419.62" y2="668.4" stroke="#000" stroke-width="1"/><path d="M360.06,606.86C360.28,605.52 361.18,603.39 362.42,602.31C363.67,601.23 364.99,600.86 367.53,600.39C370.07,599.92 374.26,599.57 377.65,599.51C381.04,599.46 385.36,599.57 387.87,600.04C390.37,600.51 391.68,601.38 392.69,602.31C393.7,603.25 394.21,604.53 393.92,605.64C393.64,606.75 392.64,607.99 390.99,608.96C389.33,609.94 386.64,610.77 383.99,611.5C381.34,612.23 378.27,613.13 375.1,613.34C371.93,613.54 367.31,613.22 364.97,612.73C362.64,612.23 361.92,611.34 361.1,610.36C360.28,609.39 359.83,608.2 360.06,606.86Z" fill="#f8fbfd"/><path d="M379.31,615.8C381.45,614.1 387.81,610.19 391.59,608.83C395.36,607.46 398.92,607.6 401.94,607.6C404.96,607.6 407.66,607.78 409.71,608.83C411.75,609.88 413.35,612.02 414.21,613.91C415.08,615.81 415.33,617.97 414.88,620.23C414.44,622.49 413.09,625.41 411.53,627.48C409.96,629.55 407.6,631.09 405.49,632.66C403.38,634.23 401.3,636.1 398.87,636.9C396.44,637.7 393.44,637.7 390.91,637.46C388.39,637.23 385.4,636.84 383.72,635.49C382.05,634.14 381.63,631.48 380.85,629.36C380.06,627.24 379.38,624.5 379.03,622.77C378.67,621.04 378.69,620.16 378.74,619C378.79,617.84 377.17,617.49 379.31,615.8Z" fill="#fbfcfb"/><path d="M375.93,618.06C374.27,617.77 369.74,618.58 367.1,619.14C364.46,619.69 361.96,619.97 360.1,621.39C358.23,622.81 356.81,625.48 355.93,627.65C355.05,629.82 354.72,632.33 354.82,634.4C354.92,636.47 355.48,638.65 356.54,640.07C357.61,641.49 359.06,642.26 361.21,642.91C363.36,643.56 367.37,643.43 369.44,643.98C371.5,644.54 372.72,645.01 373.6,646.23C374.48,647.46 374.24,649.35 374.71,651.32C375.19,653.29 375.46,656.38 376.44,658.07C377.42,659.77 378.84,660.73 380.6,661.49C382.36,662.26 384.56,662.85 387,662.67C389.43,662.49 393.07,661.93 395.22,660.42C397.37,658.9 399.11,655.64 399.89,653.57C400.67,651.5 400.47,649.59 399.89,648C399.31,646.4 398.38,645.21 396.44,643.98C394.49,642.76 390.36,641.51 388.22,640.66C386.07,639.81 384.92,640.12 383.55,638.9C382.18,637.68 380.97,635.39 379.99,633.32C379.01,631.25 378.15,628.55 377.66,626.47C377.17,624.4 377.34,622.3 377.05,620.9C376.76,619.5 377.59,618.36 375.93,618.06Z" fill="#fbfcfb"/><defs><g id="d33"><g transform="translate(350.37 591.46) scale(0.3333)"><path d="M92 23h5v5h-5zm24 14h5v5h-5zm-80 20h5v5h-5zm54-9h5v5h-5zm21 3h5v5h-5z" fill="#6cafe5"/><path d="M75 36h5v5h-5zm-13 8h5v5h-5zm46 10h5v5h-5z" fill="#2e6fcd"/><path d="M65 26h5v5h-5zm19 10h5v5h-5z" fill="#205cc4"/><path d="M55 35h5v5h-5zm-13 2h5v5h-5z" fill="#b2da94"/><path d="M68 30h5v5h-5zm30 3h5v5h-5zm24 4h5v5h-5zm-44 0h5v5h-5zm-49 2h5v5h-5zm21 12h5v5h-5zm3 10h5v5h-5z" fill="#3b82d5"/><path d="M96 26h5v5h-5zm3 2h5v5h-5zm-55 24h5v5h-5zm4 4h5v5h-5z" fill="#4c96dd"/><path d="M108 26h5v5h-5zm-13 15h5v5h-5z" fill="#8cc8ec"/><path d="M57 55h5v5h-5z" fill="#9fd1c0"/><path d="M115 49h5v5h-5z" fill="#c8de70"/><path d="M107 46h5v5h-5z" fill="#193e96"/><path d="M43 51h5v5h-5z" fill="#1c4dad"/></g><g transform="translate(350.37 591.46) scale(0.3333)"><path d="M139 54h5v5h-5zm1 0h5v5h-5zm37 9h5v5h-5zm-6 3h5v5h-5zm-43-5h5v5h-5zm-11 10h5v5h-5z" fill="#205cc4"/><path d="M147 57h5v5h-5zm25 5h5v5h-5zm-60 17h5v5h-5zm62 13h5v5h-5zm-86 1h5v5h-5zm81 6h5v5h-5zm0 1h5v5h-5z" fill="#2e6fcd"/><path d="M132 69h5v5h-5zm21 5h5v5h-5zm-48 13h5v5h-5zm-5 8h5v5h-5zm24 12h5v5h-5zm57-7h5v5h-5zm-26 13h5v5h-5zm-4 6h5v5h-5z" fill="#b2da94"/><path d="M129 54h5v5h-5zm41-5h5v5h-5zm-40 22h5v5h-5zm-13 5h5v5h-5zm25 7h5v5h-5zm44-3h5v5h-5zm0 13h5v5h-5zm-71 14h5v5h-5zm1-10h5v5h-5zm39 11h5v5h-5zm-3 2h5v5h-5zm-37 0h5v5h-5zm11 18h5v5h-5zm20 2h5v5h-5z" fill="#9fd1c0"/><path d="M152 56h5v5h-5zm34 10h5v5h-5zm-84 4h5v5h-5zm-17 11h5v5h-5zm59-7h5v5h-5zm-55 33h5v5h-5zm49-3h5v5h-5zm-34 17h5v5h-5z" fill="#6cafe5"/><path d="M100 77h5v5h-5zm54 13h5v5h-5zm-25 1h5v5h-5zm24 8h5v5h-5zm16 0h5v5h-5z" fill="#f7b029"/><path d="M117 69h5v5h-5zm15 14h5v5h-5zm58 0h5v5h-5zm-54 24h5v5h-5zm19-7h5v5h-5zm-42 24h5v5h-5zm37 1h5v5h-5z" fill="#e1de52"/><path d="M144 75h5v5h-5zm-17 10h5v5h-5zm3 17h5v5h-5zm-32 13h5v5h-5z" fill="#fade34"/><path d="M157 58h5v5h-5zm20 10h5v5h-5zm-13-8h5v5h-5zm-10 3h5v5h-5zm-20-3h5v5h-5zm-8 2h5v5h-5zm35 33h5v5h-5zm-72 3h5v5h-5zm19 1h5v5h-5zm65 2h5v5h-5zm-59 20h5v5h-5z" fill="#3b82d5"/><path d="M127 57h5v5h-5zm36 8h5v5h-5zm-15 18h5v5h-5zm-41 5h5v5h-5zm31 16h5v5h-5zm-46 8h5v5h-5zm68 10h5v5h-5z" fill="#8cc8ec"/><path d="M141 50h5v5h-5zm8 17h5v5h-5zm-12-4h5v5h-5zm6 15h5v5h-5zm2 2h5v5h-5zm2 3h5v5h-5zm-4 17h5v5h-5zm22 18h5v5h-5zm0-3h5v5h-5zm0 2h5v5h-5zm-45 16h5v5h-5z" fill="#4c96dd"/><path d="M151 111h5v5h-5zm-29 9h5v5h-5z" fill="#db2319"/><path d="M94 69h5v5h-5zm-4 1h5v5h-5zm12 6h5v5h-5zm26 7h5v5h-5zm19-2h5v5h-5zm33 14h5v5h-5zm-16-10h5v5h-5zm-34 5h5v5h-5zm-3-4h5v5h-5zm-34 10h5v5h-5zm85 5h5v5h-5zm-57 15h5v5h-5zm-10 1h5v5h-5zm-2-5h5v5h-5zm-12 9h5v5h-5zm17 4h5v5h-5zm17 4h5v5h-5zm1-2h5v5h-5z" fill="#c8de70"/><path d="M158 54h5v5h-5zm2 39h5v5h-5zm18 10h5v5h-5zm-26 6h5v5h-5z" fill="#f9c72e"/><path d="M153 69h5v5h-5zm0-5h5v5h-5zm-11 29h5v5h-5z" fill="#193e96"/><path d="M136 96h5v5h-5zm-7 29h5v5h-5z" fill="#ec5d1d"/><path d="M184 69h5v5h-5zm-20 41h5v5h-5z" fill="#1c4dad"/><path d="M135 125h5v5h-5z" fill="#f27f1f"/><path d="M125 89h5v5h-5z" fill="#e63c1b"/></g><g transform="translate(350.37 591.46) scale(0.3333)"><path d="M49 92h5v5h-5zm4 12h5v5h-5zm23 10h5v5h-5zm-32 2h5v5h-5zm-5 13h5v5h-5zm17 8h5v5h-5zm-21-5h5v5h-5zm0 0h5v5h-5zm-16 6h5v5h-5zm11 9h5v5h-5zm44-3h5v5h-5zm23 8h5v5h-5zm0-4h5v5h-5zm40 9h5v5h-5zm-11 5h5v5h-5zm-43 11h5v5h-5zm21-1h5v5h-5zm12 1h5v5h-5zm1 12h5v5h-5zm-2-3h5v5h-5zm-4-1h5v5h-5zm9 13h5v5h-5z" fill="#fade34"/><path d="M71 88h5v5h-5zm-27 6h5v5h-5zm-9-2h5v5h-5zm16 9h5v5h-5zm12 4h5v5h-5zm8 12h5v5h-5zm-40-8h5v5h-5zm0 6h5v5h-5zm31 21h5v5h-5zm-25 0h5v5h-5zm39 11h5v5h-5zm18-3h5v5h-5zm36 19h5v5h-5zm-5 1h5v5h-5zm-5 2h5v5h-5zm-18-7h5v5h-5zm-7 2h5v5h-5zm-3 4h5v5h-5zm0-9h5v5h-5zm24 13h5v5h-5zm11 5h5v5h-5zm18-1h5v5h-5zm-4 17h5v5h-5zm-17-6h5v5h-5zm-7 4h5v5h-5zm-3 0h5v5h-5zm-7-6h5v5h-5zm-14 5h5v5h-5zm-8-3h5v5h-5zm-4 3h5v5h-5zm14 12h5v5h-5zm3-1h5v5h-5zm2-2h5v5h-5zm2 10h5v5h-5z" fill="#b2da94"/><path d="M72 90h5v5h-5zm-22 6h5v5h-5zm18 1h5v5h-5zm8 19h5v5h-5zm-57 7h5v5h-5zm19 8h5v5h-5zm15-6h5v5h-5zm24-5h5v5h-5zm17 23h5v5h-5zm-28-2h5v5h-5zm-4 8h5v5h-5zm34-1h5v5h-5zm12 14h5v5h-5zm-2 4h5v5h-5zm-14-3h5v5h-5zm21 14h5v5h-5zm26-7h5v5h-5zm3 6h5v5h-5zm-23 12h5v5h-5zm-7-7h5v5h-5zm-18 4h5v5h-5zm-4 1h5v5h-5zm-14 11h5v5h-5zm35 5h5v5h-5zm15-4h5v5h-5z" fill="#e1de52"/><path d="M54 88h5v5h-5zm-18 16h5v5h-5zm40 6h5v5h-5zm-34 5h5v5h-5zm-29 0h5v5h-5zm64 26h5v5h-5zm-14-5h5v5h-5zm9 10h5v5h-5zm23-2h5v5h-5zm3 8h5v5h-5zm4-3h5v5h-5zm1 1h5v5h-5zm8-5h5v5h-5zm10 21h5v5h-5zm-9 0h5v5h-5zm-1-7h5v5h-5zm-19 24h5v5h-5zm-7 4h5v5h-5zm0-6h5v5h-5zm19 20h5v5h-5zm20-6h5v5h-5zm-39 9h5v5h-5z" fill="#9fd1c0"/><path d="M66 82h5v5h-5zm-4 3h5v5h-5zm-18 14h5v5h-5zm17 14h5v5h-5zm-19 6h5v5h-5zm-18 8h5v5h-5zm15 0h5v5h-5zm18 2h5v5h-5zm30 0h5v5h-5zm11 14h5v5h-5zm-2-3h5v5h-5zm-34 14h5v5h-5zm22 0h5v5h-5zm59 10h5v5h-5zm-15-8h5v5h-5zm-45 22h5v5h-5zm50 12h5v5h-5zm-19-3h5v5h-5zm-4-6h5v5h-5zm1 22h5v5h-5zm-17 4h5v5h-5z" fill="#c8de70"/><path d="M17 104h5v5h-5zm2-2h5v5h-5zm18 11h5v5h-5zm69 42h5v5h-5zm-22 12h5v5h-5zm13 3h5v5h-5zm6 6h5v5h-5zm7-5h5v5h-5zm21 24h5v5h-5zm-45 9h5v5h-5z" fill="#2e6fcd"/><path d="M54 83h5v5h-5zm22-1h5v5h-5zm-40 10h5v5h-5zm-3 3h5v5h-5zm-3 0h5v5h-5zm27 9h5v5h-5zm23 12h5v5h-5zm-9-1h5v5h-5zm-4 4h5v5h-5zm-23 22h5v5h-5zm-1-2h5v5h-5zm-19-7h5v5h-5zm27 16h5v5h-5zm36 5h5v5h-5zm5 0h5v5h-5zm9-6h5v5h-5zm5 7h5v5h-5zm-26 2h5v5h-5zm-8 21h5v5h-5zm10-7h5v5h-5zm19 5h5v5h-5zm6-1h5v5h-5zm1 1h5v5h-5zm-17 5h5v5h-5zm-12 0h5v5h-5zm17 17h5v5h-5z" fill="#8cc8ec"/><path d="M36 88h5v5h-5zm-8 4h5v5h-5zm48 65h5v5h-5zm11 47h5v5h-5z" fill="#193e96"/><path d="M59 88h5v5h-5zm-27 6h5v5h-5zm-9 13h5v5h-5zm48 9h5v5h-5zm-34 0h5v5h-5zm-22-3h5v5h-5zm11 12h5v5h-5zm17 15h5v5h-5zm42 14h5v5h-5zm29 19h5v5h-5zm-33 25h5v5h-5zm5 4h5v5h-5zm7 6h5v5h-5z" fill="#3b82d5"/><path d="M45 83h5v5h-5zm-5 6h5v5h-5zm-11 10h5v5h-5zm24 1h5v5h-5zm19 16h5v5h-5zm-9-4h5v5h-5zm-31 6h5v5h-5zm-11-1h5v5h-5zm21 3h5v5h-5zm8 6h5v5h-5zm3-5h5v5h-5zm22 6h5v5h-5zm1 16h5v5h-5zm-18-10h5v5h-5zm-27-1h5v5h-5zm84 31h5v5h-5zm-2 3h5v5h-5zm-21-7h5v5h-5zm-14 7h5v5h-5zm27 11h5v5h-5zm-5 8h5v5h-5zm-21 2h5v5h-5z" fill="#6cafe5"/><path d="M75 89h5v5h-5zm-48 9h5v5h-5zm28 2h5v5h-5zm15-4h5v5h-5zm9 19h5v5h-5zm25 50h5v5h-5zm38 17h5v5h-5zm-50 3h5v5h-5z" fill="#f7b029"/><path d="M61 81h5v5h-5zm3 14h5v5h-5zm-25-10h5v5h-5zm-16 10h5v5h-5zm-5 5h5v5h-5zm22-1h5v5h-5zm29 17h5v5h-5zm-35-8h5v5h-5zm-14 20h5v5h-5zm28-5h5v5h-5zm55 21h5v5h-5zm18 13h5v5h-5zm-32 19h5v5h-5zm12 2h5v5h-5zm6-7h5v5h-5zm2 21h5v5h-5zm12 6h5v5h-5z" fill="#4c96dd"/><path d="M71 131h5v5h-5zm12 7h5v5h-5zm-10-6h5v5h-5zm-13 6h5v5h-5zm-16 1h5v5h-5zm-9-2h5v5h-5zm-12 5h5v5h-5zm-2 2h5v5h-5zm68 19h5v5h-5zm37 17h5v5h-5zm-32 12h5v5h-5z" fill="#f9c72e"/><path d="M63 83h5v5h-5zm-27 54h5v5h-5z" fill="#ec5d1d"/><path d="M66 88h5v5h-5zm-18 16h5v5h-5zm34 39h5v5h-5zm3 1h5v5h-5zm57 35h5v5h-5zm-33 21h5v5h-5z" fill="#f27f1f"/><path d="M43 107h5v5h-5zm32 62h5v5h-5zm20 38h5v5h-5z" fill="#205cc4"/><path d="M51 103h5v5h-5zm8-2h5v5h-5zm-23 50h5v5h-5zm53-2h5v5h-5zm34 30h5v5h-5zm7-6h5v5h-5zm12 8h5v5h-5z" fill="#f69a23"/><path d="M38 110h5v5h-5zm57 64h5v5h-5zm-10 28h5v5h-5z" fill="#1c4dad"/><path d="M142 189h5v5h-5z" fill="#db2319"/></g></g></defs><use href="#d33" filter="url(#hb)" opacity="0.45"/><use href="#d33"/><path d="M360.06,606.86C360.28,605.52 361.18,603.39 362.42,602.31C363.67,601.23 364.99,600.86 367.53,600.39C370.07,599.92 374.26,599.57 377.65,599.51C381.04,599.46 385.36,599.57 387.87,600.04C390.37,600.51 391.68,601.38 392.69,602.31C393.7,603.25 394.21,604.53 393.92,605.64C393.64,606.75 392.64,607.99 390.99,608.96C389.33,609.94 386.64,610.77 383.99,611.5C381.34,612.23 378.27,613.13 375.1,613.34C371.93,613.54 367.31,613.22 364.97,612.73C362.64,612.23 361.92,611.34 361.1,610.36C360.28,609.39 359.83,608.2 360.06,606.86Z" fill="none" stroke="#000" stroke-width="2.0" stroke-linejoin="round"/><path d="M379.31,615.8C381.45,614.1 387.81,610.19 391.59,608.83C395.36,607.46 398.92,607.6 401.94,607.6C404.96,607.6 407.66,607.78 409.71,608.83C411.75,609.88 413.35,612.02 414.21,613.91C415.08,615.81 415.33,617.97 414.88,620.23C414.44,622.49 413.09,625.41 411.53,627.48C409.96,629.55 407.6,631.09 405.49,632.66C403.38,634.23 401.3,636.1 398.87,636.9C396.44,637.7 393.44,637.7 390.91,637.46C388.39,637.23 385.4,636.84 383.72,635.49C382.05,634.14 381.63,631.48 380.85,629.36C380.06,627.24 379.38,624.5 379.03,622.77C378.67,621.04 378.69,620.16 378.74,619C378.79,617.84 377.17,617.49 379.31,615.8Z" fill="none" stroke="#000" stroke-width="2.0" stroke-linejoin="round"/><path d="M375.93,618.06C374.27,617.77 369.74,618.58 367.1,619.14C364.46,619.69 361.96,619.97 360.1,621.39C358.23,622.81 356.81,625.48 355.93,627.65C355.05,629.82 354.72,632.33 354.82,634.4C354.92,636.47 355.48,638.65 356.54,640.07C357.61,641.49 359.06,642.26 361.21,642.91C363.36,643.56 367.37,643.43 369.44,643.98C371.5,644.54 372.72,645.01 373.6,646.23C374.48,647.46 374.24,649.35 374.71,651.32C375.19,653.29 375.46,656.38 376.44,658.07C377.42,659.77 378.84,660.73 380.6,661.49C382.36,662.26 384.56,662.85 387,662.67C389.43,662.49 393.07,661.93 395.22,660.42C397.37,658.9 399.11,655.64 399.89,653.57C400.67,651.5 400.47,649.59 399.89,648C399.31,646.4 398.38,645.21 396.44,643.98C394.49,642.76 390.36,641.51 388.22,640.66C386.07,639.81 384.92,640.12 383.55,638.9C382.18,637.68 380.97,635.39 379.99,633.32C379.01,631.25 378.15,628.55 377.66,626.47C377.17,624.4 377.34,622.3 377.05,620.9C376.76,619.5 377.59,618.36 375.93,618.06Z" fill="none" stroke="#000" stroke-width="2.0" stroke-linejoin="round"/><text x="124.5" y="352.3" font-size="8.5" text-anchor="middle" fill="#222" style="stroke-width:0.1px">23.8</text><text x="141.3" y="367.7" font-size="8.5" text-anchor="middle" fill="#222" style="stroke-width:0.1px">59.0</text><text x="113.8" y="376.9" font-size="8.5" text-anchor="middle" fill="#222" style="stroke-width:0.1px">8.2</text><text x="100.4" y="393.7" font-size="8.3" text-anchor="middle">Central</text><text x="100" y="402" font-size="8.3" text-anchor="middle">Memory</text><text x="125.9" y="432.9" font-size="8.5" text-anchor="middle" fill="#222" style="stroke-width:0.1px">3.2</text><text x="141.6" y="448.6" font-size="8.5" text-anchor="middle" fill="#222" style="stroke-width:0.1px">47.6</text><text x="114.3" y="457.6" font-size="8.5" text-anchor="middle" fill="#222" style="stroke-width:0.1px">40.8</text><defs><linearGradient id="cb" x1="0" y1="0" x2="0" y2="1"><stop offset="0" stop-color="#d41f1f"/><stop offset="0.28" stop-color="#f07f1f"/><stop offset="0.5" stop-color="#f2df1c"/><stop offset="0.7" stop-color="#35a23a"/><stop offset="0.82" stop-color="#0f7f6e"/><stop offset="1" stop-color="#1f2f84"/></linearGradient></defs><rect x="443.8" y="590.4" width="4" height="71.6" fill="url(#cb)"/><text x="450.9" y="597.7" font-size="8.3">High</text><text x="452.7" y="660.9" font-size="8.3">Low</text><rect x="0.75" y="0.75" width="518.5" height="694.5" fill="none" stroke="#000" stroke-width="1.5"/></svg></body></html>
